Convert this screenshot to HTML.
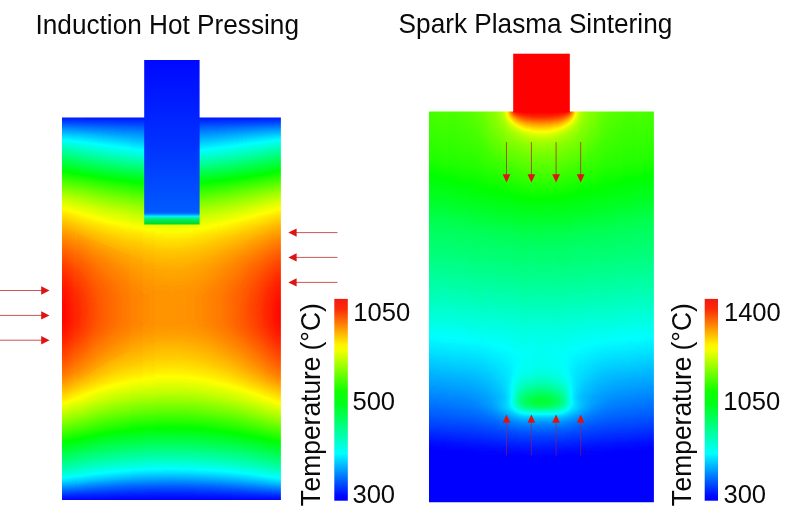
<!DOCTYPE html>
<html lang="en">
<head>
<meta charset="utf-8">
<title>Induction Hot Pressing vs Spark Plasma Sintering</title>
<style>
html,body{margin:0;padding:0;background:#fff;}
body{width:800px;height:526px;overflow:hidden;}
svg{display:block;}
text{font-family:"Liberation Sans",Arial,Helvetica,sans-serif;fill:#0a0a0a;}
.ttl{font-size:26.2px;}
.lab{font-size:25.6px;}
.rot{font-size:26.4px;}
.al{stroke:#b42420;stroke-width:.9;stroke-opacity:.85;fill:none;}
.ab{stroke:#c01838;stroke-opacity:.62;}
.ah{fill:#de1414;stroke:none;}
</style>
</head>
<body>
<svg width="800" height="526" viewBox="0 0 800 526">
<defs>
<filter id="rbl" filterUnits="userSpaceOnUse" x="40" y="95" width="265" height="430" color-interpolation-filters="sRGB">
<feGaussianBlur stdDeviation="4 2"/>
<feComponentTransfer>
<feFuncR type="table" tableValues="0 0 0 1 1"/>
<feFuncG type="table" tableValues="0 1 1 1 0"/>
<feFuncB type="table" tableValues="1 1 0 0 0"/>
<feFuncA type="linear" slope="0" intercept="1"/>
</feComponentTransfer>
</filter>
<filter id="rbr" filterUnits="userSpaceOnUse" x="405" y="90" width="275" height="436" color-interpolation-filters="sRGB">
<feGaussianBlur stdDeviation="2.2 1.2"/>
<feComponentTransfer>
<feFuncR type="table" tableValues="0 0 0 1 1"/>
<feFuncG type="table" tableValues="0 1 1 1 0"/>
<feFuncB type="table" tableValues="1 1 0 0 0"/>
<feFuncA type="linear" slope="0" intercept="1"/>
</feComponentTransfer>
</filter>
<clipPath id="cl"><rect x="62.0" y="117.4" width="218.89999999999998" height="382.6"/></clipPath>
<clipPath id="cr"><rect x="429.0" y="111.5" width="224.89999999999998" height="390.7"/></clipPath>
<linearGradient id="bar" x1="0" y1="0" x2="0" y2="1">
<stop offset="0" stop-color="#f21a12"/><stop offset="0.05" stop-color="#fb2a08"/><stop offset="0.225" stop-color="#fff200"/>
<stop offset="0.255" stop-color="#f4ff00"/><stop offset="0.455" stop-color="#10ff00"/><stop offset="0.52" stop-color="#00ff18"/>
<stop offset="0.765" stop-color="#00ffff"/><stop offset="0.975" stop-color="#0008ff"/><stop offset="1" stop-color="#0000ff"/>
</linearGradient>
<linearGradient id="plg" x1="0" y1="60" x2="0" y2="224.5" gradientUnits="userSpaceOnUse">
<stop offset="0" stop-color="#0008ff"/><stop offset="0.5" stop-color="#0030ff"/><stop offset="0.925" stop-color="#005aff"/>
<stop offset="0.935" stop-color="#0078ff"/><stop offset="0.95" stop-color="#00f0ff"/><stop offset="0.972" stop-color="#00ec50"/>
<stop offset="1" stop-color="#00d82c"/>
</linearGradient>
<linearGradient id="l0" x1="0" y1="103.4" x2="0" y2="517.4" gradientUnits="userSpaceOnUse"><stop offset="0" stop-color="#020202"/><stop offset=".029" stop-color="#020202"/><stop offset=".0435" stop-color="#0f0f0f"/><stop offset=".058" stop-color="#202020"/><stop offset=".0725" stop-color="#303030"/><stop offset=".087" stop-color="#3f3f3f"/><stop offset=".1014" stop-color="#4d4d4d"/><stop offset=".1159" stop-color="#5a5a5a"/><stop offset=".1304" stop-color="#666666"/><stop offset=".1449" stop-color="#717171"/><stop offset=".1594" stop-color="#7c7c7c"/><stop offset=".1739" stop-color="#888888"/><stop offset=".1884" stop-color="#939393"/><stop offset=".2029" stop-color="#9e9e9e"/><stop offset=".2174" stop-color="#a9a9a9"/><stop offset=".2319" stop-color="#b3b3b3"/><stop offset=".2464" stop-color="#bcbcbc"/><stop offset=".2609" stop-color="#c3c3c3"/><stop offset=".2754" stop-color="#cacaca"/><stop offset=".2899" stop-color="#d0d0d0"/><stop offset=".3043" stop-color="#d5d5d5"/><stop offset=".3188" stop-color="#dbdbdb"/><stop offset=".3333" stop-color="#e0e0e0"/><stop offset=".3478" stop-color="#e4e4e4"/><stop offset=".3623" stop-color="#e9e9e9"/><stop offset=".3768" stop-color="#ededed"/><stop offset=".3913" stop-color="#f0f0f0"/><stop offset=".4058" stop-color="#f4f4f4"/><stop offset=".4203" stop-color="#f6f6f6"/><stop offset=".4348" stop-color="#f9f9f9"/><stop offset=".4493" stop-color="#fbfbfb"/><stop offset=".4638" stop-color="#fcfcfc"/><stop offset=".4783" stop-color="#fefefe"/><stop offset=".4928" stop-color="#fefefe"/><stop offset=".5072" stop-color="#ffffff"/><stop offset=".5217" stop-color="#fefefe"/><stop offset=".5362" stop-color="#fdfdfd"/><stop offset=".5507" stop-color="#fcfcfc"/><stop offset=".5652" stop-color="#f9f9f9"/><stop offset=".5797" stop-color="#f6f6f6"/><stop offset=".5942" stop-color="#f2f2f2"/><stop offset=".6087" stop-color="#efefef"/><stop offset=".6232" stop-color="#ebebeb"/><stop offset=".6377" stop-color="#e7e7e7"/><stop offset=".6522" stop-color="#e3e3e3"/><stop offset=".6667" stop-color="#dddddd"/><stop offset=".6812" stop-color="#d6d6d6"/><stop offset=".6957" stop-color="#cfcfcf"/><stop offset=".7101" stop-color="#c8c8c8"/><stop offset=".7246" stop-color="#c0c0c0"/><stop offset=".7391" stop-color="#b7b7b7"/><stop offset=".7536" stop-color="#aeaeae"/><stop offset=".7681" stop-color="#a4a4a4"/><stop offset=".7826" stop-color="#999999"/><stop offset=".7971" stop-color="#8f8f8f"/><stop offset=".8116" stop-color="#858585"/><stop offset=".8261" stop-color="#7a7a7a"/><stop offset=".8406" stop-color="#717171"/><stop offset=".8551" stop-color="#676767"/><stop offset=".8696" stop-color="#5d5d5d"/><stop offset=".8841" stop-color="#535353"/><stop offset=".8986" stop-color="#474747"/><stop offset=".913" stop-color="#383838"/><stop offset=".9275" stop-color="#242424"/><stop offset=".942" stop-color="#111111"/><stop offset=".9565" stop-color="#000000"/><stop offset="1" stop-color="#000000"/></linearGradient>
<linearGradient id="l1" x1="0" y1="103.4" x2="0" y2="517.4" gradientUnits="userSpaceOnUse"><stop offset="0" stop-color="#020202"/><stop offset=".029" stop-color="#020202"/><stop offset=".0435" stop-color="#0f0f0f"/><stop offset=".058" stop-color="#202020"/><stop offset=".0725" stop-color="#303030"/><stop offset=".087" stop-color="#3f3f3f"/><stop offset=".1014" stop-color="#4d4d4d"/><stop offset=".1159" stop-color="#5a5a5a"/><stop offset=".1304" stop-color="#666666"/><stop offset=".1449" stop-color="#717171"/><stop offset=".1594" stop-color="#7c7c7c"/><stop offset=".1739" stop-color="#888888"/><stop offset=".1884" stop-color="#939393"/><stop offset=".2029" stop-color="#9e9e9e"/><stop offset=".2174" stop-color="#a9a9a9"/><stop offset=".2319" stop-color="#b3b3b3"/><stop offset=".2464" stop-color="#bcbcbc"/><stop offset=".2609" stop-color="#c3c3c3"/><stop offset=".2754" stop-color="#cacaca"/><stop offset=".2899" stop-color="#d0d0d0"/><stop offset=".3043" stop-color="#d5d5d5"/><stop offset=".3188" stop-color="#dbdbdb"/><stop offset=".3333" stop-color="#e0e0e0"/><stop offset=".3478" stop-color="#e4e4e4"/><stop offset=".3623" stop-color="#e9e9e9"/><stop offset=".3768" stop-color="#ededed"/><stop offset=".3913" stop-color="#f0f0f0"/><stop offset=".4058" stop-color="#f4f4f4"/><stop offset=".4203" stop-color="#f6f6f6"/><stop offset=".4348" stop-color="#f9f9f9"/><stop offset=".4493" stop-color="#fbfbfb"/><stop offset=".4638" stop-color="#fcfcfc"/><stop offset=".4783" stop-color="#fefefe"/><stop offset=".4928" stop-color="#fefefe"/><stop offset=".5072" stop-color="#ffffff"/><stop offset=".5217" stop-color="#fefefe"/><stop offset=".5362" stop-color="#fdfdfd"/><stop offset=".5507" stop-color="#fcfcfc"/><stop offset=".5652" stop-color="#f9f9f9"/><stop offset=".5797" stop-color="#f6f6f6"/><stop offset=".5942" stop-color="#f2f2f2"/><stop offset=".6087" stop-color="#efefef"/><stop offset=".6232" stop-color="#ebebeb"/><stop offset=".6377" stop-color="#e7e7e7"/><stop offset=".6522" stop-color="#e3e3e3"/><stop offset=".6667" stop-color="#dddddd"/><stop offset=".6812" stop-color="#d6d6d6"/><stop offset=".6957" stop-color="#cfcfcf"/><stop offset=".7101" stop-color="#c8c8c8"/><stop offset=".7246" stop-color="#c0c0c0"/><stop offset=".7391" stop-color="#b7b7b7"/><stop offset=".7536" stop-color="#aeaeae"/><stop offset=".7681" stop-color="#a4a4a4"/><stop offset=".7826" stop-color="#999999"/><stop offset=".7971" stop-color="#8f8f8f"/><stop offset=".8116" stop-color="#858585"/><stop offset=".8261" stop-color="#7a7a7a"/><stop offset=".8406" stop-color="#717171"/><stop offset=".8551" stop-color="#676767"/><stop offset=".8696" stop-color="#5d5d5d"/><stop offset=".8841" stop-color="#535353"/><stop offset=".8986" stop-color="#474747"/><stop offset=".913" stop-color="#383838"/><stop offset=".9275" stop-color="#242424"/><stop offset=".942" stop-color="#111111"/><stop offset=".9565" stop-color="#000000"/><stop offset="1" stop-color="#000000"/></linearGradient>
<linearGradient id="l2" x1="0" y1="103.4" x2="0" y2="517.4" gradientUnits="userSpaceOnUse"><stop offset="0" stop-color="#020202"/><stop offset=".029" stop-color="#020202"/><stop offset=".0435" stop-color="#0f0f0f"/><stop offset=".058" stop-color="#202020"/><stop offset=".0725" stop-color="#303030"/><stop offset=".087" stop-color="#3f3f3f"/><stop offset=".1014" stop-color="#4d4d4d"/><stop offset=".1159" stop-color="#5a5a5a"/><stop offset=".1304" stop-color="#666666"/><stop offset=".1449" stop-color="#717171"/><stop offset=".1594" stop-color="#7c7c7c"/><stop offset=".1739" stop-color="#888888"/><stop offset=".1884" stop-color="#939393"/><stop offset=".2029" stop-color="#9e9e9e"/><stop offset=".2174" stop-color="#a9a9a9"/><stop offset=".2319" stop-color="#b3b3b3"/><stop offset=".2464" stop-color="#bcbcbc"/><stop offset=".2609" stop-color="#c3c3c3"/><stop offset=".2754" stop-color="#cacaca"/><stop offset=".2899" stop-color="#d0d0d0"/><stop offset=".3043" stop-color="#d5d5d5"/><stop offset=".3188" stop-color="#dbdbdb"/><stop offset=".3333" stop-color="#e0e0e0"/><stop offset=".3478" stop-color="#e4e4e4"/><stop offset=".3623" stop-color="#e9e9e9"/><stop offset=".3768" stop-color="#ededed"/><stop offset=".3913" stop-color="#f0f0f0"/><stop offset=".4058" stop-color="#f4f4f4"/><stop offset=".4203" stop-color="#f6f6f6"/><stop offset=".4348" stop-color="#f9f9f9"/><stop offset=".4493" stop-color="#fbfbfb"/><stop offset=".4638" stop-color="#fcfcfc"/><stop offset=".4783" stop-color="#fefefe"/><stop offset=".4928" stop-color="#fefefe"/><stop offset=".5072" stop-color="#ffffff"/><stop offset=".5217" stop-color="#fefefe"/><stop offset=".5362" stop-color="#fdfdfd"/><stop offset=".5507" stop-color="#fcfcfc"/><stop offset=".5652" stop-color="#f9f9f9"/><stop offset=".5797" stop-color="#f6f6f6"/><stop offset=".5942" stop-color="#f2f2f2"/><stop offset=".6087" stop-color="#efefef"/><stop offset=".6232" stop-color="#ebebeb"/><stop offset=".6377" stop-color="#e7e7e7"/><stop offset=".6522" stop-color="#e3e3e3"/><stop offset=".6667" stop-color="#dddddd"/><stop offset=".6812" stop-color="#d6d6d6"/><stop offset=".6957" stop-color="#cfcfcf"/><stop offset=".7101" stop-color="#c8c8c8"/><stop offset=".7246" stop-color="#c0c0c0"/><stop offset=".7391" stop-color="#b7b7b7"/><stop offset=".7536" stop-color="#aeaeae"/><stop offset=".7681" stop-color="#a4a4a4"/><stop offset=".7826" stop-color="#999999"/><stop offset=".7971" stop-color="#8f8f8f"/><stop offset=".8116" stop-color="#858585"/><stop offset=".8261" stop-color="#7a7a7a"/><stop offset=".8406" stop-color="#717171"/><stop offset=".8551" stop-color="#676767"/><stop offset=".8696" stop-color="#5d5d5d"/><stop offset=".8841" stop-color="#535353"/><stop offset=".8986" stop-color="#474747"/><stop offset=".913" stop-color="#383838"/><stop offset=".9275" stop-color="#242424"/><stop offset=".942" stop-color="#111111"/><stop offset=".9565" stop-color="#000000"/><stop offset="1" stop-color="#000000"/></linearGradient>
<linearGradient id="l3" x1="0" y1="103.4" x2="0" y2="517.4" gradientUnits="userSpaceOnUse"><stop offset="0" stop-color="#020202"/><stop offset=".029" stop-color="#020202"/><stop offset=".0435" stop-color="#0f0f0f"/><stop offset=".058" stop-color="#202020"/><stop offset=".0725" stop-color="#303030"/><stop offset=".087" stop-color="#3f3f3f"/><stop offset=".1014" stop-color="#4d4d4d"/><stop offset=".1159" stop-color="#5a5a5a"/><stop offset=".1304" stop-color="#666666"/><stop offset=".1449" stop-color="#717171"/><stop offset=".1594" stop-color="#7c7c7c"/><stop offset=".1739" stop-color="#888888"/><stop offset=".1884" stop-color="#939393"/><stop offset=".2029" stop-color="#9e9e9e"/><stop offset=".2174" stop-color="#a9a9a9"/><stop offset=".2319" stop-color="#b3b3b3"/><stop offset=".2464" stop-color="#bcbcbc"/><stop offset=".2609" stop-color="#c3c3c3"/><stop offset=".2754" stop-color="#cacaca"/><stop offset=".2899" stop-color="#d0d0d0"/><stop offset=".3043" stop-color="#d5d5d5"/><stop offset=".3188" stop-color="#dbdbdb"/><stop offset=".3333" stop-color="#e0e0e0"/><stop offset=".3478" stop-color="#e4e4e4"/><stop offset=".3623" stop-color="#e9e9e9"/><stop offset=".3768" stop-color="#ededed"/><stop offset=".3913" stop-color="#f0f0f0"/><stop offset=".4058" stop-color="#f4f4f4"/><stop offset=".4203" stop-color="#f6f6f6"/><stop offset=".4348" stop-color="#f9f9f9"/><stop offset=".4493" stop-color="#fbfbfb"/><stop offset=".4638" stop-color="#fcfcfc"/><stop offset=".4783" stop-color="#fefefe"/><stop offset=".4928" stop-color="#fefefe"/><stop offset=".5072" stop-color="#ffffff"/><stop offset=".5217" stop-color="#fefefe"/><stop offset=".5362" stop-color="#fdfdfd"/><stop offset=".5507" stop-color="#fcfcfc"/><stop offset=".5652" stop-color="#f9f9f9"/><stop offset=".5797" stop-color="#f6f6f6"/><stop offset=".5942" stop-color="#f2f2f2"/><stop offset=".6087" stop-color="#efefef"/><stop offset=".6232" stop-color="#ebebeb"/><stop offset=".6377" stop-color="#e7e7e7"/><stop offset=".6522" stop-color="#e3e3e3"/><stop offset=".6667" stop-color="#dddddd"/><stop offset=".6812" stop-color="#d6d6d6"/><stop offset=".6957" stop-color="#cfcfcf"/><stop offset=".7101" stop-color="#c8c8c8"/><stop offset=".7246" stop-color="#c0c0c0"/><stop offset=".7391" stop-color="#b7b7b7"/><stop offset=".7536" stop-color="#aeaeae"/><stop offset=".7681" stop-color="#a4a4a4"/><stop offset=".7826" stop-color="#999999"/><stop offset=".7971" stop-color="#8f8f8f"/><stop offset=".8116" stop-color="#858585"/><stop offset=".8261" stop-color="#7a7a7a"/><stop offset=".8406" stop-color="#717171"/><stop offset=".8551" stop-color="#676767"/><stop offset=".8696" stop-color="#5d5d5d"/><stop offset=".8841" stop-color="#535353"/><stop offset=".8986" stop-color="#474747"/><stop offset=".913" stop-color="#383838"/><stop offset=".9275" stop-color="#242424"/><stop offset=".942" stop-color="#111111"/><stop offset=".9565" stop-color="#000000"/><stop offset="1" stop-color="#000000"/></linearGradient>
<linearGradient id="l4" x1="0" y1="103.4" x2="0" y2="517.4" gradientUnits="userSpaceOnUse"><stop offset="0" stop-color="#020202"/><stop offset=".029" stop-color="#020202"/><stop offset=".0435" stop-color="#0f0f0f"/><stop offset=".058" stop-color="#202020"/><stop offset=".0725" stop-color="#303030"/><stop offset=".087" stop-color="#3f3f3f"/><stop offset=".1014" stop-color="#4d4d4d"/><stop offset=".1159" stop-color="#5a5a5a"/><stop offset=".1304" stop-color="#666666"/><stop offset=".1449" stop-color="#717171"/><stop offset=".1594" stop-color="#7c7c7c"/><stop offset=".1739" stop-color="#888888"/><stop offset=".1884" stop-color="#939393"/><stop offset=".2029" stop-color="#9e9e9e"/><stop offset=".2174" stop-color="#a9a9a9"/><stop offset=".2319" stop-color="#b3b3b3"/><stop offset=".2464" stop-color="#bcbcbc"/><stop offset=".2609" stop-color="#c3c3c3"/><stop offset=".2754" stop-color="#cacaca"/><stop offset=".2899" stop-color="#d0d0d0"/><stop offset=".3043" stop-color="#d5d5d5"/><stop offset=".3188" stop-color="#dbdbdb"/><stop offset=".3333" stop-color="#e0e0e0"/><stop offset=".3478" stop-color="#e4e4e4"/><stop offset=".3623" stop-color="#e9e9e9"/><stop offset=".3768" stop-color="#ededed"/><stop offset=".3913" stop-color="#f0f0f0"/><stop offset=".4058" stop-color="#f4f4f4"/><stop offset=".4203" stop-color="#f6f6f6"/><stop offset=".4348" stop-color="#f9f9f9"/><stop offset=".4493" stop-color="#fbfbfb"/><stop offset=".4638" stop-color="#fcfcfc"/><stop offset=".4783" stop-color="#fefefe"/><stop offset=".4928" stop-color="#fefefe"/><stop offset=".5072" stop-color="#ffffff"/><stop offset=".5217" stop-color="#fefefe"/><stop offset=".5362" stop-color="#fdfdfd"/><stop offset=".5507" stop-color="#fcfcfc"/><stop offset=".5652" stop-color="#f9f9f9"/><stop offset=".5797" stop-color="#f6f6f6"/><stop offset=".5942" stop-color="#f2f2f2"/><stop offset=".6087" stop-color="#efefef"/><stop offset=".6232" stop-color="#ebebeb"/><stop offset=".6377" stop-color="#e7e7e7"/><stop offset=".6522" stop-color="#e3e3e3"/><stop offset=".6667" stop-color="#dddddd"/><stop offset=".6812" stop-color="#d6d6d6"/><stop offset=".6957" stop-color="#cfcfcf"/><stop offset=".7101" stop-color="#c8c8c8"/><stop offset=".7246" stop-color="#c0c0c0"/><stop offset=".7391" stop-color="#b7b7b7"/><stop offset=".7536" stop-color="#aeaeae"/><stop offset=".7681" stop-color="#a4a4a4"/><stop offset=".7826" stop-color="#999999"/><stop offset=".7971" stop-color="#8f8f8f"/><stop offset=".8116" stop-color="#858585"/><stop offset=".8261" stop-color="#7a7a7a"/><stop offset=".8406" stop-color="#717171"/><stop offset=".8551" stop-color="#676767"/><stop offset=".8696" stop-color="#5d5d5d"/><stop offset=".8841" stop-color="#535353"/><stop offset=".8986" stop-color="#474747"/><stop offset=".913" stop-color="#383838"/><stop offset=".9275" stop-color="#242424"/><stop offset=".942" stop-color="#111111"/><stop offset=".9565" stop-color="#000000"/><stop offset="1" stop-color="#000000"/></linearGradient>
<linearGradient id="l5" x1="0" y1="103.4" x2="0" y2="517.4" gradientUnits="userSpaceOnUse"><stop offset="0" stop-color="#020202"/><stop offset=".029" stop-color="#020202"/><stop offset=".0435" stop-color="#0e0e0e"/><stop offset=".058" stop-color="#202020"/><stop offset=".0725" stop-color="#303030"/><stop offset=".087" stop-color="#3f3f3f"/><stop offset=".1014" stop-color="#4c4c4c"/><stop offset=".1159" stop-color="#595959"/><stop offset=".1304" stop-color="#656565"/><stop offset=".1449" stop-color="#707070"/><stop offset=".1594" stop-color="#7c7c7c"/><stop offset=".1739" stop-color="#878787"/><stop offset=".1884" stop-color="#929292"/><stop offset=".2029" stop-color="#9d9d9d"/><stop offset=".2174" stop-color="#a8a8a8"/><stop offset=".2319" stop-color="#b2b2b2"/><stop offset=".2464" stop-color="#bbbbbb"/><stop offset=".2609" stop-color="#c2c2c2"/><stop offset=".2754" stop-color="#c9c9c9"/><stop offset=".2899" stop-color="#cfcfcf"/><stop offset=".3043" stop-color="#d5d5d5"/><stop offset=".3188" stop-color="#dadada"/><stop offset=".3333" stop-color="#dfdfdf"/><stop offset=".3478" stop-color="#e4e4e4"/><stop offset=".3623" stop-color="#e8e8e8"/><stop offset=".3768" stop-color="#ececec"/><stop offset=".3913" stop-color="#efefef"/><stop offset=".4058" stop-color="#f2f2f2"/><stop offset=".4203" stop-color="#f5f5f5"/><stop offset=".4348" stop-color="#f7f7f7"/><stop offset=".4493" stop-color="#fafafa"/><stop offset=".4638" stop-color="#fbfbfb"/><stop offset=".4783" stop-color="#fcfcfc"/><stop offset=".4928" stop-color="#fdfdfd"/><stop offset=".5217" stop-color="#fdfdfd"/><stop offset=".5362" stop-color="#fcfcfc"/><stop offset=".5507" stop-color="#fafafa"/><stop offset=".5652" stop-color="#f7f7f7"/><stop offset=".5797" stop-color="#f4f4f4"/><stop offset=".5942" stop-color="#f1f1f1"/><stop offset=".6087" stop-color="#eeeeee"/><stop offset=".6232" stop-color="#eaeaea"/><stop offset=".6377" stop-color="#e6e6e6"/><stop offset=".6522" stop-color="#e1e1e1"/><stop offset=".6667" stop-color="#dcdcdc"/><stop offset=".6812" stop-color="#d5d5d5"/><stop offset=".6957" stop-color="#cecece"/><stop offset=".7101" stop-color="#c7c7c7"/><stop offset=".7246" stop-color="#bfbfbf"/><stop offset=".7391" stop-color="#b6b6b6"/><stop offset=".7536" stop-color="#adadad"/><stop offset=".7681" stop-color="#a3a3a3"/><stop offset=".7826" stop-color="#999999"/><stop offset=".7971" stop-color="#8e8e8e"/><stop offset=".8116" stop-color="#848484"/><stop offset=".8261" stop-color="#7a7a7a"/><stop offset=".8406" stop-color="#707070"/><stop offset=".8551" stop-color="#676767"/><stop offset=".8696" stop-color="#5d5d5d"/><stop offset=".8841" stop-color="#525252"/><stop offset=".8986" stop-color="#464646"/><stop offset=".913" stop-color="#373737"/><stop offset=".9275" stop-color="#242424"/><stop offset=".942" stop-color="#111111"/><stop offset=".9565" stop-color="#000000"/><stop offset="1" stop-color="#000000"/></linearGradient>
<linearGradient id="l6" x1="0" y1="103.4" x2="0" y2="517.4" gradientUnits="userSpaceOnUse"><stop offset="0" stop-color="#020202"/><stop offset=".029" stop-color="#020202"/><stop offset=".0435" stop-color="#0e0e0e"/><stop offset=".058" stop-color="#202020"/><stop offset=".0725" stop-color="#2f2f2f"/><stop offset=".087" stop-color="#3e3e3e"/><stop offset=".1014" stop-color="#4b4b4b"/><stop offset=".1159" stop-color="#585858"/><stop offset=".1304" stop-color="#646464"/><stop offset=".1449" stop-color="#6f6f6f"/><stop offset=".1594" stop-color="#7b7b7b"/><stop offset=".1739" stop-color="#868686"/><stop offset=".1884" stop-color="#919191"/><stop offset=".2029" stop-color="#9c9c9c"/><stop offset=".2174" stop-color="#a7a7a7"/><stop offset=".2319" stop-color="#b1b1b1"/><stop offset=".2464" stop-color="#bababa"/><stop offset=".2609" stop-color="#c1c1c1"/><stop offset=".2754" stop-color="#c8c8c8"/><stop offset=".2899" stop-color="#cecece"/><stop offset=".3043" stop-color="#d4d4d4"/><stop offset=".3188" stop-color="#d9d9d9"/><stop offset=".3333" stop-color="#dedede"/><stop offset=".3478" stop-color="#e2e2e2"/><stop offset=".3623" stop-color="#e7e7e7"/><stop offset=".3768" stop-color="#eaeaea"/><stop offset=".3913" stop-color="#eeeeee"/><stop offset=".4058" stop-color="#f1f1f1"/><stop offset=".4203" stop-color="#f4f4f4"/><stop offset=".4348" stop-color="#f6f6f6"/><stop offset=".4493" stop-color="#f8f8f8"/><stop offset=".4638" stop-color="#f9f9f9"/><stop offset=".4783" stop-color="#fafafa"/><stop offset=".4928" stop-color="#fbfbfb"/><stop offset=".5217" stop-color="#fbfbfb"/><stop offset=".5362" stop-color="#fafafa"/><stop offset=".5507" stop-color="#f8f8f8"/><stop offset=".5652" stop-color="#f6f6f6"/><stop offset=".5797" stop-color="#f2f2f2"/><stop offset=".5942" stop-color="#efefef"/><stop offset=".6087" stop-color="#ececec"/><stop offset=".6232" stop-color="#e8e8e8"/><stop offset=".6377" stop-color="#e4e4e4"/><stop offset=".6522" stop-color="#e0e0e0"/><stop offset=".6667" stop-color="#dadada"/><stop offset=".6812" stop-color="#d3d3d3"/><stop offset=".6957" stop-color="#cccccc"/><stop offset=".7101" stop-color="#c5c5c5"/><stop offset=".7246" stop-color="#bdbdbd"/><stop offset=".7391" stop-color="#b4b4b4"/><stop offset=".7536" stop-color="#ababab"/><stop offset=".7681" stop-color="#a1a1a1"/><stop offset=".7826" stop-color="#979797"/><stop offset=".7971" stop-color="#8d8d8d"/><stop offset=".8116" stop-color="#838383"/><stop offset=".8261" stop-color="#797979"/><stop offset=".8406" stop-color="#6f6f6f"/><stop offset=".8551" stop-color="#666666"/><stop offset=".8696" stop-color="#5c5c5c"/><stop offset=".8841" stop-color="#515151"/><stop offset=".8986" stop-color="#454545"/><stop offset=".913" stop-color="#363636"/><stop offset=".9275" stop-color="#232323"/><stop offset=".942" stop-color="#101010"/><stop offset=".9565" stop-color="#000000"/><stop offset="1" stop-color="#000000"/></linearGradient>
<linearGradient id="l7" x1="0" y1="103.4" x2="0" y2="517.4" gradientUnits="userSpaceOnUse"><stop offset="0" stop-color="#020202"/><stop offset=".029" stop-color="#020202"/><stop offset=".0435" stop-color="#0e0e0e"/><stop offset=".058" stop-color="#1f1f1f"/><stop offset=".0725" stop-color="#2f2f2f"/><stop offset=".087" stop-color="#3d3d3d"/><stop offset=".1014" stop-color="#4a4a4a"/><stop offset=".1159" stop-color="#575757"/><stop offset=".1304" stop-color="#636363"/><stop offset=".1449" stop-color="#6e6e6e"/><stop offset=".1594" stop-color="#797979"/><stop offset=".1739" stop-color="#858585"/><stop offset=".1884" stop-color="#909090"/><stop offset=".2029" stop-color="#9b9b9b"/><stop offset=".2174" stop-color="#a6a6a6"/><stop offset=".2319" stop-color="#b0b0b0"/><stop offset=".2464" stop-color="#b9b9b9"/><stop offset=".2609" stop-color="#c0c0c0"/><stop offset=".2754" stop-color="#c7c7c7"/><stop offset=".2899" stop-color="#cdcdcd"/><stop offset=".3043" stop-color="#d3d3d3"/><stop offset=".3188" stop-color="#d8d8d8"/><stop offset=".3333" stop-color="#dddddd"/><stop offset=".3478" stop-color="#e1e1e1"/><stop offset=".3623" stop-color="#e5e5e5"/><stop offset=".3768" stop-color="#e9e9e9"/><stop offset=".3913" stop-color="#ececec"/><stop offset=".4058" stop-color="#efefef"/><stop offset=".4203" stop-color="#f2f2f2"/><stop offset=".4348" stop-color="#f4f4f4"/><stop offset=".4493" stop-color="#f6f6f6"/><stop offset=".4638" stop-color="#f7f7f7"/><stop offset=".4783" stop-color="#f8f8f8"/><stop offset=".4928" stop-color="#f9f9f9"/><stop offset=".5217" stop-color="#f9f9f9"/><stop offset=".5362" stop-color="#f8f8f8"/><stop offset=".5507" stop-color="#f6f6f6"/><stop offset=".5652" stop-color="#f4f4f4"/><stop offset=".5797" stop-color="#f1f1f1"/><stop offset=".5942" stop-color="#ededed"/><stop offset=".6087" stop-color="#eaeaea"/><stop offset=".6232" stop-color="#e7e7e7"/><stop offset=".6377" stop-color="#e2e2e2"/><stop offset=".6522" stop-color="#dedede"/><stop offset=".6667" stop-color="#d8d8d8"/><stop offset=".6812" stop-color="#d2d2d2"/><stop offset=".6957" stop-color="#cbcbcb"/><stop offset=".7101" stop-color="#c3c3c3"/><stop offset=".7246" stop-color="#bbbbbb"/><stop offset=".7391" stop-color="#b3b3b3"/><stop offset=".7536" stop-color="#aaaaaa"/><stop offset=".7681" stop-color="#a0a0a0"/><stop offset=".7826" stop-color="#969696"/><stop offset=".7971" stop-color="#8c8c8c"/><stop offset=".8116" stop-color="#828282"/><stop offset=".8261" stop-color="#787878"/><stop offset=".8406" stop-color="#6e6e6e"/><stop offset=".8551" stop-color="#656565"/><stop offset=".8696" stop-color="#5b5b5b"/><stop offset=".8841" stop-color="#505050"/><stop offset=".8986" stop-color="#444444"/><stop offset=".913" stop-color="#353535"/><stop offset=".9275" stop-color="#222222"/><stop offset=".942" stop-color="#101010"/><stop offset=".9565" stop-color="#000000"/><stop offset="1" stop-color="#000000"/></linearGradient>
<linearGradient id="l8" x1="0" y1="103.4" x2="0" y2="517.4" gradientUnits="userSpaceOnUse"><stop offset="0" stop-color="#020202"/><stop offset=".029" stop-color="#020202"/><stop offset=".0435" stop-color="#0e0e0e"/><stop offset=".058" stop-color="#1f1f1f"/><stop offset=".0725" stop-color="#2e2e2e"/><stop offset=".087" stop-color="#3c3c3c"/><stop offset=".1014" stop-color="#494949"/><stop offset=".1159" stop-color="#565656"/><stop offset=".1304" stop-color="#616161"/><stop offset=".1449" stop-color="#6d6d6d"/><stop offset=".1594" stop-color="#787878"/><stop offset=".1739" stop-color="#848484"/><stop offset=".1884" stop-color="#8f8f8f"/><stop offset=".2029" stop-color="#9a9a9a"/><stop offset=".2174" stop-color="#a5a5a5"/><stop offset=".2319" stop-color="#afafaf"/><stop offset=".2464" stop-color="#b7b7b7"/><stop offset=".2609" stop-color="#bfbfbf"/><stop offset=".2754" stop-color="#c6c6c6"/><stop offset=".2899" stop-color="#cccccc"/><stop offset=".3043" stop-color="#d2d2d2"/><stop offset=".3188" stop-color="#d7d7d7"/><stop offset=".3333" stop-color="#dcdcdc"/><stop offset=".3478" stop-color="#e0e0e0"/><stop offset=".3623" stop-color="#e4e4e4"/><stop offset=".3768" stop-color="#e8e8e8"/><stop offset=".3913" stop-color="#ebebeb"/><stop offset=".4058" stop-color="#eeeeee"/><stop offset=".4203" stop-color="#f0f0f0"/><stop offset=".4348" stop-color="#f2f2f2"/><stop offset=".4493" stop-color="#f4f4f4"/><stop offset=".4638" stop-color="#f6f6f6"/><stop offset=".4783" stop-color="#f6f6f6"/><stop offset=".4928" stop-color="#f7f7f7"/><stop offset=".5217" stop-color="#f7f7f7"/><stop offset=".5362" stop-color="#f6f6f6"/><stop offset=".5507" stop-color="#f4f4f4"/><stop offset=".5652" stop-color="#f2f2f2"/><stop offset=".5797" stop-color="#efefef"/><stop offset=".5942" stop-color="#ececec"/><stop offset=".6087" stop-color="#e8e8e8"/><stop offset=".6232" stop-color="#e5e5e5"/><stop offset=".6377" stop-color="#e1e1e1"/><stop offset=".6522" stop-color="#dcdcdc"/><stop offset=".6667" stop-color="#d7d7d7"/><stop offset=".6812" stop-color="#d0d0d0"/><stop offset=".6957" stop-color="#c9c9c9"/><stop offset=".7101" stop-color="#c2c2c2"/><stop offset=".7246" stop-color="#bababa"/><stop offset=".7391" stop-color="#b1b1b1"/><stop offset=".7536" stop-color="#a8a8a8"/><stop offset=".7681" stop-color="#9f9f9f"/><stop offset=".7826" stop-color="#959595"/><stop offset=".7971" stop-color="#8b8b8b"/><stop offset=".8116" stop-color="#818181"/><stop offset=".8261" stop-color="#777777"/><stop offset=".8406" stop-color="#6d6d6d"/><stop offset=".8551" stop-color="#646464"/><stop offset=".8696" stop-color="#5a5a5a"/><stop offset=".8841" stop-color="#4f4f4f"/><stop offset=".8986" stop-color="#434343"/><stop offset=".913" stop-color="#343434"/><stop offset=".9275" stop-color="#212121"/><stop offset=".942" stop-color="#0f0f0f"/><stop offset=".9565" stop-color="#000000"/><stop offset="1" stop-color="#000000"/></linearGradient>
<linearGradient id="l9" x1="0" y1="103.4" x2="0" y2="517.4" gradientUnits="userSpaceOnUse"><stop offset="0" stop-color="#010101"/><stop offset=".029" stop-color="#010101"/><stop offset=".0435" stop-color="#0e0e0e"/><stop offset=".058" stop-color="#1e1e1e"/><stop offset=".0725" stop-color="#2e2e2e"/><stop offset=".087" stop-color="#3b3b3b"/><stop offset=".1014" stop-color="#484848"/><stop offset=".1159" stop-color="#545454"/><stop offset=".1304" stop-color="#606060"/><stop offset=".1449" stop-color="#6c6c6c"/><stop offset=".1594" stop-color="#777777"/><stop offset=".1739" stop-color="#838383"/><stop offset=".1884" stop-color="#8e8e8e"/><stop offset=".2029" stop-color="#999999"/><stop offset=".2174" stop-color="#a4a4a4"/><stop offset=".2319" stop-color="#aeaeae"/><stop offset=".2464" stop-color="#b6b6b6"/><stop offset=".2609" stop-color="#bebebe"/><stop offset=".2754" stop-color="#c5c5c5"/><stop offset=".2899" stop-color="#cbcbcb"/><stop offset=".3043" stop-color="#d1d1d1"/><stop offset=".3188" stop-color="#d6d6d6"/><stop offset=".3333" stop-color="#dbdbdb"/><stop offset=".3478" stop-color="#dfdfdf"/><stop offset=".3623" stop-color="#e3e3e3"/><stop offset=".3768" stop-color="#e6e6e6"/><stop offset=".3913" stop-color="#eaeaea"/><stop offset=".4058" stop-color="#ececec"/><stop offset=".4203" stop-color="#efefef"/><stop offset=".4348" stop-color="#f1f1f1"/><stop offset=".4493" stop-color="#f3f3f3"/><stop offset=".4638" stop-color="#f4f4f4"/><stop offset=".4783" stop-color="#f5f5f5"/><stop offset=".5217" stop-color="#f5f5f5"/><stop offset=".5362" stop-color="#f4f4f4"/><stop offset=".5507" stop-color="#f3f3f3"/><stop offset=".5652" stop-color="#f0f0f0"/><stop offset=".5797" stop-color="#ededed"/><stop offset=".5942" stop-color="#eaeaea"/><stop offset=".6087" stop-color="#e7e7e7"/><stop offset=".6232" stop-color="#e3e3e3"/><stop offset=".6377" stop-color="#dfdfdf"/><stop offset=".6522" stop-color="#dbdbdb"/><stop offset=".6667" stop-color="#d5d5d5"/><stop offset=".6812" stop-color="#cfcfcf"/><stop offset=".6957" stop-color="#c8c8c8"/><stop offset=".7101" stop-color="#c0c0c0"/><stop offset=".7246" stop-color="#b9b9b9"/><stop offset=".7391" stop-color="#b0b0b0"/><stop offset=".7536" stop-color="#a7a7a7"/><stop offset=".7681" stop-color="#9d9d9d"/><stop offset=".7826" stop-color="#939393"/><stop offset=".7971" stop-color="#898989"/><stop offset=".8116" stop-color="#808080"/><stop offset=".8261" stop-color="#767676"/><stop offset=".8406" stop-color="#6c6c6c"/><stop offset=".8551" stop-color="#636363"/><stop offset=".8696" stop-color="#595959"/><stop offset=".8841" stop-color="#4e4e4e"/><stop offset=".8986" stop-color="#424242"/><stop offset=".913" stop-color="#333333"/><stop offset=".9275" stop-color="#212121"/><stop offset=".942" stop-color="#0f0f0f"/><stop offset=".9565" stop-color="#000000"/><stop offset="1" stop-color="#000000"/></linearGradient>
<linearGradient id="l10" x1="0" y1="103.4" x2="0" y2="517.4" gradientUnits="userSpaceOnUse"><stop offset="0" stop-color="#010101"/><stop offset=".029" stop-color="#010101"/><stop offset=".0435" stop-color="#0e0e0e"/><stop offset=".058" stop-color="#1e1e1e"/><stop offset=".0725" stop-color="#2d2d2d"/><stop offset=".087" stop-color="#3b3b3b"/><stop offset=".1014" stop-color="#474747"/><stop offset=".1159" stop-color="#535353"/><stop offset=".1304" stop-color="#5f5f5f"/><stop offset=".1449" stop-color="#6b6b6b"/><stop offset=".1594" stop-color="#767676"/><stop offset=".1739" stop-color="#828282"/><stop offset=".1884" stop-color="#8d8d8d"/><stop offset=".2029" stop-color="#989898"/><stop offset=".2174" stop-color="#a3a3a3"/><stop offset=".2319" stop-color="#acacac"/><stop offset=".2464" stop-color="#b5b5b5"/><stop offset=".2609" stop-color="#bdbdbd"/><stop offset=".2754" stop-color="#c4c4c4"/><stop offset=".2899" stop-color="#cacaca"/><stop offset=".3043" stop-color="#d0d0d0"/><stop offset=".3188" stop-color="#d5d5d5"/><stop offset=".3333" stop-color="#dadada"/><stop offset=".3478" stop-color="#dedede"/><stop offset=".3623" stop-color="#e2e2e2"/><stop offset=".3768" stop-color="#e5e5e5"/><stop offset=".3913" stop-color="#e8e8e8"/><stop offset=".4058" stop-color="#ebebeb"/><stop offset=".4203" stop-color="#ededed"/><stop offset=".4348" stop-color="#efefef"/><stop offset=".4493" stop-color="#f1f1f1"/><stop offset=".4638" stop-color="#f2f2f2"/><stop offset=".4783" stop-color="#f3f3f3"/><stop offset=".4928" stop-color="#f3f3f3"/><stop offset=".5072" stop-color="#f4f4f4"/><stop offset=".5217" stop-color="#f3f3f3"/><stop offset=".5362" stop-color="#f3f3f3"/><stop offset=".5507" stop-color="#f1f1f1"/><stop offset=".5652" stop-color="#eeeeee"/><stop offset=".5797" stop-color="#ebebeb"/><stop offset=".5942" stop-color="#e8e8e8"/><stop offset=".6087" stop-color="#e5e5e5"/><stop offset=".6232" stop-color="#e1e1e1"/><stop offset=".6377" stop-color="#dedede"/><stop offset=".6522" stop-color="#d9d9d9"/><stop offset=".6667" stop-color="#d4d4d4"/><stop offset=".6812" stop-color="#cdcdcd"/><stop offset=".6957" stop-color="#c6c6c6"/><stop offset=".7101" stop-color="#bfbfbf"/><stop offset=".7246" stop-color="#b7b7b7"/><stop offset=".7391" stop-color="#afafaf"/><stop offset=".7536" stop-color="#a5a5a5"/><stop offset=".7681" stop-color="#9c9c9c"/><stop offset=".7826" stop-color="#929292"/><stop offset=".7971" stop-color="#888888"/><stop offset=".8116" stop-color="#7f7f7f"/><stop offset=".8261" stop-color="#757575"/><stop offset=".8406" stop-color="#6b6b6b"/><stop offset=".8551" stop-color="#626262"/><stop offset=".8696" stop-color="#585858"/><stop offset=".8841" stop-color="#4d4d4d"/><stop offset=".8986" stop-color="#414141"/><stop offset=".913" stop-color="#323232"/><stop offset=".9275" stop-color="#202020"/><stop offset=".942" stop-color="#0f0f0f"/><stop offset=".9565" stop-color="#000000"/><stop offset="1" stop-color="#000000"/></linearGradient>
<linearGradient id="l11" x1="0" y1="103.4" x2="0" y2="517.4" gradientUnits="userSpaceOnUse"><stop offset="0" stop-color="#010101"/><stop offset=".029" stop-color="#010101"/><stop offset=".0435" stop-color="#0e0e0e"/><stop offset=".058" stop-color="#1e1e1e"/><stop offset=".0725" stop-color="#2c2c2c"/><stop offset=".087" stop-color="#3a3a3a"/><stop offset=".1014" stop-color="#464646"/><stop offset=".1159" stop-color="#525252"/><stop offset=".1304" stop-color="#5e5e5e"/><stop offset=".1449" stop-color="#6a6a6a"/><stop offset=".1594" stop-color="#757575"/><stop offset=".1739" stop-color="#818181"/><stop offset=".1884" stop-color="#8c8c8c"/><stop offset=".2029" stop-color="#979797"/><stop offset=".2174" stop-color="#a2a2a2"/><stop offset=".2319" stop-color="#ababab"/><stop offset=".2464" stop-color="#b4b4b4"/><stop offset=".2609" stop-color="#bcbcbc"/><stop offset=".2754" stop-color="#c3c3c3"/><stop offset=".2899" stop-color="#c9c9c9"/><stop offset=".3043" stop-color="#cfcfcf"/><stop offset=".3188" stop-color="#d4d4d4"/><stop offset=".3333" stop-color="#d9d9d9"/><stop offset=".3478" stop-color="#dddddd"/><stop offset=".3623" stop-color="#e1e1e1"/><stop offset=".3768" stop-color="#e4e4e4"/><stop offset=".3913" stop-color="#e7e7e7"/><stop offset=".4058" stop-color="#eaeaea"/><stop offset=".4203" stop-color="#ececec"/><stop offset=".4348" stop-color="#eeeeee"/><stop offset=".4493" stop-color="#efefef"/><stop offset=".4638" stop-color="#f1f1f1"/><stop offset=".4783" stop-color="#f1f1f1"/><stop offset=".4928" stop-color="#f2f2f2"/><stop offset=".5217" stop-color="#f2f2f2"/><stop offset=".5362" stop-color="#f1f1f1"/><stop offset=".5507" stop-color="#efefef"/><stop offset=".5652" stop-color="#ededed"/><stop offset=".5797" stop-color="#eaeaea"/><stop offset=".5942" stop-color="#e7e7e7"/><stop offset=".6087" stop-color="#e3e3e3"/><stop offset=".6232" stop-color="#e0e0e0"/><stop offset=".6377" stop-color="#dcdcdc"/><stop offset=".6522" stop-color="#d7d7d7"/><stop offset=".6667" stop-color="#d2d2d2"/><stop offset=".6812" stop-color="#cccccc"/><stop offset=".6957" stop-color="#c5c5c5"/><stop offset=".7101" stop-color="#bebebe"/><stop offset=".7246" stop-color="#b6b6b6"/><stop offset=".7391" stop-color="#adadad"/><stop offset=".7536" stop-color="#a4a4a4"/><stop offset=".7681" stop-color="#9b9b9b"/><stop offset=".7826" stop-color="#919191"/><stop offset=".7971" stop-color="#878787"/><stop offset=".8116" stop-color="#7e7e7e"/><stop offset=".8261" stop-color="#747474"/><stop offset=".8406" stop-color="#6a6a6a"/><stop offset=".8551" stop-color="#616161"/><stop offset=".8696" stop-color="#575757"/><stop offset=".8841" stop-color="#4c4c4c"/><stop offset=".8986" stop-color="#404040"/><stop offset=".913" stop-color="#313131"/><stop offset=".9275" stop-color="#1f1f1f"/><stop offset=".942" stop-color="#0e0e0e"/><stop offset=".9565" stop-color="#000000"/><stop offset="1" stop-color="#000000"/></linearGradient>
<linearGradient id="l12" x1="0" y1="103.4" x2="0" y2="517.4" gradientUnits="userSpaceOnUse"><stop offset="0" stop-color="#010101"/><stop offset=".029" stop-color="#010101"/><stop offset=".0435" stop-color="#0d0d0d"/><stop offset=".058" stop-color="#1d1d1d"/><stop offset=".0725" stop-color="#2c2c2c"/><stop offset=".087" stop-color="#393939"/><stop offset=".1014" stop-color="#454545"/><stop offset=".1159" stop-color="#515151"/><stop offset=".1304" stop-color="#5d5d5d"/><stop offset=".1449" stop-color="#696969"/><stop offset=".1594" stop-color="#747474"/><stop offset=".1739" stop-color="#808080"/><stop offset=".1884" stop-color="#8b8b8b"/><stop offset=".2029" stop-color="#969696"/><stop offset=".2174" stop-color="#a1a1a1"/><stop offset=".2319" stop-color="#aaaaaa"/><stop offset=".2464" stop-color="#b3b3b3"/><stop offset=".2609" stop-color="#bbbbbb"/><stop offset=".2754" stop-color="#c2c2c2"/><stop offset=".2899" stop-color="#c8c8c8"/><stop offset=".3043" stop-color="#cecece"/><stop offset=".3188" stop-color="#d3d3d3"/><stop offset=".3333" stop-color="#d8d8d8"/><stop offset=".3478" stop-color="#dcdcdc"/><stop offset=".3623" stop-color="#e0e0e0"/><stop offset=".3768" stop-color="#e3e3e3"/><stop offset=".3913" stop-color="#e6e6e6"/><stop offset=".4058" stop-color="#e8e8e8"/><stop offset=".4203" stop-color="#ebebeb"/><stop offset=".4348" stop-color="#ececec"/><stop offset=".4493" stop-color="#eeeeee"/><stop offset=".4638" stop-color="#efefef"/><stop offset=".4783" stop-color="#f0f0f0"/><stop offset=".5217" stop-color="#f0f0f0"/><stop offset=".5362" stop-color="#efefef"/><stop offset=".5507" stop-color="#eeeeee"/><stop offset=".5652" stop-color="#ebebeb"/><stop offset=".5797" stop-color="#e8e8e8"/><stop offset=".5942" stop-color="#e5e5e5"/><stop offset=".6087" stop-color="#e2e2e2"/><stop offset=".6232" stop-color="#dedede"/><stop offset=".6377" stop-color="#dadada"/><stop offset=".6522" stop-color="#d6d6d6"/><stop offset=".6667" stop-color="#d1d1d1"/><stop offset=".6812" stop-color="#cacaca"/><stop offset=".6957" stop-color="#c3c3c3"/><stop offset=".7101" stop-color="#bcbcbc"/><stop offset=".7246" stop-color="#b4b4b4"/><stop offset=".7391" stop-color="#acacac"/><stop offset=".7536" stop-color="#a3a3a3"/><stop offset=".7681" stop-color="#999999"/><stop offset=".7826" stop-color="#909090"/><stop offset=".7971" stop-color="#868686"/><stop offset=".8116" stop-color="#7d7d7d"/><stop offset=".8261" stop-color="#737373"/><stop offset=".8406" stop-color="#6a6a6a"/><stop offset=".8551" stop-color="#606060"/><stop offset=".8696" stop-color="#565656"/><stop offset=".8841" stop-color="#4b4b4b"/><stop offset=".8986" stop-color="#3f3f3f"/><stop offset=".913" stop-color="#303030"/><stop offset=".9275" stop-color="#1e1e1e"/><stop offset=".942" stop-color="#0e0e0e"/><stop offset=".9565" stop-color="#000000"/><stop offset="1" stop-color="#000000"/></linearGradient>
<linearGradient id="l13" x1="0" y1="103.4" x2="0" y2="517.4" gradientUnits="userSpaceOnUse"><stop offset="0" stop-color="#010101"/><stop offset=".029" stop-color="#010101"/><stop offset=".0435" stop-color="#0d0d0d"/><stop offset=".058" stop-color="#1d1d1d"/><stop offset=".0725" stop-color="#2b2b2b"/><stop offset=".087" stop-color="#383838"/><stop offset=".1014" stop-color="#454545"/><stop offset=".1159" stop-color="#505050"/><stop offset=".1304" stop-color="#5c5c5c"/><stop offset=".1449" stop-color="#686868"/><stop offset=".1594" stop-color="#737373"/><stop offset=".1739" stop-color="#7f7f7f"/><stop offset=".1884" stop-color="#8a8a8a"/><stop offset=".2029" stop-color="#959595"/><stop offset=".2174" stop-color="#a0a0a0"/><stop offset=".2319" stop-color="#a9a9a9"/><stop offset=".2464" stop-color="#b2b2b2"/><stop offset=".2609" stop-color="#bababa"/><stop offset=".2754" stop-color="#c1c1c1"/><stop offset=".2899" stop-color="#c7c7c7"/><stop offset=".3043" stop-color="#cdcdcd"/><stop offset=".3188" stop-color="#d2d2d2"/><stop offset=".3333" stop-color="#d7d7d7"/><stop offset=".3478" stop-color="#dbdbdb"/><stop offset=".3623" stop-color="#dedede"/><stop offset=".3768" stop-color="#e2e2e2"/><stop offset=".3913" stop-color="#e5e5e5"/><stop offset=".4058" stop-color="#e7e7e7"/><stop offset=".4203" stop-color="#e9e9e9"/><stop offset=".4348" stop-color="#ebebeb"/><stop offset=".4493" stop-color="#ececec"/><stop offset=".4638" stop-color="#ededed"/><stop offset=".4783" stop-color="#eeeeee"/><stop offset=".4928" stop-color="#efefef"/><stop offset=".5072" stop-color="#efefef"/><stop offset=".5217" stop-color="#eeeeee"/><stop offset=".5362" stop-color="#eeeeee"/><stop offset=".5507" stop-color="#ececec"/><stop offset=".5652" stop-color="#eaeaea"/><stop offset=".5797" stop-color="#e7e7e7"/><stop offset=".5942" stop-color="#e4e4e4"/><stop offset=".6087" stop-color="#e0e0e0"/><stop offset=".6232" stop-color="#dddddd"/><stop offset=".6377" stop-color="#d9d9d9"/><stop offset=".6522" stop-color="#d5d5d5"/><stop offset=".6667" stop-color="#cfcfcf"/><stop offset=".6812" stop-color="#c9c9c9"/><stop offset=".6957" stop-color="#c2c2c2"/><stop offset=".7101" stop-color="#bbbbbb"/><stop offset=".7246" stop-color="#b3b3b3"/><stop offset=".7391" stop-color="#ababab"/><stop offset=".7536" stop-color="#a2a2a2"/><stop offset=".7681" stop-color="#989898"/><stop offset=".7826" stop-color="#8f8f8f"/><stop offset=".7971" stop-color="#858585"/><stop offset=".8116" stop-color="#7c7c7c"/><stop offset=".8261" stop-color="#727272"/><stop offset=".8406" stop-color="#696969"/><stop offset=".8551" stop-color="#5f5f5f"/><stop offset=".8696" stop-color="#555555"/><stop offset=".8841" stop-color="#4a4a4a"/><stop offset=".8986" stop-color="#3e3e3e"/><stop offset=".913" stop-color="#2f2f2f"/><stop offset=".9275" stop-color="#1e1e1e"/><stop offset=".942" stop-color="#0e0e0e"/><stop offset=".9565" stop-color="#000000"/><stop offset="1" stop-color="#000000"/></linearGradient>
<linearGradient id="l14" x1="0" y1="103.4" x2="0" y2="517.4" gradientUnits="userSpaceOnUse"><stop offset="0" stop-color="#010101"/><stop offset=".029" stop-color="#010101"/><stop offset=".0435" stop-color="#0d0d0d"/><stop offset=".058" stop-color="#1d1d1d"/><stop offset=".0725" stop-color="#2b2b2b"/><stop offset=".087" stop-color="#383838"/><stop offset=".1014" stop-color="#444444"/><stop offset=".1159" stop-color="#4f4f4f"/><stop offset=".1304" stop-color="#5b5b5b"/><stop offset=".1449" stop-color="#676767"/><stop offset=".1594" stop-color="#737373"/><stop offset=".1739" stop-color="#7e7e7e"/><stop offset=".1884" stop-color="#898989"/><stop offset=".2029" stop-color="#949494"/><stop offset=".2174" stop-color="#9f9f9f"/><stop offset=".2319" stop-color="#a8a8a8"/><stop offset=".2464" stop-color="#b1b1b1"/><stop offset=".2609" stop-color="#b9b9b9"/><stop offset=".2754" stop-color="#c0c0c0"/><stop offset=".2899" stop-color="#c6c6c6"/><stop offset=".3043" stop-color="#cccccc"/><stop offset=".3188" stop-color="#d1d1d1"/><stop offset=".3333" stop-color="#d6d6d6"/><stop offset=".3478" stop-color="#dadada"/><stop offset=".3623" stop-color="#dddddd"/><stop offset=".3768" stop-color="#e1e1e1"/><stop offset=".3913" stop-color="#e4e4e4"/><stop offset=".4058" stop-color="#e6e6e6"/><stop offset=".4203" stop-color="#e8e8e8"/><stop offset=".4348" stop-color="#eaeaea"/><stop offset=".4493" stop-color="#ebebeb"/><stop offset=".4638" stop-color="#ececec"/><stop offset=".4783" stop-color="#ededed"/><stop offset=".5217" stop-color="#ededed"/><stop offset=".5362" stop-color="#ececec"/><stop offset=".5507" stop-color="#ebebeb"/><stop offset=".5652" stop-color="#e8e8e8"/><stop offset=".5797" stop-color="#e5e5e5"/><stop offset=".5942" stop-color="#e2e2e2"/><stop offset=".6087" stop-color="#dfdfdf"/><stop offset=".6232" stop-color="#dcdcdc"/><stop offset=".6377" stop-color="#d8d8d8"/><stop offset=".6522" stop-color="#d3d3d3"/><stop offset=".6667" stop-color="#cecece"/><stop offset=".6812" stop-color="#c8c8c8"/><stop offset=".6957" stop-color="#c1c1c1"/><stop offset=".7101" stop-color="#bababa"/><stop offset=".7246" stop-color="#b2b2b2"/><stop offset=".7391" stop-color="#a9a9a9"/><stop offset=".7536" stop-color="#a0a0a0"/><stop offset=".7681" stop-color="#979797"/><stop offset=".7826" stop-color="#8e8e8e"/><stop offset=".7971" stop-color="#848484"/><stop offset=".8116" stop-color="#7b7b7b"/><stop offset=".8261" stop-color="#717171"/><stop offset=".8406" stop-color="#686868"/><stop offset=".8551" stop-color="#5e5e5e"/><stop offset=".8696" stop-color="#545454"/><stop offset=".8841" stop-color="#4a4a4a"/><stop offset=".8986" stop-color="#3d3d3d"/><stop offset=".913" stop-color="#2e2e2e"/><stop offset=".9275" stop-color="#1d1d1d"/><stop offset=".942" stop-color="#0d0d0d"/><stop offset=".9565" stop-color="#000000"/><stop offset="1" stop-color="#000000"/></linearGradient>
<linearGradient id="l15" x1="0" y1="103.4" x2="0" y2="517.4" gradientUnits="userSpaceOnUse"><stop offset="0" stop-color="#010101"/><stop offset=".029" stop-color="#010101"/><stop offset=".0435" stop-color="#0d0d0d"/><stop offset=".058" stop-color="#1c1c1c"/><stop offset=".0725" stop-color="#2a2a2a"/><stop offset=".087" stop-color="#373737"/><stop offset=".1014" stop-color="#434343"/><stop offset=".1159" stop-color="#4e4e4e"/><stop offset=".1304" stop-color="#5a5a5a"/><stop offset=".1449" stop-color="#666666"/><stop offset=".1594" stop-color="#727272"/><stop offset=".1739" stop-color="#7d7d7d"/><stop offset=".1884" stop-color="#898989"/><stop offset=".2029" stop-color="#939393"/><stop offset=".2174" stop-color="#9e9e9e"/><stop offset=".2319" stop-color="#a7a7a7"/><stop offset=".2464" stop-color="#b0b0b0"/><stop offset=".2609" stop-color="#b8b8b8"/><stop offset=".2754" stop-color="#bfbfbf"/><stop offset=".2899" stop-color="#c6c6c6"/><stop offset=".3043" stop-color="#cbcbcb"/><stop offset=".3188" stop-color="#d0d0d0"/><stop offset=".3333" stop-color="#d5d5d5"/><stop offset=".3478" stop-color="#d9d9d9"/><stop offset=".3623" stop-color="#dcdcdc"/><stop offset=".3768" stop-color="#e0e0e0"/><stop offset=".3913" stop-color="#e2e2e2"/><stop offset=".4058" stop-color="#e5e5e5"/><stop offset=".4203" stop-color="#e7e7e7"/><stop offset=".4348" stop-color="#e8e8e8"/><stop offset=".4493" stop-color="#eaeaea"/><stop offset=".4638" stop-color="#ebebeb"/><stop offset=".4783" stop-color="#ebebeb"/><stop offset=".4928" stop-color="#ececec"/><stop offset=".5072" stop-color="#ececec"/><stop offset=".5217" stop-color="#ebebeb"/><stop offset=".5362" stop-color="#ebebeb"/><stop offset=".5507" stop-color="#e9e9e9"/><stop offset=".5652" stop-color="#e7e7e7"/><stop offset=".5797" stop-color="#e4e4e4"/><stop offset=".5942" stop-color="#e1e1e1"/><stop offset=".6087" stop-color="#dedede"/><stop offset=".6232" stop-color="#dadada"/><stop offset=".6377" stop-color="#d6d6d6"/><stop offset=".6522" stop-color="#d2d2d2"/><stop offset=".6667" stop-color="#cdcdcd"/><stop offset=".6812" stop-color="#c7c7c7"/><stop offset=".6957" stop-color="#c0c0c0"/><stop offset=".7101" stop-color="#b8b8b8"/><stop offset=".7246" stop-color="#b1b1b1"/><stop offset=".7391" stop-color="#a8a8a8"/><stop offset=".7536" stop-color="#9f9f9f"/><stop offset=".7681" stop-color="#969696"/><stop offset=".7826" stop-color="#8d8d8d"/><stop offset=".7971" stop-color="#838383"/><stop offset=".8116" stop-color="#7a7a7a"/><stop offset=".8261" stop-color="#717171"/><stop offset=".8406" stop-color="#676767"/><stop offset=".8551" stop-color="#5e5e5e"/><stop offset=".8696" stop-color="#545454"/><stop offset=".8841" stop-color="#494949"/><stop offset=".8986" stop-color="#3c3c3c"/><stop offset=".913" stop-color="#2d2d2d"/><stop offset=".9275" stop-color="#1d1d1d"/><stop offset=".942" stop-color="#0d0d0d"/><stop offset=".9565" stop-color="#000000"/><stop offset="1" stop-color="#000000"/></linearGradient>
<linearGradient id="l16" x1="0" y1="103.4" x2="0" y2="517.4" gradientUnits="userSpaceOnUse"><stop offset="0" stop-color="#010101"/><stop offset=".029" stop-color="#010101"/><stop offset=".0435" stop-color="#0d0d0d"/><stop offset=".058" stop-color="#1c1c1c"/><stop offset=".0725" stop-color="#2a2a2a"/><stop offset=".087" stop-color="#363636"/><stop offset=".1014" stop-color="#424242"/><stop offset=".1159" stop-color="#4d4d4d"/><stop offset=".1304" stop-color="#595959"/><stop offset=".1449" stop-color="#656565"/><stop offset=".1594" stop-color="#717171"/><stop offset=".1739" stop-color="#7c7c7c"/><stop offset=".1884" stop-color="#888888"/><stop offset=".2029" stop-color="#929292"/><stop offset=".2174" stop-color="#9d9d9d"/><stop offset=".2319" stop-color="#a6a6a6"/><stop offset=".2464" stop-color="#afafaf"/><stop offset=".2609" stop-color="#b7b7b7"/><stop offset=".2754" stop-color="#bebebe"/><stop offset=".2899" stop-color="#c5c5c5"/><stop offset=".3043" stop-color="#cacaca"/><stop offset=".3188" stop-color="#cfcfcf"/><stop offset=".3333" stop-color="#d4d4d4"/><stop offset=".3478" stop-color="#d8d8d8"/><stop offset=".3623" stop-color="#dbdbdb"/><stop offset=".3768" stop-color="#dfdfdf"/><stop offset=".3913" stop-color="#e1e1e1"/><stop offset=".4058" stop-color="#e4e4e4"/><stop offset=".4203" stop-color="#e5e5e5"/><stop offset=".4348" stop-color="#e7e7e7"/><stop offset=".4493" stop-color="#e8e8e8"/><stop offset=".4638" stop-color="#e9e9e9"/><stop offset=".4783" stop-color="#eaeaea"/><stop offset=".5217" stop-color="#eaeaea"/><stop offset=".5362" stop-color="#e9e9e9"/><stop offset=".5507" stop-color="#e8e8e8"/><stop offset=".5652" stop-color="#e5e5e5"/><stop offset=".5797" stop-color="#e2e2e2"/><stop offset=".5942" stop-color="#dfdfdf"/><stop offset=".6087" stop-color="#dcdcdc"/><stop offset=".6232" stop-color="#d9d9d9"/><stop offset=".6377" stop-color="#d5d5d5"/><stop offset=".6522" stop-color="#d1d1d1"/><stop offset=".6667" stop-color="#cccccc"/><stop offset=".6812" stop-color="#c5c5c5"/><stop offset=".6957" stop-color="#bebebe"/><stop offset=".7101" stop-color="#b7b7b7"/><stop offset=".7246" stop-color="#afafaf"/><stop offset=".7391" stop-color="#a7a7a7"/><stop offset=".7536" stop-color="#9e9e9e"/><stop offset=".7681" stop-color="#959595"/><stop offset=".7826" stop-color="#8c8c8c"/><stop offset=".7971" stop-color="#838383"/><stop offset=".8116" stop-color="#797979"/><stop offset=".8261" stop-color="#707070"/><stop offset=".8406" stop-color="#666666"/><stop offset=".8551" stop-color="#5d5d5d"/><stop offset=".8696" stop-color="#535353"/><stop offset=".8841" stop-color="#484848"/><stop offset=".8986" stop-color="#3b3b3b"/><stop offset=".913" stop-color="#2d2d2d"/><stop offset=".9275" stop-color="#1c1c1c"/><stop offset=".942" stop-color="#0d0d0d"/><stop offset=".9565" stop-color="#000000"/><stop offset="1" stop-color="#000000"/></linearGradient>
<linearGradient id="l17" x1="0" y1="103.4" x2="0" y2="517.4" gradientUnits="userSpaceOnUse"><stop offset="0" stop-color="#010101"/><stop offset=".029" stop-color="#010101"/><stop offset=".0435" stop-color="#0d0d0d"/><stop offset=".058" stop-color="#1c1c1c"/><stop offset=".0725" stop-color="#292929"/><stop offset=".087" stop-color="#353535"/><stop offset=".1014" stop-color="#414141"/><stop offset=".1159" stop-color="#4d4d4d"/><stop offset=".1304" stop-color="#585858"/><stop offset=".1449" stop-color="#646464"/><stop offset=".1594" stop-color="#707070"/><stop offset=".1739" stop-color="#7b7b7b"/><stop offset=".1884" stop-color="#878787"/><stop offset=".2029" stop-color="#919191"/><stop offset=".2174" stop-color="#9c9c9c"/><stop offset=".2319" stop-color="#a5a5a5"/><stop offset=".2464" stop-color="#aeaeae"/><stop offset=".2609" stop-color="#b6b6b6"/><stop offset=".2754" stop-color="#bdbdbd"/><stop offset=".2899" stop-color="#c4c4c4"/><stop offset=".3043" stop-color="#cacaca"/><stop offset=".3188" stop-color="#cfcfcf"/><stop offset=".3333" stop-color="#d3d3d3"/><stop offset=".3478" stop-color="#d7d7d7"/><stop offset=".3623" stop-color="#dbdbdb"/><stop offset=".3768" stop-color="#dedede"/><stop offset=".3913" stop-color="#e0e0e0"/><stop offset=".4058" stop-color="#e2e2e2"/><stop offset=".4203" stop-color="#e4e4e4"/><stop offset=".4348" stop-color="#e6e6e6"/><stop offset=".4493" stop-color="#e7e7e7"/><stop offset=".4638" stop-color="#e8e8e8"/><stop offset=".4783" stop-color="#e8e8e8"/><stop offset=".4928" stop-color="#e9e9e9"/><stop offset=".5217" stop-color="#e9e9e9"/><stop offset=".5362" stop-color="#e8e8e8"/><stop offset=".5507" stop-color="#e7e7e7"/><stop offset=".5652" stop-color="#e4e4e4"/><stop offset=".5797" stop-color="#e1e1e1"/><stop offset=".5942" stop-color="#dedede"/><stop offset=".6087" stop-color="#dbdbdb"/><stop offset=".6232" stop-color="#d8d8d8"/><stop offset=".6377" stop-color="#d4d4d4"/><stop offset=".6522" stop-color="#cfcfcf"/><stop offset=".6667" stop-color="#cacaca"/><stop offset=".6812" stop-color="#c4c4c4"/><stop offset=".6957" stop-color="#bdbdbd"/><stop offset=".7101" stop-color="#b6b6b6"/><stop offset=".7246" stop-color="#aeaeae"/><stop offset=".7391" stop-color="#a6a6a6"/><stop offset=".7536" stop-color="#9d9d9d"/><stop offset=".7681" stop-color="#949494"/><stop offset=".7826" stop-color="#8b8b8b"/><stop offset=".7971" stop-color="#828282"/><stop offset=".8116" stop-color="#787878"/><stop offset=".8261" stop-color="#6f6f6f"/><stop offset=".8406" stop-color="#666666"/><stop offset=".8551" stop-color="#5c5c5c"/><stop offset=".8696" stop-color="#525252"/><stop offset=".8841" stop-color="#474747"/><stop offset=".8986" stop-color="#3b3b3b"/><stop offset=".913" stop-color="#2c2c2c"/><stop offset=".9275" stop-color="#1b1b1b"/><stop offset=".942" stop-color="#0c0c0c"/><stop offset=".9565" stop-color="#000000"/><stop offset="1" stop-color="#000000"/></linearGradient>
<linearGradient id="l18" x1="0" y1="103.4" x2="0" y2="517.4" gradientUnits="userSpaceOnUse"><stop offset="0" stop-color="#010101"/><stop offset=".029" stop-color="#010101"/><stop offset=".0435" stop-color="#0d0d0d"/><stop offset=".058" stop-color="#1b1b1b"/><stop offset=".0725" stop-color="#292929"/><stop offset=".087" stop-color="#353535"/><stop offset=".1014" stop-color="#404040"/><stop offset=".1159" stop-color="#4c4c4c"/><stop offset=".1304" stop-color="#575757"/><stop offset=".1449" stop-color="#636363"/><stop offset=".1594" stop-color="#6f6f6f"/><stop offset=".1739" stop-color="#7b7b7b"/><stop offset=".1884" stop-color="#868686"/><stop offset=".2029" stop-color="#919191"/><stop offset=".2174" stop-color="#9b9b9b"/><stop offset=".2319" stop-color="#a4a4a4"/><stop offset=".2464" stop-color="#adadad"/><stop offset=".2609" stop-color="#b5b5b5"/><stop offset=".2754" stop-color="#bcbcbc"/><stop offset=".2899" stop-color="#c3c3c3"/><stop offset=".3043" stop-color="#c9c9c9"/><stop offset=".3188" stop-color="#cecece"/><stop offset=".3333" stop-color="#d2d2d2"/><stop offset=".3478" stop-color="#d6d6d6"/><stop offset=".3623" stop-color="#dadada"/><stop offset=".3768" stop-color="#dddddd"/><stop offset=".3913" stop-color="#dfdfdf"/><stop offset=".4058" stop-color="#e1e1e1"/><stop offset=".4203" stop-color="#e3e3e3"/><stop offset=".4348" stop-color="#e5e5e5"/><stop offset=".4493" stop-color="#e6e6e6"/><stop offset=".4638" stop-color="#e7e7e7"/><stop offset=".4928" stop-color="#e7e7e7"/><stop offset=".5072" stop-color="#e8e8e8"/><stop offset=".5217" stop-color="#e7e7e7"/><stop offset=".5362" stop-color="#e7e7e7"/><stop offset=".5507" stop-color="#e5e5e5"/><stop offset=".5652" stop-color="#e3e3e3"/><stop offset=".5797" stop-color="#e0e0e0"/><stop offset=".5942" stop-color="#dddddd"/><stop offset=".6087" stop-color="#dadada"/><stop offset=".6232" stop-color="#d6d6d6"/><stop offset=".6377" stop-color="#d3d3d3"/><stop offset=".6522" stop-color="#cecece"/><stop offset=".6667" stop-color="#c9c9c9"/><stop offset=".6812" stop-color="#c3c3c3"/><stop offset=".6957" stop-color="#bcbcbc"/><stop offset=".7101" stop-color="#b5b5b5"/><stop offset=".7246" stop-color="#adadad"/><stop offset=".7391" stop-color="#a5a5a5"/><stop offset=".7536" stop-color="#9c9c9c"/><stop offset=".7681" stop-color="#939393"/><stop offset=".7826" stop-color="#8a8a8a"/><stop offset=".7971" stop-color="#818181"/><stop offset=".8116" stop-color="#787878"/><stop offset=".8261" stop-color="#6e6e6e"/><stop offset=".8406" stop-color="#656565"/><stop offset=".8551" stop-color="#5c5c5c"/><stop offset=".8696" stop-color="#515151"/><stop offset=".8841" stop-color="#474747"/><stop offset=".8986" stop-color="#3a3a3a"/><stop offset=".913" stop-color="#2b2b2b"/><stop offset=".9275" stop-color="#1b1b1b"/><stop offset=".942" stop-color="#0c0c0c"/><stop offset=".9565" stop-color="#000000"/><stop offset="1" stop-color="#000000"/></linearGradient>
<linearGradient id="l19" x1="0" y1="103.4" x2="0" y2="517.4" gradientUnits="userSpaceOnUse"><stop offset="0" stop-color="#010101"/><stop offset=".029" stop-color="#010101"/><stop offset=".0435" stop-color="#0d0d0d"/><stop offset=".058" stop-color="#1b1b1b"/><stop offset=".0725" stop-color="#282828"/><stop offset=".087" stop-color="#343434"/><stop offset=".1014" stop-color="#3f3f3f"/><stop offset=".1159" stop-color="#4b4b4b"/><stop offset=".1304" stop-color="#565656"/><stop offset=".1449" stop-color="#626262"/><stop offset=".1594" stop-color="#6e6e6e"/><stop offset=".1739" stop-color="#7a7a7a"/><stop offset=".1884" stop-color="#858585"/><stop offset=".2029" stop-color="#909090"/><stop offset=".2174" stop-color="#9a9a9a"/><stop offset=".2319" stop-color="#a3a3a3"/><stop offset=".2464" stop-color="#acacac"/><stop offset=".2609" stop-color="#b4b4b4"/><stop offset=".2754" stop-color="#bcbcbc"/><stop offset=".2899" stop-color="#c2c2c2"/><stop offset=".3043" stop-color="#c8c8c8"/><stop offset=".3188" stop-color="#cdcdcd"/><stop offset=".3333" stop-color="#d1d1d1"/><stop offset=".3478" stop-color="#d5d5d5"/><stop offset=".3623" stop-color="#d9d9d9"/><stop offset=".3768" stop-color="#dcdcdc"/><stop offset=".3913" stop-color="#dedede"/><stop offset=".4058" stop-color="#e0e0e0"/><stop offset=".4203" stop-color="#e2e2e2"/><stop offset=".4348" stop-color="#e4e4e4"/><stop offset=".4493" stop-color="#e5e5e5"/><stop offset=".4638" stop-color="#e6e6e6"/><stop offset=".5362" stop-color="#e6e6e6"/><stop offset=".5507" stop-color="#e4e4e4"/><stop offset=".5652" stop-color="#e2e2e2"/><stop offset=".5797" stop-color="#dfdfdf"/><stop offset=".5942" stop-color="#dcdcdc"/><stop offset=".6087" stop-color="#d9d9d9"/><stop offset=".6232" stop-color="#d5d5d5"/><stop offset=".6377" stop-color="#d2d2d2"/><stop offset=".6522" stop-color="#cdcdcd"/><stop offset=".6667" stop-color="#c8c8c8"/><stop offset=".6812" stop-color="#c2c2c2"/><stop offset=".6957" stop-color="#bbbbbb"/><stop offset=".7101" stop-color="#b4b4b4"/><stop offset=".7246" stop-color="#acacac"/><stop offset=".7391" stop-color="#a4a4a4"/><stop offset=".7536" stop-color="#9b9b9b"/><stop offset=".7681" stop-color="#929292"/><stop offset=".7826" stop-color="#898989"/><stop offset=".7971" stop-color="#808080"/><stop offset=".8116" stop-color="#777777"/><stop offset=".8261" stop-color="#6e6e6e"/><stop offset=".8406" stop-color="#646464"/><stop offset=".8551" stop-color="#5b5b5b"/><stop offset=".8696" stop-color="#515151"/><stop offset=".8841" stop-color="#464646"/><stop offset=".8986" stop-color="#393939"/><stop offset=".913" stop-color="#2a2a2a"/><stop offset=".9275" stop-color="#1a1a1a"/><stop offset=".942" stop-color="#0c0c0c"/><stop offset=".9565" stop-color="#000000"/><stop offset="1" stop-color="#000000"/></linearGradient>
<linearGradient id="l20" x1="0" y1="103.4" x2="0" y2="517.4" gradientUnits="userSpaceOnUse"><stop offset="0" stop-color="#010101"/><stop offset=".029" stop-color="#010101"/><stop offset=".0435" stop-color="#0d0d0d"/><stop offset=".058" stop-color="#1b1b1b"/><stop offset=".0725" stop-color="#282828"/><stop offset=".087" stop-color="#333333"/><stop offset=".1014" stop-color="#3f3f3f"/><stop offset=".1159" stop-color="#4a4a4a"/><stop offset=".1304" stop-color="#555555"/><stop offset=".1449" stop-color="#616161"/><stop offset=".1594" stop-color="#6d6d6d"/><stop offset=".1739" stop-color="#797979"/><stop offset=".1884" stop-color="#848484"/><stop offset=".2029" stop-color="#8f8f8f"/><stop offset=".2174" stop-color="#999999"/><stop offset=".2319" stop-color="#a2a2a2"/><stop offset=".2464" stop-color="#ababab"/><stop offset=".2609" stop-color="#b3b3b3"/><stop offset=".2754" stop-color="#bbbbbb"/><stop offset=".2899" stop-color="#c1c1c1"/><stop offset=".3043" stop-color="#c7c7c7"/><stop offset=".3188" stop-color="#cccccc"/><stop offset=".3333" stop-color="#d1d1d1"/><stop offset=".3478" stop-color="#d5d5d5"/><stop offset=".3623" stop-color="#d8d8d8"/><stop offset=".3768" stop-color="#dbdbdb"/><stop offset=".3913" stop-color="#dddddd"/><stop offset=".4058" stop-color="#dfdfdf"/><stop offset=".4203" stop-color="#e1e1e1"/><stop offset=".4348" stop-color="#e3e3e3"/><stop offset=".4493" stop-color="#e4e4e4"/><stop offset=".4638" stop-color="#e5e5e5"/><stop offset=".5362" stop-color="#e5e5e5"/><stop offset=".5507" stop-color="#e3e3e3"/><stop offset=".5652" stop-color="#e0e0e0"/><stop offset=".5797" stop-color="#dedede"/><stop offset=".5942" stop-color="#dbdbdb"/><stop offset=".6087" stop-color="#d8d8d8"/><stop offset=".6232" stop-color="#d4d4d4"/><stop offset=".6377" stop-color="#d0d0d0"/><stop offset=".6522" stop-color="#cccccc"/><stop offset=".6667" stop-color="#c7c7c7"/><stop offset=".6812" stop-color="#c1c1c1"/><stop offset=".6957" stop-color="#bababa"/><stop offset=".7101" stop-color="#b3b3b3"/><stop offset=".7246" stop-color="#ababab"/><stop offset=".7391" stop-color="#a3a3a3"/><stop offset=".7536" stop-color="#9a9a9a"/><stop offset=".7681" stop-color="#919191"/><stop offset=".7826" stop-color="#888888"/><stop offset=".7971" stop-color="#7f7f7f"/><stop offset=".8116" stop-color="#767676"/><stop offset=".8261" stop-color="#6d6d6d"/><stop offset=".8406" stop-color="#646464"/><stop offset=".8551" stop-color="#5a5a5a"/><stop offset=".8696" stop-color="#505050"/><stop offset=".8841" stop-color="#454545"/><stop offset=".8986" stop-color="#393939"/><stop offset=".913" stop-color="#2a2a2a"/><stop offset=".9275" stop-color="#1a1a1a"/><stop offset=".942" stop-color="#0c0c0c"/><stop offset=".9565" stop-color="#000000"/><stop offset="1" stop-color="#000000"/></linearGradient>
<linearGradient id="l21" x1="0" y1="103.4" x2="0" y2="517.4" gradientUnits="userSpaceOnUse"><stop offset="0" stop-color="#010101"/><stop offset=".029" stop-color="#010101"/><stop offset=".0435" stop-color="#0c0c0c"/><stop offset=".058" stop-color="#1b1b1b"/><stop offset=".0725" stop-color="#272727"/><stop offset=".087" stop-color="#333333"/><stop offset=".1014" stop-color="#3e3e3e"/><stop offset=".1159" stop-color="#494949"/><stop offset=".1304" stop-color="#555555"/><stop offset=".1449" stop-color="#606060"/><stop offset=".1594" stop-color="#6c6c6c"/><stop offset=".1739" stop-color="#787878"/><stop offset=".1884" stop-color="#848484"/><stop offset=".2029" stop-color="#8e8e8e"/><stop offset=".2174" stop-color="#989898"/><stop offset=".2319" stop-color="#a2a2a2"/><stop offset=".2464" stop-color="#aaaaaa"/><stop offset=".2609" stop-color="#b3b3b3"/><stop offset=".2754" stop-color="#bababa"/><stop offset=".2899" stop-color="#c1c1c1"/><stop offset=".3043" stop-color="#c6c6c6"/><stop offset=".3188" stop-color="#cbcbcb"/><stop offset=".3333" stop-color="#d0d0d0"/><stop offset=".3478" stop-color="#d4d4d4"/><stop offset=".3623" stop-color="#d7d7d7"/><stop offset=".3768" stop-color="#dadada"/><stop offset=".3913" stop-color="#dcdcdc"/><stop offset=".4058" stop-color="#dedede"/><stop offset=".4203" stop-color="#e0e0e0"/><stop offset=".4348" stop-color="#e2e2e2"/><stop offset=".4493" stop-color="#e3e3e3"/><stop offset=".4638" stop-color="#e4e4e4"/><stop offset=".5217" stop-color="#e4e4e4"/><stop offset=".5362" stop-color="#e3e3e3"/><stop offset=".5507" stop-color="#e2e2e2"/><stop offset=".5652" stop-color="#dfdfdf"/><stop offset=".5797" stop-color="#dddddd"/><stop offset=".5942" stop-color="#dadada"/><stop offset=".6087" stop-color="#d7d7d7"/><stop offset=".6232" stop-color="#d3d3d3"/><stop offset=".6377" stop-color="#cfcfcf"/><stop offset=".6522" stop-color="#cbcbcb"/><stop offset=".6667" stop-color="#c6c6c6"/><stop offset=".6812" stop-color="#c0c0c0"/><stop offset=".6957" stop-color="#b9b9b9"/><stop offset=".7101" stop-color="#b2b2b2"/><stop offset=".7246" stop-color="#aaaaaa"/><stop offset=".7391" stop-color="#a2a2a2"/><stop offset=".7536" stop-color="#999999"/><stop offset=".7681" stop-color="#919191"/><stop offset=".7826" stop-color="#888888"/><stop offset=".7971" stop-color="#7f7f7f"/><stop offset=".8116" stop-color="#767676"/><stop offset=".8261" stop-color="#6d6d6d"/><stop offset=".8406" stop-color="#636363"/><stop offset=".8551" stop-color="#5a5a5a"/><stop offset=".8696" stop-color="#505050"/><stop offset=".8841" stop-color="#454545"/><stop offset=".8986" stop-color="#383838"/><stop offset=".913" stop-color="#292929"/><stop offset=".9275" stop-color="#191919"/><stop offset=".942" stop-color="#0b0b0b"/><stop offset=".9565" stop-color="#000000"/><stop offset="1" stop-color="#000000"/></linearGradient>
<linearGradient id="l22" x1="0" y1="103.4" x2="0" y2="517.4" gradientUnits="userSpaceOnUse"><stop offset="0" stop-color="#010101"/><stop offset=".029" stop-color="#010101"/><stop offset=".0435" stop-color="#0c0c0c"/><stop offset=".058" stop-color="#1a1a1a"/><stop offset=".0725" stop-color="#272727"/><stop offset=".087" stop-color="#323232"/><stop offset=".1014" stop-color="#3d3d3d"/><stop offset=".1159" stop-color="#484848"/><stop offset=".1304" stop-color="#545454"/><stop offset=".1449" stop-color="#606060"/><stop offset=".1594" stop-color="#6c6c6c"/><stop offset=".1739" stop-color="#777777"/><stop offset=".1884" stop-color="#838383"/><stop offset=".2029" stop-color="#8d8d8d"/><stop offset=".2174" stop-color="#979797"/><stop offset=".2319" stop-color="#a1a1a1"/><stop offset=".2464" stop-color="#aaaaaa"/><stop offset=".2609" stop-color="#b2b2b2"/><stop offset=".2754" stop-color="#b9b9b9"/><stop offset=".2899" stop-color="#c0c0c0"/><stop offset=".3043" stop-color="#c6c6c6"/><stop offset=".3188" stop-color="#cbcbcb"/><stop offset=".3333" stop-color="#cfcfcf"/><stop offset=".3478" stop-color="#d3d3d3"/><stop offset=".3623" stop-color="#d6d6d6"/><stop offset=".3768" stop-color="#d9d9d9"/><stop offset=".3913" stop-color="#dcdcdc"/><stop offset=".4058" stop-color="#dedede"/><stop offset=".4203" stop-color="#dfdfdf"/><stop offset=".4348" stop-color="#e1e1e1"/><stop offset=".4493" stop-color="#e2e2e2"/><stop offset=".4638" stop-color="#e3e3e3"/><stop offset=".5217" stop-color="#e3e3e3"/><stop offset=".5362" stop-color="#e2e2e2"/><stop offset=".5507" stop-color="#e1e1e1"/><stop offset=".5652" stop-color="#dedede"/><stop offset=".5797" stop-color="#dcdcdc"/><stop offset=".5942" stop-color="#d9d9d9"/><stop offset=".6087" stop-color="#d6d6d6"/><stop offset=".6232" stop-color="#d2d2d2"/><stop offset=".6377" stop-color="#cecece"/><stop offset=".6522" stop-color="#cacaca"/><stop offset=".6667" stop-color="#c5c5c5"/><stop offset=".6812" stop-color="#bfbfbf"/><stop offset=".6957" stop-color="#b8b8b8"/><stop offset=".7101" stop-color="#b1b1b1"/><stop offset=".7246" stop-color="#aaaaaa"/><stop offset=".7391" stop-color="#a1a1a1"/><stop offset=".7536" stop-color="#999999"/><stop offset=".7681" stop-color="#909090"/><stop offset=".7826" stop-color="#878787"/><stop offset=".7971" stop-color="#7e7e7e"/><stop offset=".8116" stop-color="#757575"/><stop offset=".8261" stop-color="#6c6c6c"/><stop offset=".8406" stop-color="#636363"/><stop offset=".8551" stop-color="#595959"/><stop offset=".8696" stop-color="#4f4f4f"/><stop offset=".8841" stop-color="#444444"/><stop offset=".8986" stop-color="#373737"/><stop offset=".913" stop-color="#292929"/><stop offset=".9275" stop-color="#191919"/><stop offset=".942" stop-color="#0b0b0b"/><stop offset=".9565" stop-color="#000000"/><stop offset="1" stop-color="#000000"/></linearGradient>
<linearGradient id="l23" x1="0" y1="103.4" x2="0" y2="517.4" gradientUnits="userSpaceOnUse"><stop offset="0" stop-color="#010101"/><stop offset=".029" stop-color="#010101"/><stop offset=".0435" stop-color="#0c0c0c"/><stop offset=".058" stop-color="#1a1a1a"/><stop offset=".0725" stop-color="#262626"/><stop offset=".087" stop-color="#323232"/><stop offset=".1014" stop-color="#3c3c3c"/><stop offset=".1159" stop-color="#474747"/><stop offset=".1304" stop-color="#535353"/><stop offset=".1449" stop-color="#5f5f5f"/><stop offset=".1594" stop-color="#6b6b6b"/><stop offset=".1739" stop-color="#777777"/><stop offset=".1884" stop-color="#828282"/><stop offset=".2029" stop-color="#8c8c8c"/><stop offset=".2174" stop-color="#969696"/><stop offset=".2319" stop-color="#a0a0a0"/><stop offset=".2464" stop-color="#a9a9a9"/><stop offset=".2609" stop-color="#b1b1b1"/><stop offset=".2754" stop-color="#b8b8b8"/><stop offset=".2899" stop-color="#bfbfbf"/><stop offset=".3043" stop-color="#c5c5c5"/><stop offset=".3188" stop-color="#cacaca"/><stop offset=".3333" stop-color="#cecece"/><stop offset=".3478" stop-color="#d2d2d2"/><stop offset=".3623" stop-color="#d5d5d5"/><stop offset=".3768" stop-color="#d8d8d8"/><stop offset=".3913" stop-color="#dbdbdb"/><stop offset=".4058" stop-color="#dddddd"/><stop offset=".4203" stop-color="#dedede"/><stop offset=".4348" stop-color="#e0e0e0"/><stop offset=".4493" stop-color="#e1e1e1"/><stop offset=".4638" stop-color="#e2e2e2"/><stop offset=".5217" stop-color="#e2e2e2"/><stop offset=".5362" stop-color="#e1e1e1"/><stop offset=".5507" stop-color="#e0e0e0"/><stop offset=".5652" stop-color="#dddddd"/><stop offset=".5797" stop-color="#dbdbdb"/><stop offset=".5942" stop-color="#d8d8d8"/><stop offset=".6087" stop-color="#d5d5d5"/><stop offset=".6232" stop-color="#d1d1d1"/><stop offset=".6377" stop-color="#cecece"/><stop offset=".6522" stop-color="#c9c9c9"/><stop offset=".6667" stop-color="#c4c4c4"/><stop offset=".6812" stop-color="#bebebe"/><stop offset=".6957" stop-color="#b8b8b8"/><stop offset=".7101" stop-color="#b0b0b0"/><stop offset=".7246" stop-color="#a9a9a9"/><stop offset=".7391" stop-color="#a0a0a0"/><stop offset=".7536" stop-color="#989898"/><stop offset=".7681" stop-color="#8f8f8f"/><stop offset=".7826" stop-color="#868686"/><stop offset=".7971" stop-color="#7d7d7d"/><stop offset=".8116" stop-color="#747474"/><stop offset=".8261" stop-color="#6b6b6b"/><stop offset=".8406" stop-color="#626262"/><stop offset=".8551" stop-color="#595959"/><stop offset=".8696" stop-color="#4e4e4e"/><stop offset=".8841" stop-color="#444444"/><stop offset=".8986" stop-color="#373737"/><stop offset=".913" stop-color="#282828"/><stop offset=".9275" stop-color="#191919"/><stop offset=".942" stop-color="#0b0b0b"/><stop offset=".9565" stop-color="#000000"/><stop offset="1" stop-color="#000000"/></linearGradient>
<linearGradient id="l24" x1="0" y1="103.4" x2="0" y2="517.4" gradientUnits="userSpaceOnUse"><stop offset="0" stop-color="#010101"/><stop offset=".029" stop-color="#010101"/><stop offset=".0435" stop-color="#0c0c0c"/><stop offset=".058" stop-color="#1a1a1a"/><stop offset=".0725" stop-color="#262626"/><stop offset=".087" stop-color="#313131"/><stop offset=".1014" stop-color="#3c3c3c"/><stop offset=".1159" stop-color="#474747"/><stop offset=".1304" stop-color="#525252"/><stop offset=".1449" stop-color="#5e5e5e"/><stop offset=".1594" stop-color="#6a6a6a"/><stop offset=".1739" stop-color="#767676"/><stop offset=".1884" stop-color="#818181"/><stop offset=".2029" stop-color="#8c8c8c"/><stop offset=".2174" stop-color="#969696"/><stop offset=".2319" stop-color="#9f9f9f"/><stop offset=".2464" stop-color="#a8a8a8"/><stop offset=".2609" stop-color="#b0b0b0"/><stop offset=".2754" stop-color="#b8b8b8"/><stop offset=".2899" stop-color="#bebebe"/><stop offset=".3043" stop-color="#c4c4c4"/><stop offset=".3188" stop-color="#c9c9c9"/><stop offset=".3333" stop-color="#cecece"/><stop offset=".3478" stop-color="#d1d1d1"/><stop offset=".3623" stop-color="#d5d5d5"/><stop offset=".3768" stop-color="#d7d7d7"/><stop offset=".3913" stop-color="#dadada"/><stop offset=".4058" stop-color="#dcdcdc"/><stop offset=".4203" stop-color="#dddddd"/><stop offset=".4348" stop-color="#dfdfdf"/><stop offset=".4493" stop-color="#e0e0e0"/><stop offset=".4638" stop-color="#e1e1e1"/><stop offset=".5362" stop-color="#e1e1e1"/><stop offset=".5507" stop-color="#dfdfdf"/><stop offset=".5652" stop-color="#dddddd"/><stop offset=".5797" stop-color="#dadada"/><stop offset=".5942" stop-color="#d7d7d7"/><stop offset=".6087" stop-color="#d4d4d4"/><stop offset=".6232" stop-color="#d0d0d0"/><stop offset=".6377" stop-color="#cdcdcd"/><stop offset=".6522" stop-color="#c8c8c8"/><stop offset=".6667" stop-color="#c3c3c3"/><stop offset=".6812" stop-color="#bebebe"/><stop offset=".6957" stop-color="#b7b7b7"/><stop offset=".7101" stop-color="#b0b0b0"/><stop offset=".7246" stop-color="#a8a8a8"/><stop offset=".7391" stop-color="#a0a0a0"/><stop offset=".7536" stop-color="#979797"/><stop offset=".7681" stop-color="#8e8e8e"/><stop offset=".7826" stop-color="#868686"/><stop offset=".7971" stop-color="#7d7d7d"/><stop offset=".8116" stop-color="#747474"/><stop offset=".8261" stop-color="#6b6b6b"/><stop offset=".8406" stop-color="#626262"/><stop offset=".8551" stop-color="#585858"/><stop offset=".8696" stop-color="#4e4e4e"/><stop offset=".8841" stop-color="#434343"/><stop offset=".8986" stop-color="#363636"/><stop offset=".913" stop-color="#272727"/><stop offset=".9275" stop-color="#181818"/><stop offset=".942" stop-color="#0b0b0b"/><stop offset=".9565" stop-color="#000000"/><stop offset="1" stop-color="#000000"/></linearGradient>
<linearGradient id="l25" x1="0" y1="103.4" x2="0" y2="517.4" gradientUnits="userSpaceOnUse"><stop offset="0" stop-color="#010101"/><stop offset=".029" stop-color="#010101"/><stop offset=".0435" stop-color="#0c0c0c"/><stop offset=".058" stop-color="#191919"/><stop offset=".0725" stop-color="#252525"/><stop offset=".087" stop-color="#303030"/><stop offset=".1014" stop-color="#3b3b3b"/><stop offset=".1159" stop-color="#464646"/><stop offset=".1304" stop-color="#515151"/><stop offset=".1449" stop-color="#5d5d5d"/><stop offset=".1594" stop-color="#696969"/><stop offset=".1739" stop-color="#757575"/><stop offset=".1884" stop-color="#818181"/><stop offset=".2029" stop-color="#8b8b8b"/><stop offset=".2174" stop-color="#959595"/><stop offset=".2319" stop-color="#9e9e9e"/><stop offset=".2464" stop-color="#a7a7a7"/><stop offset=".2609" stop-color="#afafaf"/><stop offset=".2754" stop-color="#b7b7b7"/><stop offset=".2899" stop-color="#bebebe"/><stop offset=".3043" stop-color="#c4c4c4"/><stop offset=".3188" stop-color="#c9c9c9"/><stop offset=".3333" stop-color="#cdcdcd"/><stop offset=".3478" stop-color="#d1d1d1"/><stop offset=".3623" stop-color="#d4d4d4"/><stop offset=".3768" stop-color="#d7d7d7"/><stop offset=".3913" stop-color="#d9d9d9"/><stop offset=".4058" stop-color="#dbdbdb"/><stop offset=".4203" stop-color="#dddddd"/><stop offset=".4348" stop-color="#dedede"/><stop offset=".4493" stop-color="#dfdfdf"/><stop offset=".4638" stop-color="#e0e0e0"/><stop offset=".5362" stop-color="#e0e0e0"/><stop offset=".5507" stop-color="#dedede"/><stop offset=".5652" stop-color="#dcdcdc"/><stop offset=".5797" stop-color="#d9d9d9"/><stop offset=".5942" stop-color="#d6d6d6"/><stop offset=".6087" stop-color="#d3d3d3"/><stop offset=".6232" stop-color="#d0d0d0"/><stop offset=".6377" stop-color="#cccccc"/><stop offset=".6522" stop-color="#c8c8c8"/><stop offset=".6667" stop-color="#c3c3c3"/><stop offset=".6812" stop-color="#bdbdbd"/><stop offset=".6957" stop-color="#b6b6b6"/><stop offset=".7101" stop-color="#afafaf"/><stop offset=".7246" stop-color="#a7a7a7"/><stop offset=".7391" stop-color="#9f9f9f"/><stop offset=".7536" stop-color="#969696"/><stop offset=".7681" stop-color="#8e8e8e"/><stop offset=".7826" stop-color="#858585"/><stop offset=".7971" stop-color="#7c7c7c"/><stop offset=".8116" stop-color="#737373"/><stop offset=".8261" stop-color="#6a6a6a"/><stop offset=".8406" stop-color="#616161"/><stop offset=".8551" stop-color="#585858"/><stop offset=".8696" stop-color="#4e4e4e"/><stop offset=".8841" stop-color="#434343"/><stop offset=".8986" stop-color="#363636"/><stop offset=".913" stop-color="#272727"/><stop offset=".9275" stop-color="#181818"/><stop offset=".942" stop-color="#0b0b0b"/><stop offset=".9565" stop-color="#000000"/><stop offset="1" stop-color="#000000"/></linearGradient>
<linearGradient id="l26" x1="0" y1="103.4" x2="0" y2="517.4" gradientUnits="userSpaceOnUse"><stop offset="0" stop-color="#010101"/><stop offset=".029" stop-color="#010101"/><stop offset=".0435" stop-color="#0c0c0c"/><stop offset=".058" stop-color="#191919"/><stop offset=".0725" stop-color="#252525"/><stop offset=".087" stop-color="#303030"/><stop offset=".1014" stop-color="#3a3a3a"/><stop offset=".1159" stop-color="#454545"/><stop offset=".1304" stop-color="#515151"/><stop offset=".1449" stop-color="#5d5d5d"/><stop offset=".1594" stop-color="#696969"/><stop offset=".1739" stop-color="#757575"/><stop offset=".1884" stop-color="#808080"/><stop offset=".2029" stop-color="#8a8a8a"/><stop offset=".2174" stop-color="#949494"/><stop offset=".2319" stop-color="#9e9e9e"/><stop offset=".2464" stop-color="#a6a6a6"/><stop offset=".2609" stop-color="#afafaf"/><stop offset=".2754" stop-color="#b6b6b6"/><stop offset=".2899" stop-color="#bdbdbd"/><stop offset=".3043" stop-color="#c3c3c3"/><stop offset=".3188" stop-color="#c8c8c8"/><stop offset=".3333" stop-color="#cccccc"/><stop offset=".3478" stop-color="#d0d0d0"/><stop offset=".3623" stop-color="#d3d3d3"/><stop offset=".3768" stop-color="#d6d6d6"/><stop offset=".3913" stop-color="#d8d8d8"/><stop offset=".4058" stop-color="#dadada"/><stop offset=".4203" stop-color="#dcdcdc"/><stop offset=".4348" stop-color="#dddddd"/><stop offset=".4493" stop-color="#dedede"/><stop offset=".4638" stop-color="#dfdfdf"/><stop offset=".5362" stop-color="#dfdfdf"/><stop offset=".5507" stop-color="#dddddd"/><stop offset=".5652" stop-color="#dbdbdb"/><stop offset=".5797" stop-color="#d8d8d8"/><stop offset=".5942" stop-color="#d5d5d5"/><stop offset=".6087" stop-color="#d2d2d2"/><stop offset=".6232" stop-color="#cfcfcf"/><stop offset=".6377" stop-color="#cbcbcb"/><stop offset=".6522" stop-color="#c7c7c7"/><stop offset=".6667" stop-color="#c2c2c2"/><stop offset=".6812" stop-color="#bcbcbc"/><stop offset=".6957" stop-color="#b5b5b5"/><stop offset=".7101" stop-color="#aeaeae"/><stop offset=".7246" stop-color="#a6a6a6"/><stop offset=".7391" stop-color="#9e9e9e"/><stop offset=".7536" stop-color="#969696"/><stop offset=".7681" stop-color="#8d8d8d"/><stop offset=".7826" stop-color="#848484"/><stop offset=".7971" stop-color="#7c7c7c"/><stop offset=".8116" stop-color="#737373"/><stop offset=".8261" stop-color="#6a6a6a"/><stop offset=".8406" stop-color="#616161"/><stop offset=".8551" stop-color="#575757"/><stop offset=".8696" stop-color="#4d4d4d"/><stop offset=".8841" stop-color="#424242"/><stop offset=".8986" stop-color="#353535"/><stop offset=".913" stop-color="#262626"/><stop offset=".9275" stop-color="#171717"/><stop offset=".942" stop-color="#0a0a0a"/><stop offset=".9565" stop-color="#000000"/><stop offset="1" stop-color="#000000"/></linearGradient>
<linearGradient id="l27" x1="0" y1="103.4" x2="0" y2="517.4" gradientUnits="userSpaceOnUse"><stop offset="0" stop-color="#010101"/><stop offset=".029" stop-color="#010101"/><stop offset=".0435" stop-color="#0c0c0c"/><stop offset=".058" stop-color="#191919"/><stop offset=".0725" stop-color="#252525"/><stop offset=".087" stop-color="#2f2f2f"/><stop offset=".1014" stop-color="#3a3a3a"/><stop offset=".1159" stop-color="#444444"/><stop offset=".1304" stop-color="#505050"/><stop offset=".1449" stop-color="#5c5c5c"/><stop offset=".1594" stop-color="#686868"/><stop offset=".1739" stop-color="#747474"/><stop offset=".1884" stop-color="#7f7f7f"/><stop offset=".2029" stop-color="#898989"/><stop offset=".2174" stop-color="#939393"/><stop offset=".2319" stop-color="#9d9d9d"/><stop offset=".2464" stop-color="#a6a6a6"/><stop offset=".2609" stop-color="#aeaeae"/><stop offset=".2754" stop-color="#b5b5b5"/><stop offset=".2899" stop-color="#bcbcbc"/><stop offset=".3043" stop-color="#c2c2c2"/><stop offset=".3188" stop-color="#c7c7c7"/><stop offset=".3333" stop-color="#cccccc"/><stop offset=".3478" stop-color="#d0d0d0"/><stop offset=".3623" stop-color="#d3d3d3"/><stop offset=".3768" stop-color="#d5d5d5"/><stop offset=".3913" stop-color="#d8d8d8"/><stop offset=".4058" stop-color="#dadada"/><stop offset=".4203" stop-color="#dbdbdb"/><stop offset=".4348" stop-color="#dddddd"/><stop offset=".4493" stop-color="#dedede"/><stop offset=".4638" stop-color="#dedede"/><stop offset=".4783" stop-color="#dfdfdf"/><stop offset=".5217" stop-color="#dfdfdf"/><stop offset=".5362" stop-color="#dedede"/><stop offset=".5507" stop-color="#dddddd"/><stop offset=".5652" stop-color="#dadada"/><stop offset=".5797" stop-color="#d7d7d7"/><stop offset=".5942" stop-color="#d4d4d4"/><stop offset=".6087" stop-color="#d1d1d1"/><stop offset=".6232" stop-color="#cecece"/><stop offset=".6377" stop-color="#cacaca"/><stop offset=".6522" stop-color="#c6c6c6"/><stop offset=".6667" stop-color="#c1c1c1"/><stop offset=".6812" stop-color="#bbbbbb"/><stop offset=".6957" stop-color="#b5b5b5"/><stop offset=".7101" stop-color="#aeaeae"/><stop offset=".7246" stop-color="#a6a6a6"/><stop offset=".7391" stop-color="#9e9e9e"/><stop offset=".7536" stop-color="#959595"/><stop offset=".7681" stop-color="#8c8c8c"/><stop offset=".7826" stop-color="#848484"/><stop offset=".7971" stop-color="#7b7b7b"/><stop offset=".8116" stop-color="#727272"/><stop offset=".8261" stop-color="#6a6a6a"/><stop offset=".8406" stop-color="#606060"/><stop offset=".8551" stop-color="#575757"/><stop offset=".8696" stop-color="#4d4d4d"/><stop offset=".8841" stop-color="#424242"/><stop offset=".8986" stop-color="#353535"/><stop offset=".913" stop-color="#262626"/><stop offset=".9275" stop-color="#171717"/><stop offset=".942" stop-color="#0a0a0a"/><stop offset=".9565" stop-color="#000000"/><stop offset="1" stop-color="#000000"/></linearGradient>
<linearGradient id="l28" x1="0" y1="103.4" x2="0" y2="517.4" gradientUnits="userSpaceOnUse"><stop offset="0" stop-color="#010101"/><stop offset=".029" stop-color="#010101"/><stop offset=".0435" stop-color="#0c0c0c"/><stop offset=".058" stop-color="#191919"/><stop offset=".0725" stop-color="#242424"/><stop offset=".087" stop-color="#2f2f2f"/><stop offset=".1014" stop-color="#393939"/><stop offset=".1159" stop-color="#444444"/><stop offset=".1304" stop-color="#4f4f4f"/><stop offset=".1449" stop-color="#5b5b5b"/><stop offset=".1594" stop-color="#676767"/><stop offset=".1739" stop-color="#737373"/><stop offset=".1884" stop-color="#7f7f7f"/><stop offset=".2029" stop-color="#898989"/><stop offset=".2174" stop-color="#939393"/><stop offset=".2319" stop-color="#9c9c9c"/><stop offset=".2464" stop-color="#a5a5a5"/><stop offset=".2609" stop-color="#adadad"/><stop offset=".2754" stop-color="#b5b5b5"/><stop offset=".2899" stop-color="#bcbcbc"/><stop offset=".3043" stop-color="#c2c2c2"/><stop offset=".3188" stop-color="#c7c7c7"/><stop offset=".3333" stop-color="#cbcbcb"/><stop offset=".3478" stop-color="#cfcfcf"/><stop offset=".3623" stop-color="#d2d2d2"/><stop offset=".3768" stop-color="#d5d5d5"/><stop offset=".3913" stop-color="#d7d7d7"/><stop offset=".4058" stop-color="#d9d9d9"/><stop offset=".4203" stop-color="#dadada"/><stop offset=".4348" stop-color="#dcdcdc"/><stop offset=".4493" stop-color="#dddddd"/><stop offset=".4638" stop-color="#dedede"/><stop offset=".5217" stop-color="#dedede"/><stop offset=".5362" stop-color="#dddddd"/><stop offset=".5507" stop-color="#dcdcdc"/><stop offset=".5652" stop-color="#d9d9d9"/><stop offset=".5797" stop-color="#d7d7d7"/><stop offset=".5942" stop-color="#d4d4d4"/><stop offset=".6087" stop-color="#d1d1d1"/><stop offset=".6232" stop-color="#cecece"/><stop offset=".6377" stop-color="#cacaca"/><stop offset=".6522" stop-color="#c5c5c5"/><stop offset=".6667" stop-color="#c1c1c1"/><stop offset=".6812" stop-color="#bbbbbb"/><stop offset=".6957" stop-color="#b4b4b4"/><stop offset=".7101" stop-color="#adadad"/><stop offset=".7246" stop-color="#a5a5a5"/><stop offset=".7391" stop-color="#9d9d9d"/><stop offset=".7536" stop-color="#959595"/><stop offset=".7681" stop-color="#8c8c8c"/><stop offset=".7826" stop-color="#838383"/><stop offset=".7971" stop-color="#7b7b7b"/><stop offset=".8116" stop-color="#727272"/><stop offset=".8261" stop-color="#696969"/><stop offset=".8406" stop-color="#606060"/><stop offset=".8551" stop-color="#565656"/><stop offset=".8696" stop-color="#4c4c4c"/><stop offset=".8841" stop-color="#414141"/><stop offset=".8986" stop-color="#343434"/><stop offset=".913" stop-color="#262626"/><stop offset=".9275" stop-color="#171717"/><stop offset=".942" stop-color="#0a0a0a"/><stop offset=".9565" stop-color="#000000"/><stop offset="1" stop-color="#000000"/></linearGradient>
<linearGradient id="l29" x1="0" y1="103.4" x2="0" y2="517.4" gradientUnits="userSpaceOnUse"><stop offset="0" stop-color="#010101"/><stop offset=".029" stop-color="#010101"/><stop offset=".0435" stop-color="#0c0c0c"/><stop offset=".058" stop-color="#191919"/><stop offset=".0725" stop-color="#242424"/><stop offset=".087" stop-color="#2e2e2e"/><stop offset=".1014" stop-color="#383838"/><stop offset=".1159" stop-color="#434343"/><stop offset=".1304" stop-color="#4e4e4e"/><stop offset=".1449" stop-color="#5b5b5b"/><stop offset=".1594" stop-color="#676767"/><stop offset=".1739" stop-color="#737373"/><stop offset=".1884" stop-color="#7e7e7e"/><stop offset=".2029" stop-color="#888888"/><stop offset=".2174" stop-color="#929292"/><stop offset=".2319" stop-color="#9b9b9b"/><stop offset=".2464" stop-color="#a4a4a4"/><stop offset=".2609" stop-color="#adadad"/><stop offset=".2754" stop-color="#b4b4b4"/><stop offset=".2899" stop-color="#bbbbbb"/><stop offset=".3043" stop-color="#c1c1c1"/><stop offset=".3188" stop-color="#c6c6c6"/><stop offset=".3333" stop-color="#cbcbcb"/><stop offset=".3478" stop-color="#cecece"/><stop offset=".3623" stop-color="#d1d1d1"/><stop offset=".3768" stop-color="#d4d4d4"/><stop offset=".3913" stop-color="#d7d7d7"/><stop offset=".4058" stop-color="#d8d8d8"/><stop offset=".4203" stop-color="#dadada"/><stop offset=".4348" stop-color="#dbdbdb"/><stop offset=".4493" stop-color="#dcdcdc"/><stop offset=".4638" stop-color="#dddddd"/><stop offset=".5362" stop-color="#dddddd"/><stop offset=".5507" stop-color="#dbdbdb"/><stop offset=".5652" stop-color="#d9d9d9"/><stop offset=".5797" stop-color="#d6d6d6"/><stop offset=".5942" stop-color="#d3d3d3"/><stop offset=".6087" stop-color="#d0d0d0"/><stop offset=".6232" stop-color="#cdcdcd"/><stop offset=".6377" stop-color="#c9c9c9"/><stop offset=".6522" stop-color="#c5c5c5"/><stop offset=".6667" stop-color="#c0c0c0"/><stop offset=".6812" stop-color="#bababa"/><stop offset=".6957" stop-color="#b4b4b4"/><stop offset=".7101" stop-color="#acacac"/><stop offset=".7246" stop-color="#a5a5a5"/><stop offset=".7391" stop-color="#9d9d9d"/><stop offset=".7536" stop-color="#949494"/><stop offset=".7681" stop-color="#8b8b8b"/><stop offset=".7826" stop-color="#838383"/><stop offset=".7971" stop-color="#7a7a7a"/><stop offset=".8116" stop-color="#727272"/><stop offset=".8261" stop-color="#696969"/><stop offset=".8406" stop-color="#606060"/><stop offset=".8551" stop-color="#565656"/><stop offset=".8696" stop-color="#4c4c4c"/><stop offset=".8841" stop-color="#414141"/><stop offset=".8986" stop-color="#343434"/><stop offset=".913" stop-color="#252525"/><stop offset=".9275" stop-color="#161616"/><stop offset=".942" stop-color="#0a0a0a"/><stop offset=".9565" stop-color="#000000"/><stop offset="1" stop-color="#000000"/></linearGradient>
<linearGradient id="l30" x1="0" y1="103.4" x2="0" y2="517.4" gradientUnits="userSpaceOnUse"><stop offset="0" stop-color="#010101"/><stop offset=".029" stop-color="#010101"/><stop offset=".0435" stop-color="#0c0c0c"/><stop offset=".058" stop-color="#181818"/><stop offset=".0725" stop-color="#242424"/><stop offset=".087" stop-color="#2e2e2e"/><stop offset=".1014" stop-color="#383838"/><stop offset=".1159" stop-color="#424242"/><stop offset=".1304" stop-color="#4e4e4e"/><stop offset=".1449" stop-color="#5a5a5a"/><stop offset=".1594" stop-color="#666666"/><stop offset=".1739" stop-color="#727272"/><stop offset=".1884" stop-color="#7d7d7d"/><stop offset=".2029" stop-color="#888888"/><stop offset=".2174" stop-color="#919191"/><stop offset=".2319" stop-color="#9b9b9b"/><stop offset=".2464" stop-color="#a4a4a4"/><stop offset=".2609" stop-color="#acacac"/><stop offset=".2754" stop-color="#b4b4b4"/><stop offset=".2899" stop-color="#bbbbbb"/><stop offset=".3043" stop-color="#c1c1c1"/><stop offset=".3188" stop-color="#c6c6c6"/><stop offset=".3333" stop-color="#cacaca"/><stop offset=".3478" stop-color="#cecece"/><stop offset=".3623" stop-color="#d1d1d1"/><stop offset=".3768" stop-color="#d4d4d4"/><stop offset=".3913" stop-color="#d6d6d6"/><stop offset=".4058" stop-color="#d8d8d8"/><stop offset=".4203" stop-color="#d9d9d9"/><stop offset=".4348" stop-color="#dbdbdb"/><stop offset=".4493" stop-color="#dcdcdc"/><stop offset=".4638" stop-color="#dddddd"/><stop offset=".5217" stop-color="#dddddd"/><stop offset=".5362" stop-color="#dcdcdc"/><stop offset=".5507" stop-color="#dbdbdb"/><stop offset=".5652" stop-color="#d8d8d8"/><stop offset=".5797" stop-color="#d5d5d5"/><stop offset=".5942" stop-color="#d3d3d3"/><stop offset=".6087" stop-color="#d0d0d0"/><stop offset=".6232" stop-color="#cccccc"/><stop offset=".6377" stop-color="#c9c9c9"/><stop offset=".6522" stop-color="#c4c4c4"/><stop offset=".6667" stop-color="#bfbfbf"/><stop offset=".6812" stop-color="#bababa"/><stop offset=".6957" stop-color="#b3b3b3"/><stop offset=".7101" stop-color="#acacac"/><stop offset=".7246" stop-color="#a4a4a4"/><stop offset=".7391" stop-color="#9c9c9c"/><stop offset=".7536" stop-color="#949494"/><stop offset=".7681" stop-color="#8b8b8b"/><stop offset=".7826" stop-color="#828282"/><stop offset=".7971" stop-color="#7a7a7a"/><stop offset=".8116" stop-color="#717171"/><stop offset=".8261" stop-color="#686868"/><stop offset=".8406" stop-color="#5f5f5f"/><stop offset=".8551" stop-color="#565656"/><stop offset=".8696" stop-color="#4c4c4c"/><stop offset=".8841" stop-color="#414141"/><stop offset=".8986" stop-color="#343434"/><stop offset=".913" stop-color="#252525"/><stop offset=".9275" stop-color="#161616"/><stop offset=".942" stop-color="#0a0a0a"/><stop offset=".9565" stop-color="#000000"/><stop offset="1" stop-color="#000000"/></linearGradient>
<linearGradient id="l31" x1="0" y1="103.4" x2="0" y2="517.4" gradientUnits="userSpaceOnUse"><stop offset="0" stop-color="#010101"/><stop offset=".029" stop-color="#010101"/><stop offset=".0435" stop-color="#0c0c0c"/><stop offset=".058" stop-color="#181818"/><stop offset=".0725" stop-color="#232323"/><stop offset=".087" stop-color="#2d2d2d"/><stop offset=".1014" stop-color="#373737"/><stop offset=".1159" stop-color="#424242"/><stop offset=".1304" stop-color="#4d4d4d"/><stop offset=".1449" stop-color="#595959"/><stop offset=".1594" stop-color="#666666"/><stop offset=".1739" stop-color="#727272"/><stop offset=".1884" stop-color="#7d7d7d"/><stop offset=".2029" stop-color="#878787"/><stop offset=".2174" stop-color="#919191"/><stop offset=".2319" stop-color="#9a9a9a"/><stop offset=".2464" stop-color="#a3a3a3"/><stop offset=".2609" stop-color="#ababab"/><stop offset=".2754" stop-color="#b3b3b3"/><stop offset=".2899" stop-color="#bababa"/><stop offset=".3043" stop-color="#c0c0c0"/><stop offset=".3188" stop-color="#c5c5c5"/><stop offset=".3333" stop-color="#cacaca"/><stop offset=".3478" stop-color="#cdcdcd"/><stop offset=".3623" stop-color="#d0d0d0"/><stop offset=".3768" stop-color="#d3d3d3"/><stop offset=".3913" stop-color="#d5d5d5"/><stop offset=".4058" stop-color="#d7d7d7"/><stop offset=".4203" stop-color="#d9d9d9"/><stop offset=".4348" stop-color="#dadada"/><stop offset=".4493" stop-color="#dbdbdb"/><stop offset=".4638" stop-color="#dcdcdc"/><stop offset=".5362" stop-color="#dcdcdc"/><stop offset=".5507" stop-color="#dadada"/><stop offset=".5652" stop-color="#d8d8d8"/><stop offset=".5797" stop-color="#d5d5d5"/><stop offset=".5942" stop-color="#d2d2d2"/><stop offset=".6087" stop-color="#cfcfcf"/><stop offset=".6232" stop-color="#cccccc"/><stop offset=".6377" stop-color="#c8c8c8"/><stop offset=".6522" stop-color="#c4c4c4"/><stop offset=".6667" stop-color="#bfbfbf"/><stop offset=".6812" stop-color="#b9b9b9"/><stop offset=".6957" stop-color="#b3b3b3"/><stop offset=".7101" stop-color="#ababab"/><stop offset=".7246" stop-color="#a4a4a4"/><stop offset=".7391" stop-color="#9c9c9c"/><stop offset=".7536" stop-color="#939393"/><stop offset=".7681" stop-color="#8b8b8b"/><stop offset=".7826" stop-color="#828282"/><stop offset=".7971" stop-color="#7a7a7a"/><stop offset=".8116" stop-color="#717171"/><stop offset=".8261" stop-color="#686868"/><stop offset=".8406" stop-color="#5f5f5f"/><stop offset=".8551" stop-color="#555555"/><stop offset=".8696" stop-color="#4b4b4b"/><stop offset=".8841" stop-color="#404040"/><stop offset=".8986" stop-color="#333333"/><stop offset=".913" stop-color="#252525"/><stop offset=".9275" stop-color="#161616"/><stop offset=".942" stop-color="#0a0a0a"/><stop offset=".9565" stop-color="#000000"/><stop offset="1" stop-color="#000000"/></linearGradient>
<linearGradient id="l32" x1="0" y1="103.4" x2="0" y2="517.4" gradientUnits="userSpaceOnUse"><stop offset="0" stop-color="#010101"/><stop offset=".029" stop-color="#010101"/><stop offset=".0435" stop-color="#0b0b0b"/><stop offset=".058" stop-color="#181818"/><stop offset=".0725" stop-color="#232323"/><stop offset=".087" stop-color="#2d2d2d"/><stop offset=".1014" stop-color="#373737"/><stop offset=".1159" stop-color="#414141"/><stop offset=".1304" stop-color="#4d4d4d"/><stop offset=".1449" stop-color="#595959"/><stop offset=".1594" stop-color="#656565"/><stop offset=".1739" stop-color="#717171"/><stop offset=".1884" stop-color="#7c7c7c"/><stop offset=".2029" stop-color="#868686"/><stop offset=".2174" stop-color="#909090"/><stop offset=".2319" stop-color="#9a9a9a"/><stop offset=".2464" stop-color="#a2a2a2"/><stop offset=".2609" stop-color="#ababab"/><stop offset=".2754" stop-color="#b2b2b2"/><stop offset=".2899" stop-color="#b9b9b9"/><stop offset=".3043" stop-color="#bfbfbf"/><stop offset=".3188" stop-color="#c5c5c5"/><stop offset=".3333" stop-color="#c9c9c9"/><stop offset=".3478" stop-color="#cdcdcd"/><stop offset=".3623" stop-color="#d0d0d0"/><stop offset=".3768" stop-color="#d3d3d3"/><stop offset=".3913" stop-color="#d5d5d5"/><stop offset=".4058" stop-color="#d7d7d7"/><stop offset=".4203" stop-color="#d8d8d8"/><stop offset=".4348" stop-color="#dadada"/><stop offset=".4493" stop-color="#dbdbdb"/><stop offset=".4638" stop-color="#dcdcdc"/><stop offset=".5217" stop-color="#dcdcdc"/><stop offset=".5362" stop-color="#dbdbdb"/><stop offset=".5507" stop-color="#dadada"/><stop offset=".5652" stop-color="#d7d7d7"/><stop offset=".5797" stop-color="#d4d4d4"/><stop offset=".5942" stop-color="#d2d2d2"/><stop offset=".6087" stop-color="#cfcfcf"/><stop offset=".6232" stop-color="#cbcbcb"/><stop offset=".6377" stop-color="#c8c8c8"/><stop offset=".6522" stop-color="#c3c3c3"/><stop offset=".6667" stop-color="#bfbfbf"/><stop offset=".6812" stop-color="#b9b9b9"/><stop offset=".6957" stop-color="#b2b2b2"/><stop offset=".7101" stop-color="#ababab"/><stop offset=".7246" stop-color="#a3a3a3"/><stop offset=".7391" stop-color="#9b9b9b"/><stop offset=".7536" stop-color="#939393"/><stop offset=".7681" stop-color="#8a8a8a"/><stop offset=".7826" stop-color="#828282"/><stop offset=".7971" stop-color="#797979"/><stop offset=".8116" stop-color="#717171"/><stop offset=".8261" stop-color="#686868"/><stop offset=".8406" stop-color="#5f5f5f"/><stop offset=".8551" stop-color="#555555"/><stop offset=".8696" stop-color="#4b4b4b"/><stop offset=".8841" stop-color="#404040"/><stop offset=".8986" stop-color="#333333"/><stop offset=".913" stop-color="#242424"/><stop offset=".9275" stop-color="#161616"/><stop offset=".942" stop-color="#0a0a0a"/><stop offset=".9565" stop-color="#000000"/><stop offset="1" stop-color="#000000"/></linearGradient>
<linearGradient id="l33" x1="0" y1="103.4" x2="0" y2="517.4" gradientUnits="userSpaceOnUse"><stop offset="0" stop-color="#010101"/><stop offset=".029" stop-color="#010101"/><stop offset=".0435" stop-color="#0b0b0b"/><stop offset=".058" stop-color="#181818"/><stop offset=".0725" stop-color="#232323"/><stop offset=".087" stop-color="#2d2d2d"/><stop offset=".1014" stop-color="#363636"/><stop offset=".1159" stop-color="#414141"/><stop offset=".1304" stop-color="#4c4c4c"/><stop offset=".1449" stop-color="#585858"/><stop offset=".1594" stop-color="#646464"/><stop offset=".1739" stop-color="#717171"/><stop offset=".1884" stop-color="#7c7c7c"/><stop offset=".2029" stop-color="#868686"/><stop offset=".2174" stop-color="#909090"/><stop offset=".2319" stop-color="#999999"/><stop offset=".2464" stop-color="#a2a2a2"/><stop offset=".2609" stop-color="#aaaaaa"/><stop offset=".2754" stop-color="#b2b2b2"/><stop offset=".2899" stop-color="#b9b9b9"/><stop offset=".3043" stop-color="#bfbfbf"/><stop offset=".3188" stop-color="#c4c4c4"/><stop offset=".3333" stop-color="#c9c9c9"/><stop offset=".3478" stop-color="#cccccc"/><stop offset=".3623" stop-color="#d0d0d0"/><stop offset=".3768" stop-color="#d2d2d2"/><stop offset=".3913" stop-color="#d5d5d5"/><stop offset=".4058" stop-color="#d6d6d6"/><stop offset=".4203" stop-color="#d8d8d8"/><stop offset=".4348" stop-color="#d9d9d9"/><stop offset=".4493" stop-color="#dadada"/><stop offset=".4638" stop-color="#dbdbdb"/><stop offset=".5362" stop-color="#dbdbdb"/><stop offset=".5507" stop-color="#d9d9d9"/><stop offset=".5652" stop-color="#d7d7d7"/><stop offset=".5797" stop-color="#d4d4d4"/><stop offset=".5942" stop-color="#d1d1d1"/><stop offset=".6087" stop-color="#cecece"/><stop offset=".6232" stop-color="#cbcbcb"/><stop offset=".6377" stop-color="#c7c7c7"/><stop offset=".6522" stop-color="#c3c3c3"/><stop offset=".6667" stop-color="#bebebe"/><stop offset=".6812" stop-color="#b8b8b8"/><stop offset=".6957" stop-color="#b2b2b2"/><stop offset=".7101" stop-color="#ababab"/><stop offset=".7246" stop-color="#a3a3a3"/><stop offset=".7391" stop-color="#9b9b9b"/><stop offset=".7536" stop-color="#929292"/><stop offset=".7681" stop-color="#8a8a8a"/><stop offset=".7826" stop-color="#818181"/><stop offset=".7971" stop-color="#797979"/><stop offset=".8116" stop-color="#707070"/><stop offset=".8261" stop-color="#686868"/><stop offset=".8406" stop-color="#5f5f5f"/><stop offset=".8551" stop-color="#555555"/><stop offset=".8696" stop-color="#4b4b4b"/><stop offset=".8841" stop-color="#404040"/><stop offset=".8986" stop-color="#333333"/><stop offset=".913" stop-color="#242424"/><stop offset=".9275" stop-color="#161616"/><stop offset=".942" stop-color="#090909"/><stop offset=".9565" stop-color="#000000"/><stop offset="1" stop-color="#000000"/></linearGradient>
<linearGradient id="l34" x1="0" y1="103.4" x2="0" y2="517.4" gradientUnits="userSpaceOnUse"><stop offset="0" stop-color="#010101"/><stop offset=".029" stop-color="#010101"/><stop offset=".0435" stop-color="#0b0b0b"/><stop offset=".058" stop-color="#181818"/><stop offset=".0725" stop-color="#222222"/><stop offset=".087" stop-color="#2c2c2c"/><stop offset=".1014" stop-color="#363636"/><stop offset=".1159" stop-color="#404040"/><stop offset=".1304" stop-color="#4c4c4c"/><stop offset=".1449" stop-color="#585858"/><stop offset=".1594" stop-color="#646464"/><stop offset=".1739" stop-color="#707070"/><stop offset=".1884" stop-color="#7b7b7b"/><stop offset=".2029" stop-color="#858585"/><stop offset=".2174" stop-color="#8f8f8f"/><stop offset=".2319" stop-color="#989898"/><stop offset=".2464" stop-color="#a1a1a1"/><stop offset=".2609" stop-color="#aaaaaa"/><stop offset=".2754" stop-color="#b2b2b2"/><stop offset=".2899" stop-color="#b9b9b9"/><stop offset=".3043" stop-color="#bfbfbf"/><stop offset=".3188" stop-color="#c4c4c4"/><stop offset=".3333" stop-color="#c8c8c8"/><stop offset=".3478" stop-color="#cccccc"/><stop offset=".3623" stop-color="#cfcfcf"/><stop offset=".3768" stop-color="#d2d2d2"/><stop offset=".3913" stop-color="#d4d4d4"/><stop offset=".4058" stop-color="#d6d6d6"/><stop offset=".4203" stop-color="#d8d8d8"/><stop offset=".4348" stop-color="#d9d9d9"/><stop offset=".4493" stop-color="#dadada"/><stop offset=".4638" stop-color="#dbdbdb"/><stop offset=".5362" stop-color="#dbdbdb"/><stop offset=".5507" stop-color="#d9d9d9"/><stop offset=".5652" stop-color="#d7d7d7"/><stop offset=".5797" stop-color="#d4d4d4"/><stop offset=".5942" stop-color="#d1d1d1"/><stop offset=".6087" stop-color="#cecece"/><stop offset=".6232" stop-color="#cbcbcb"/><stop offset=".6377" stop-color="#c7c7c7"/><stop offset=".6522" stop-color="#c3c3c3"/><stop offset=".6667" stop-color="#bebebe"/><stop offset=".6812" stop-color="#b8b8b8"/><stop offset=".6957" stop-color="#b2b2b2"/><stop offset=".7101" stop-color="#aaaaaa"/><stop offset=".7246" stop-color="#a3a3a3"/><stop offset=".7391" stop-color="#9a9a9a"/><stop offset=".7536" stop-color="#929292"/><stop offset=".7681" stop-color="#8a8a8a"/><stop offset=".7826" stop-color="#818181"/><stop offset=".7971" stop-color="#797979"/><stop offset=".8116" stop-color="#707070"/><stop offset=".8261" stop-color="#676767"/><stop offset=".8406" stop-color="#5e5e5e"/><stop offset=".8551" stop-color="#555555"/><stop offset=".8696" stop-color="#4b4b4b"/><stop offset=".8841" stop-color="#404040"/><stop offset=".8986" stop-color="#333333"/><stop offset=".913" stop-color="#242424"/><stop offset=".9275" stop-color="#151515"/><stop offset=".942" stop-color="#090909"/><stop offset=".9565" stop-color="#000000"/><stop offset="1" stop-color="#000000"/></linearGradient>
<linearGradient id="l35" x1="0" y1="103.4" x2="0" y2="517.4" gradientUnits="userSpaceOnUse"><stop offset="0" stop-color="#010101"/><stop offset=".029" stop-color="#010101"/><stop offset=".0435" stop-color="#0b0b0b"/><stop offset=".058" stop-color="#171717"/><stop offset=".0725" stop-color="#222222"/><stop offset=".087" stop-color="#2c2c2c"/><stop offset=".1014" stop-color="#353535"/><stop offset=".1159" stop-color="#404040"/><stop offset=".1304" stop-color="#4b4b4b"/><stop offset=".1449" stop-color="#575757"/><stop offset=".1594" stop-color="#646464"/><stop offset=".1739" stop-color="#707070"/><stop offset=".1884" stop-color="#7b7b7b"/><stop offset=".2029" stop-color="#858585"/><stop offset=".2174" stop-color="#8f8f8f"/><stop offset=".2319" stop-color="#989898"/><stop offset=".2464" stop-color="#a1a1a1"/><stop offset=".2609" stop-color="#a9a9a9"/><stop offset=".2754" stop-color="#b1b1b1"/><stop offset=".2899" stop-color="#b8b8b8"/><stop offset=".3043" stop-color="#bebebe"/><stop offset=".3188" stop-color="#c3c3c3"/><stop offset=".3333" stop-color="#c8c8c8"/><stop offset=".3478" stop-color="#cccccc"/><stop offset=".3623" stop-color="#cfcfcf"/><stop offset=".3768" stop-color="#d2d2d2"/><stop offset=".3913" stop-color="#d4d4d4"/><stop offset=".4058" stop-color="#d6d6d6"/><stop offset=".4203" stop-color="#d7d7d7"/><stop offset=".4348" stop-color="#d9d9d9"/><stop offset=".4493" stop-color="#dadada"/><stop offset=".4638" stop-color="#dbdbdb"/><stop offset=".5217" stop-color="#dbdbdb"/><stop offset=".5362" stop-color="#dadada"/><stop offset=".5507" stop-color="#d9d9d9"/><stop offset=".5652" stop-color="#d6d6d6"/><stop offset=".5797" stop-color="#d3d3d3"/><stop offset=".5942" stop-color="#d1d1d1"/><stop offset=".6087" stop-color="#cecece"/><stop offset=".6232" stop-color="#cacaca"/><stop offset=".6377" stop-color="#c7c7c7"/><stop offset=".6522" stop-color="#c2c2c2"/><stop offset=".6667" stop-color="#bebebe"/><stop offset=".6812" stop-color="#b8b8b8"/><stop offset=".6957" stop-color="#b1b1b1"/><stop offset=".7101" stop-color="#aaaaaa"/><stop offset=".7246" stop-color="#a2a2a2"/><stop offset=".7391" stop-color="#9a9a9a"/><stop offset=".7536" stop-color="#929292"/><stop offset=".7681" stop-color="#898989"/><stop offset=".7826" stop-color="#818181"/><stop offset=".7971" stop-color="#797979"/><stop offset=".8116" stop-color="#707070"/><stop offset=".8261" stop-color="#676767"/><stop offset=".8406" stop-color="#5e5e5e"/><stop offset=".8551" stop-color="#555555"/><stop offset=".8696" stop-color="#4a4a4a"/><stop offset=".8841" stop-color="#3f3f3f"/><stop offset=".8986" stop-color="#323232"/><stop offset=".913" stop-color="#242424"/><stop offset=".9275" stop-color="#151515"/><stop offset=".942" stop-color="#090909"/><stop offset=".9565" stop-color="#000000"/><stop offset="1" stop-color="#000000"/></linearGradient>
<linearGradient id="l36" x1="0" y1="103.4" x2="0" y2="517.4" gradientUnits="userSpaceOnUse"><stop offset="0" stop-color="#010101"/><stop offset=".029" stop-color="#010101"/><stop offset=".0435" stop-color="#0b0b0b"/><stop offset=".058" stop-color="#171717"/><stop offset=".0725" stop-color="#222222"/><stop offset=".087" stop-color="#2b2b2b"/><stop offset=".1014" stop-color="#353535"/><stop offset=".1159" stop-color="#3f3f3f"/><stop offset=".1304" stop-color="#4b4b4b"/><stop offset=".1449" stop-color="#575757"/><stop offset=".1594" stop-color="#636363"/><stop offset=".1739" stop-color="#6f6f6f"/><stop offset=".1884" stop-color="#7b7b7b"/><stop offset=".2029" stop-color="#858585"/><stop offset=".2174" stop-color="#8e8e8e"/><stop offset=".2319" stop-color="#989898"/><stop offset=".2464" stop-color="#a0a0a0"/><stop offset=".2609" stop-color="#a9a9a9"/><stop offset=".2754" stop-color="#b1b1b1"/><stop offset=".2899" stop-color="#b8b8b8"/><stop offset=".3043" stop-color="#bebebe"/><stop offset=".3188" stop-color="#c3c3c3"/><stop offset=".3333" stop-color="#c8c8c8"/><stop offset=".3478" stop-color="#cbcbcb"/><stop offset=".3623" stop-color="#cecece"/><stop offset=".3768" stop-color="#d1d1d1"/><stop offset=".3913" stop-color="#d4d4d4"/><stop offset=".4058" stop-color="#d5d5d5"/><stop offset=".4203" stop-color="#d7d7d7"/><stop offset=".4348" stop-color="#d8d8d8"/><stop offset=".4493" stop-color="#dadada"/><stop offset=".5362" stop-color="#dadada"/><stop offset=".5507" stop-color="#d8d8d8"/><stop offset=".5652" stop-color="#d6d6d6"/><stop offset=".5797" stop-color="#d3d3d3"/><stop offset=".5942" stop-color="#d0d0d0"/><stop offset=".6087" stop-color="#cdcdcd"/><stop offset=".6232" stop-color="#cacaca"/><stop offset=".6377" stop-color="#c6c6c6"/><stop offset=".6522" stop-color="#c2c2c2"/><stop offset=".6667" stop-color="#bdbdbd"/><stop offset=".6812" stop-color="#b8b8b8"/><stop offset=".6957" stop-color="#b1b1b1"/><stop offset=".7101" stop-color="#aaaaaa"/><stop offset=".7246" stop-color="#a2a2a2"/><stop offset=".7391" stop-color="#9a9a9a"/><stop offset=".7536" stop-color="#929292"/><stop offset=".7681" stop-color="#898989"/><stop offset=".7826" stop-color="#818181"/><stop offset=".7971" stop-color="#787878"/><stop offset=".8116" stop-color="#707070"/><stop offset=".8261" stop-color="#676767"/><stop offset=".8406" stop-color="#5e5e5e"/><stop offset=".8551" stop-color="#545454"/><stop offset=".8696" stop-color="#4a4a4a"/><stop offset=".8841" stop-color="#3f3f3f"/><stop offset=".8986" stop-color="#323232"/><stop offset=".913" stop-color="#232323"/><stop offset=".9275" stop-color="#151515"/><stop offset=".942" stop-color="#090909"/><stop offset=".9565" stop-color="#000000"/><stop offset="1" stop-color="#000000"/></linearGradient>
<linearGradient id="l37" x1="0" y1="103.4" x2="0" y2="517.4" gradientUnits="userSpaceOnUse"><stop offset="0" stop-color="#010101"/><stop offset=".029" stop-color="#010101"/><stop offset=".0435" stop-color="#0b0b0b"/><stop offset=".058" stop-color="#171717"/><stop offset=".0725" stop-color="#222222"/><stop offset=".087" stop-color="#2b2b2b"/><stop offset=".1014" stop-color="#353535"/><stop offset=".1159" stop-color="#3f3f3f"/><stop offset=".1304" stop-color="#4a4a4a"/><stop offset=".1449" stop-color="#565656"/><stop offset=".1594" stop-color="#636363"/><stop offset=".1739" stop-color="#6f6f6f"/><stop offset=".1884" stop-color="#7a7a7a"/><stop offset=".2029" stop-color="#848484"/><stop offset=".2174" stop-color="#8e8e8e"/><stop offset=".2319" stop-color="#979797"/><stop offset=".2464" stop-color="#a0a0a0"/><stop offset=".2609" stop-color="#a8a8a8"/><stop offset=".2754" stop-color="#b0b0b0"/><stop offset=".2899" stop-color="#b7b7b7"/><stop offset=".3043" stop-color="#bebebe"/><stop offset=".3188" stop-color="#c3c3c3"/><stop offset=".3333" stop-color="#c7c7c7"/><stop offset=".3478" stop-color="#cbcbcb"/><stop offset=".3623" stop-color="#cecece"/><stop offset=".3768" stop-color="#d1d1d1"/><stop offset=".3913" stop-color="#d3d3d3"/><stop offset=".4058" stop-color="#d5d5d5"/><stop offset=".4203" stop-color="#d7d7d7"/><stop offset=".4348" stop-color="#d8d8d8"/><stop offset=".4493" stop-color="#d9d9d9"/><stop offset=".4638" stop-color="#dadada"/><stop offset=".5362" stop-color="#dadada"/><stop offset=".5507" stop-color="#d8d8d8"/><stop offset=".5652" stop-color="#d6d6d6"/><stop offset=".5797" stop-color="#d3d3d3"/><stop offset=".5942" stop-color="#d0d0d0"/><stop offset=".6087" stop-color="#cdcdcd"/><stop offset=".6232" stop-color="#cacaca"/><stop offset=".6377" stop-color="#c6c6c6"/><stop offset=".6522" stop-color="#c2c2c2"/><stop offset=".6667" stop-color="#bdbdbd"/><stop offset=".6812" stop-color="#b7b7b7"/><stop offset=".6957" stop-color="#b1b1b1"/><stop offset=".7101" stop-color="#aaaaaa"/><stop offset=".7246" stop-color="#a2a2a2"/><stop offset=".7391" stop-color="#9a9a9a"/><stop offset=".7536" stop-color="#919191"/><stop offset=".7681" stop-color="#898989"/><stop offset=".7826" stop-color="#818181"/><stop offset=".7971" stop-color="#787878"/><stop offset=".8116" stop-color="#707070"/><stop offset=".8261" stop-color="#676767"/><stop offset=".8406" stop-color="#5e5e5e"/><stop offset=".8551" stop-color="#545454"/><stop offset=".8696" stop-color="#4a4a4a"/><stop offset=".8841" stop-color="#3f3f3f"/><stop offset=".8986" stop-color="#323232"/><stop offset=".913" stop-color="#232323"/><stop offset=".9275" stop-color="#151515"/><stop offset=".942" stop-color="#090909"/><stop offset=".9565" stop-color="#000000"/><stop offset="1" stop-color="#000000"/></linearGradient>
<linearGradient id="l38" x1="0" y1="103.4" x2="0" y2="517.4" gradientUnits="userSpaceOnUse"><stop offset="0" stop-color="#010101"/><stop offset=".029" stop-color="#010101"/><stop offset=".0435" stop-color="#0b0b0b"/><stop offset=".058" stop-color="#171717"/><stop offset=".0725" stop-color="#212121"/><stop offset=".087" stop-color="#2b2b2b"/><stop offset=".1014" stop-color="#343434"/><stop offset=".1159" stop-color="#3f3f3f"/><stop offset=".1304" stop-color="#4a4a4a"/><stop offset=".1449" stop-color="#565656"/><stop offset=".1594" stop-color="#626262"/><stop offset=".1739" stop-color="#6f6f6f"/><stop offset=".1884" stop-color="#7a7a7a"/><stop offset=".2029" stop-color="#848484"/><stop offset=".2174" stop-color="#8d8d8d"/><stop offset=".2319" stop-color="#979797"/><stop offset=".2464" stop-color="#a0a0a0"/><stop offset=".2609" stop-color="#a8a8a8"/><stop offset=".2754" stop-color="#b0b0b0"/><stop offset=".2899" stop-color="#b7b7b7"/><stop offset=".3043" stop-color="#bdbdbd"/><stop offset=".3188" stop-color="#c3c3c3"/><stop offset=".3333" stop-color="#c7c7c7"/><stop offset=".3478" stop-color="#cbcbcb"/><stop offset=".3623" stop-color="#cecece"/><stop offset=".3768" stop-color="#d1d1d1"/><stop offset=".3913" stop-color="#d3d3d3"/><stop offset=".4058" stop-color="#d5d5d5"/><stop offset=".4203" stop-color="#d7d7d7"/><stop offset=".4348" stop-color="#d8d8d8"/><stop offset=".4493" stop-color="#d9d9d9"/><stop offset=".4638" stop-color="#dadada"/><stop offset=".5362" stop-color="#dadada"/><stop offset=".5507" stop-color="#d8d8d8"/><stop offset=".5652" stop-color="#d6d6d6"/><stop offset=".5797" stop-color="#d3d3d3"/><stop offset=".5942" stop-color="#d0d0d0"/><stop offset=".6087" stop-color="#cdcdcd"/><stop offset=".6232" stop-color="#cacaca"/><stop offset=".6377" stop-color="#c6c6c6"/><stop offset=".6522" stop-color="#c2c2c2"/><stop offset=".6667" stop-color="#bdbdbd"/><stop offset=".6812" stop-color="#b7b7b7"/><stop offset=".6957" stop-color="#b1b1b1"/><stop offset=".7101" stop-color="#a9a9a9"/><stop offset=".7246" stop-color="#a2a2a2"/><stop offset=".7391" stop-color="#9a9a9a"/><stop offset=".7536" stop-color="#919191"/><stop offset=".7681" stop-color="#898989"/><stop offset=".7826" stop-color="#808080"/><stop offset=".7971" stop-color="#787878"/><stop offset=".8116" stop-color="#707070"/><stop offset=".8261" stop-color="#676767"/><stop offset=".8406" stop-color="#5e5e5e"/><stop offset=".8551" stop-color="#545454"/><stop offset=".8696" stop-color="#4a4a4a"/><stop offset=".8841" stop-color="#3f3f3f"/><stop offset=".8986" stop-color="#323232"/><stop offset=".913" stop-color="#232323"/><stop offset=".9275" stop-color="#151515"/><stop offset=".942" stop-color="#090909"/><stop offset=".9565" stop-color="#000000"/><stop offset="1" stop-color="#000000"/></linearGradient>
<linearGradient id="l39" x1="0" y1="103.4" x2="0" y2="517.4" gradientUnits="userSpaceOnUse"><stop offset="0" stop-color="#010101"/><stop offset=".029" stop-color="#010101"/><stop offset=".0435" stop-color="#0b0b0b"/><stop offset=".058" stop-color="#171717"/><stop offset=".0725" stop-color="#212121"/><stop offset=".087" stop-color="#2b2b2b"/><stop offset=".1014" stop-color="#343434"/><stop offset=".1159" stop-color="#3e3e3e"/><stop offset=".1304" stop-color="#4a4a4a"/><stop offset=".1449" stop-color="#565656"/><stop offset=".1594" stop-color="#626262"/><stop offset=".1739" stop-color="#6e6e6e"/><stop offset=".1884" stop-color="#7a7a7a"/><stop offset=".2029" stop-color="#848484"/><stop offset=".2174" stop-color="#8d8d8d"/><stop offset=".2319" stop-color="#979797"/><stop offset=".2464" stop-color="#9f9f9f"/><stop offset=".2609" stop-color="#a8a8a8"/><stop offset=".2754" stop-color="#b0b0b0"/><stop offset=".2899" stop-color="#b7b7b7"/><stop offset=".3043" stop-color="#bdbdbd"/><stop offset=".3188" stop-color="#c2c2c2"/><stop offset=".3333" stop-color="#c7c7c7"/><stop offset=".3478" stop-color="#cbcbcb"/><stop offset=".3623" stop-color="#cecece"/><stop offset=".3768" stop-color="#d1d1d1"/><stop offset=".3913" stop-color="#d3d3d3"/><stop offset=".4058" stop-color="#d5d5d5"/><stop offset=".4203" stop-color="#d6d6d6"/><stop offset=".4348" stop-color="#d8d8d8"/><stop offset=".4493" stop-color="#d9d9d9"/><stop offset=".4638" stop-color="#dadada"/><stop offset=".5362" stop-color="#dadada"/><stop offset=".5507" stop-color="#d8d8d8"/><stop offset=".5652" stop-color="#d6d6d6"/><stop offset=".5797" stop-color="#d3d3d3"/><stop offset=".5942" stop-color="#d0d0d0"/><stop offset=".6087" stop-color="#cdcdcd"/><stop offset=".6232" stop-color="#cacaca"/><stop offset=".6377" stop-color="#c6c6c6"/><stop offset=".6522" stop-color="#c2c2c2"/><stop offset=".6667" stop-color="#bdbdbd"/><stop offset=".6812" stop-color="#b7b7b7"/><stop offset=".6957" stop-color="#b1b1b1"/><stop offset=".7101" stop-color="#a9a9a9"/><stop offset=".7246" stop-color="#a2a2a2"/><stop offset=".7391" stop-color="#9a9a9a"/><stop offset=".7536" stop-color="#919191"/><stop offset=".7681" stop-color="#898989"/><stop offset=".7826" stop-color="#808080"/><stop offset=".7971" stop-color="#787878"/><stop offset=".8116" stop-color="#707070"/><stop offset=".8261" stop-color="#676767"/><stop offset=".8406" stop-color="#5e5e5e"/><stop offset=".8551" stop-color="#545454"/><stop offset=".8696" stop-color="#4a4a4a"/><stop offset=".8841" stop-color="#3f3f3f"/><stop offset=".8986" stop-color="#323232"/><stop offset=".913" stop-color="#232323"/><stop offset=".9275" stop-color="#151515"/><stop offset=".942" stop-color="#090909"/><stop offset=".9565" stop-color="#000000"/><stop offset="1" stop-color="#000000"/></linearGradient>
<linearGradient id="l40" x1="0" y1="103.4" x2="0" y2="517.4" gradientUnits="userSpaceOnUse"><stop offset="0" stop-color="#010101"/><stop offset=".029" stop-color="#010101"/><stop offset=".0435" stop-color="#0b0b0b"/><stop offset=".058" stop-color="#171717"/><stop offset=".0725" stop-color="#212121"/><stop offset=".087" stop-color="#2b2b2b"/><stop offset=".1014" stop-color="#343434"/><stop offset=".1159" stop-color="#3e3e3e"/><stop offset=".1304" stop-color="#494949"/><stop offset=".1449" stop-color="#565656"/><stop offset=".1594" stop-color="#626262"/><stop offset=".1739" stop-color="#6e6e6e"/><stop offset=".1884" stop-color="#797979"/><stop offset=".2029" stop-color="#838383"/><stop offset=".2174" stop-color="#8d8d8d"/><stop offset=".2319" stop-color="#969696"/><stop offset=".2464" stop-color="#9f9f9f"/><stop offset=".2609" stop-color="#a8a8a8"/><stop offset=".2754" stop-color="#b0b0b0"/><stop offset=".2899" stop-color="#b7b7b7"/><stop offset=".3043" stop-color="#bdbdbd"/><stop offset=".3188" stop-color="#c2c2c2"/><stop offset=".3333" stop-color="#c7c7c7"/><stop offset=".3478" stop-color="#cbcbcb"/><stop offset=".3623" stop-color="#cecece"/><stop offset=".3768" stop-color="#d1d1d1"/><stop offset=".3913" stop-color="#d3d3d3"/><stop offset=".4058" stop-color="#d5d5d5"/><stop offset=".4203" stop-color="#d6d6d6"/><stop offset=".4348" stop-color="#d8d8d8"/><stop offset=".4493" stop-color="#d9d9d9"/><stop offset=".4638" stop-color="#dadada"/><stop offset=".5362" stop-color="#dadada"/><stop offset=".5507" stop-color="#d8d8d8"/><stop offset=".5652" stop-color="#d6d6d6"/><stop offset=".5797" stop-color="#d3d3d3"/><stop offset=".5942" stop-color="#d0d0d0"/><stop offset=".6087" stop-color="#cdcdcd"/><stop offset=".6232" stop-color="#cacaca"/><stop offset=".6377" stop-color="#c6c6c6"/><stop offset=".6522" stop-color="#c2c2c2"/><stop offset=".6667" stop-color="#bdbdbd"/><stop offset=".6812" stop-color="#b7b7b7"/><stop offset=".6957" stop-color="#b1b1b1"/><stop offset=".7101" stop-color="#a9a9a9"/><stop offset=".7246" stop-color="#a2a2a2"/><stop offset=".7391" stop-color="#9a9a9a"/><stop offset=".7536" stop-color="#919191"/><stop offset=".7681" stop-color="#898989"/><stop offset=".7826" stop-color="#808080"/><stop offset=".7971" stop-color="#787878"/><stop offset=".8116" stop-color="#707070"/><stop offset=".8261" stop-color="#676767"/><stop offset=".8406" stop-color="#5e5e5e"/><stop offset=".8551" stop-color="#545454"/><stop offset=".8696" stop-color="#4a4a4a"/><stop offset=".8841" stop-color="#3f3f3f"/><stop offset=".8986" stop-color="#323232"/><stop offset=".913" stop-color="#232323"/><stop offset=".9275" stop-color="#151515"/><stop offset=".942" stop-color="#090909"/><stop offset=".9565" stop-color="#000000"/><stop offset="1" stop-color="#000000"/></linearGradient>
<linearGradient id="r0" x1="0" y1="97.5" x2="0" y2="517.5" gradientUnits="userSpaceOnUse"><stop offset="0" stop-color="#919191"/><stop offset=".0357" stop-color="#919191"/><stop offset=".0476" stop-color="#909090"/><stop offset=".0595" stop-color="#8f8f8f"/><stop offset=".0714" stop-color="#8e8e8e"/><stop offset=".0833" stop-color="#8d8d8d"/><stop offset=".0952" stop-color="#8c8c8c"/><stop offset=".1071" stop-color="#8b8b8b"/><stop offset=".119" stop-color="#8a8a8a"/><stop offset=".131" stop-color="#898989"/><stop offset=".1429" stop-color="#888888"/><stop offset=".1548" stop-color="#868686"/><stop offset=".1667" stop-color="#838383"/><stop offset=".1786" stop-color="#818181"/><stop offset=".1905" stop-color="#7e7e7e"/><stop offset=".2024" stop-color="#7c7c7c"/><stop offset=".2143" stop-color="#7a7a7a"/><stop offset=".2262" stop-color="#787878"/><stop offset=".2381" stop-color="#767676"/><stop offset=".25" stop-color="#747474"/><stop offset=".2619" stop-color="#727272"/><stop offset=".2738" stop-color="#6f6f6f"/><stop offset=".2857" stop-color="#6d6d6d"/><stop offset=".2976" stop-color="#6a6a6a"/><stop offset=".3095" stop-color="#696969"/><stop offset=".3214" stop-color="#676767"/><stop offset=".3333" stop-color="#666666"/><stop offset=".3452" stop-color="#646464"/><stop offset=".3571" stop-color="#636363"/><stop offset=".369" stop-color="#616161"/><stop offset=".381" stop-color="#606060"/><stop offset=".3929" stop-color="#5e5e5e"/><stop offset=".4048" stop-color="#5c5c5c"/><stop offset=".4167" stop-color="#5a5a5a"/><stop offset=".4286" stop-color="#585858"/><stop offset=".4405" stop-color="#575757"/><stop offset=".4524" stop-color="#555555"/><stop offset=".4643" stop-color="#535353"/><stop offset=".4762" stop-color="#515151"/><stop offset=".4881" stop-color="#4e4e4e"/><stop offset=".5" stop-color="#4c4c4c"/><stop offset=".5119" stop-color="#4a4a4a"/><stop offset=".5238" stop-color="#484848"/><stop offset=".5357" stop-color="#464646"/><stop offset=".5476" stop-color="#444444"/><stop offset=".5595" stop-color="#424242"/><stop offset=".5714" stop-color="#3f3f3f"/><stop offset=".5833" stop-color="#3d3d3d"/><stop offset=".5952" stop-color="#3b3b3b"/><stop offset=".6071" stop-color="#383838"/><stop offset=".619" stop-color="#363636"/><stop offset=".631" stop-color="#333333"/><stop offset=".6429" stop-color="#313131"/><stop offset=".6548" stop-color="#2e2e2e"/><stop offset=".6667" stop-color="#2b2b2b"/><stop offset=".6786" stop-color="#292929"/><stop offset=".6905" stop-color="#262626"/><stop offset=".7024" stop-color="#232323"/><stop offset=".7143" stop-color="#212121"/><stop offset=".7262" stop-color="#1e1e1e"/><stop offset=".7381" stop-color="#1b1b1b"/><stop offset=".75" stop-color="#181818"/><stop offset=".7619" stop-color="#151515"/><stop offset=".7738" stop-color="#121212"/><stop offset=".7857" stop-color="#0e0e0e"/><stop offset=".7976" stop-color="#0b0b0b"/><stop offset=".8095" stop-color="#070707"/><stop offset=".8214" stop-color="#030303"/><stop offset=".8333" stop-color="#010101"/><stop offset=".8452" stop-color="#000000"/><stop offset="1" stop-color="#000000"/></linearGradient>
<linearGradient id="r1" x1="0" y1="97.5" x2="0" y2="517.5" gradientUnits="userSpaceOnUse"><stop offset="0" stop-color="#919191"/><stop offset=".0357" stop-color="#919191"/><stop offset=".0476" stop-color="#909090"/><stop offset=".0595" stop-color="#8f8f8f"/><stop offset=".0714" stop-color="#8e8e8e"/><stop offset=".0833" stop-color="#8d8d8d"/><stop offset=".0952" stop-color="#8c8c8c"/><stop offset=".1071" stop-color="#8b8b8b"/><stop offset=".119" stop-color="#8a8a8a"/><stop offset=".131" stop-color="#898989"/><stop offset=".1429" stop-color="#888888"/><stop offset=".1548" stop-color="#868686"/><stop offset=".1667" stop-color="#838383"/><stop offset=".1786" stop-color="#818181"/><stop offset=".1905" stop-color="#7e7e7e"/><stop offset=".2024" stop-color="#7c7c7c"/><stop offset=".2143" stop-color="#7a7a7a"/><stop offset=".2262" stop-color="#787878"/><stop offset=".2381" stop-color="#767676"/><stop offset=".25" stop-color="#747474"/><stop offset=".2619" stop-color="#727272"/><stop offset=".2738" stop-color="#6f6f6f"/><stop offset=".2857" stop-color="#6d6d6d"/><stop offset=".2976" stop-color="#6a6a6a"/><stop offset=".3095" stop-color="#696969"/><stop offset=".3214" stop-color="#676767"/><stop offset=".3333" stop-color="#666666"/><stop offset=".3452" stop-color="#646464"/><stop offset=".3571" stop-color="#636363"/><stop offset=".369" stop-color="#616161"/><stop offset=".381" stop-color="#606060"/><stop offset=".3929" stop-color="#5e5e5e"/><stop offset=".4048" stop-color="#5c5c5c"/><stop offset=".4167" stop-color="#5a5a5a"/><stop offset=".4286" stop-color="#585858"/><stop offset=".4405" stop-color="#575757"/><stop offset=".4524" stop-color="#555555"/><stop offset=".4643" stop-color="#535353"/><stop offset=".4762" stop-color="#515151"/><stop offset=".4881" stop-color="#4e4e4e"/><stop offset=".5" stop-color="#4c4c4c"/><stop offset=".5119" stop-color="#4a4a4a"/><stop offset=".5238" stop-color="#484848"/><stop offset=".5357" stop-color="#464646"/><stop offset=".5476" stop-color="#444444"/><stop offset=".5595" stop-color="#424242"/><stop offset=".5714" stop-color="#3f3f3f"/><stop offset=".5833" stop-color="#3d3d3d"/><stop offset=".5952" stop-color="#3b3b3b"/><stop offset=".6071" stop-color="#383838"/><stop offset=".619" stop-color="#363636"/><stop offset=".631" stop-color="#333333"/><stop offset=".6429" stop-color="#313131"/><stop offset=".6548" stop-color="#2e2e2e"/><stop offset=".6667" stop-color="#2b2b2b"/><stop offset=".6786" stop-color="#292929"/><stop offset=".6905" stop-color="#262626"/><stop offset=".7024" stop-color="#232323"/><stop offset=".7143" stop-color="#212121"/><stop offset=".7262" stop-color="#1e1e1e"/><stop offset=".7381" stop-color="#1b1b1b"/><stop offset=".75" stop-color="#181818"/><stop offset=".7619" stop-color="#151515"/><stop offset=".7738" stop-color="#121212"/><stop offset=".7857" stop-color="#0e0e0e"/><stop offset=".7976" stop-color="#0b0b0b"/><stop offset=".8095" stop-color="#070707"/><stop offset=".8214" stop-color="#030303"/><stop offset=".8333" stop-color="#010101"/><stop offset=".8452" stop-color="#000000"/><stop offset="1" stop-color="#000000"/></linearGradient>
<linearGradient id="r2" x1="0" y1="97.5" x2="0" y2="517.5" gradientUnits="userSpaceOnUse"><stop offset="0" stop-color="#919191"/><stop offset=".0357" stop-color="#919191"/><stop offset=".0476" stop-color="#909090"/><stop offset=".0595" stop-color="#8f8f8f"/><stop offset=".0714" stop-color="#8e8e8e"/><stop offset=".0833" stop-color="#8d8d8d"/><stop offset=".0952" stop-color="#8c8c8c"/><stop offset=".1071" stop-color="#8b8b8b"/><stop offset=".119" stop-color="#8a8a8a"/><stop offset=".131" stop-color="#898989"/><stop offset=".1429" stop-color="#888888"/><stop offset=".1548" stop-color="#868686"/><stop offset=".1667" stop-color="#838383"/><stop offset=".1786" stop-color="#818181"/><stop offset=".1905" stop-color="#7e7e7e"/><stop offset=".2024" stop-color="#7c7c7c"/><stop offset=".2143" stop-color="#7a7a7a"/><stop offset=".2262" stop-color="#787878"/><stop offset=".2381" stop-color="#767676"/><stop offset=".25" stop-color="#747474"/><stop offset=".2619" stop-color="#727272"/><stop offset=".2738" stop-color="#6f6f6f"/><stop offset=".2857" stop-color="#6d6d6d"/><stop offset=".2976" stop-color="#6a6a6a"/><stop offset=".3095" stop-color="#696969"/><stop offset=".3214" stop-color="#676767"/><stop offset=".3333" stop-color="#666666"/><stop offset=".3452" stop-color="#646464"/><stop offset=".3571" stop-color="#636363"/><stop offset=".369" stop-color="#616161"/><stop offset=".381" stop-color="#606060"/><stop offset=".3929" stop-color="#5e5e5e"/><stop offset=".4048" stop-color="#5c5c5c"/><stop offset=".4167" stop-color="#5a5a5a"/><stop offset=".4286" stop-color="#585858"/><stop offset=".4405" stop-color="#575757"/><stop offset=".4524" stop-color="#555555"/><stop offset=".4643" stop-color="#535353"/><stop offset=".4762" stop-color="#515151"/><stop offset=".4881" stop-color="#4e4e4e"/><stop offset=".5" stop-color="#4c4c4c"/><stop offset=".5119" stop-color="#4a4a4a"/><stop offset=".5238" stop-color="#484848"/><stop offset=".5357" stop-color="#464646"/><stop offset=".5476" stop-color="#444444"/><stop offset=".5595" stop-color="#424242"/><stop offset=".5714" stop-color="#3f3f3f"/><stop offset=".5833" stop-color="#3d3d3d"/><stop offset=".5952" stop-color="#3b3b3b"/><stop offset=".6071" stop-color="#383838"/><stop offset=".619" stop-color="#363636"/><stop offset=".631" stop-color="#333333"/><stop offset=".6429" stop-color="#313131"/><stop offset=".6548" stop-color="#2e2e2e"/><stop offset=".6667" stop-color="#2b2b2b"/><stop offset=".6786" stop-color="#292929"/><stop offset=".6905" stop-color="#262626"/><stop offset=".7024" stop-color="#232323"/><stop offset=".7143" stop-color="#212121"/><stop offset=".7262" stop-color="#1e1e1e"/><stop offset=".7381" stop-color="#1b1b1b"/><stop offset=".75" stop-color="#181818"/><stop offset=".7619" stop-color="#151515"/><stop offset=".7738" stop-color="#121212"/><stop offset=".7857" stop-color="#0e0e0e"/><stop offset=".7976" stop-color="#0b0b0b"/><stop offset=".8095" stop-color="#070707"/><stop offset=".8214" stop-color="#030303"/><stop offset=".8333" stop-color="#010101"/><stop offset=".8452" stop-color="#000000"/><stop offset="1" stop-color="#000000"/></linearGradient>
<linearGradient id="r3" x1="0" y1="97.5" x2="0" y2="517.5" gradientUnits="userSpaceOnUse"><stop offset="0" stop-color="#919191"/><stop offset=".0357" stop-color="#919191"/><stop offset=".0476" stop-color="#909090"/><stop offset=".0595" stop-color="#8f8f8f"/><stop offset=".0714" stop-color="#8e8e8e"/><stop offset=".0833" stop-color="#8d8d8d"/><stop offset=".0952" stop-color="#8c8c8c"/><stop offset=".1071" stop-color="#8b8b8b"/><stop offset=".119" stop-color="#8a8a8a"/><stop offset=".131" stop-color="#898989"/><stop offset=".1429" stop-color="#888888"/><stop offset=".1548" stop-color="#868686"/><stop offset=".1667" stop-color="#838383"/><stop offset=".1786" stop-color="#818181"/><stop offset=".1905" stop-color="#7e7e7e"/><stop offset=".2024" stop-color="#7c7c7c"/><stop offset=".2143" stop-color="#7a7a7a"/><stop offset=".2262" stop-color="#787878"/><stop offset=".2381" stop-color="#767676"/><stop offset=".25" stop-color="#747474"/><stop offset=".2619" stop-color="#727272"/><stop offset=".2738" stop-color="#6f6f6f"/><stop offset=".2857" stop-color="#6d6d6d"/><stop offset=".2976" stop-color="#6a6a6a"/><stop offset=".3095" stop-color="#696969"/><stop offset=".3214" stop-color="#676767"/><stop offset=".3333" stop-color="#666666"/><stop offset=".3452" stop-color="#646464"/><stop offset=".3571" stop-color="#636363"/><stop offset=".369" stop-color="#616161"/><stop offset=".381" stop-color="#606060"/><stop offset=".3929" stop-color="#5e5e5e"/><stop offset=".4048" stop-color="#5c5c5c"/><stop offset=".4167" stop-color="#5a5a5a"/><stop offset=".4286" stop-color="#585858"/><stop offset=".4405" stop-color="#575757"/><stop offset=".4524" stop-color="#555555"/><stop offset=".4643" stop-color="#535353"/><stop offset=".4762" stop-color="#515151"/><stop offset=".4881" stop-color="#4e4e4e"/><stop offset=".5" stop-color="#4c4c4c"/><stop offset=".5119" stop-color="#4a4a4a"/><stop offset=".5238" stop-color="#484848"/><stop offset=".5357" stop-color="#464646"/><stop offset=".5476" stop-color="#444444"/><stop offset=".5595" stop-color="#424242"/><stop offset=".5714" stop-color="#3f3f3f"/><stop offset=".5833" stop-color="#3d3d3d"/><stop offset=".5952" stop-color="#3b3b3b"/><stop offset=".6071" stop-color="#383838"/><stop offset=".619" stop-color="#363636"/><stop offset=".631" stop-color="#333333"/><stop offset=".6429" stop-color="#313131"/><stop offset=".6548" stop-color="#2e2e2e"/><stop offset=".6667" stop-color="#2b2b2b"/><stop offset=".6786" stop-color="#292929"/><stop offset=".6905" stop-color="#262626"/><stop offset=".7024" stop-color="#232323"/><stop offset=".7143" stop-color="#212121"/><stop offset=".7262" stop-color="#1e1e1e"/><stop offset=".7381" stop-color="#1b1b1b"/><stop offset=".75" stop-color="#181818"/><stop offset=".7619" stop-color="#151515"/><stop offset=".7738" stop-color="#121212"/><stop offset=".7857" stop-color="#0e0e0e"/><stop offset=".7976" stop-color="#0b0b0b"/><stop offset=".8095" stop-color="#070707"/><stop offset=".8214" stop-color="#030303"/><stop offset=".8333" stop-color="#010101"/><stop offset=".8452" stop-color="#000000"/><stop offset="1" stop-color="#000000"/></linearGradient>
<linearGradient id="r4" x1="0" y1="97.5" x2="0" y2="517.5" gradientUnits="userSpaceOnUse"><stop offset="0" stop-color="#919191"/><stop offset=".0357" stop-color="#919191"/><stop offset=".0476" stop-color="#909090"/><stop offset=".0595" stop-color="#8f8f8f"/><stop offset=".0714" stop-color="#8e8e8e"/><stop offset=".0833" stop-color="#8d8d8d"/><stop offset=".0952" stop-color="#8c8c8c"/><stop offset=".1071" stop-color="#8b8b8b"/><stop offset=".119" stop-color="#8a8a8a"/><stop offset=".131" stop-color="#898989"/><stop offset=".1429" stop-color="#888888"/><stop offset=".1548" stop-color="#868686"/><stop offset=".1667" stop-color="#838383"/><stop offset=".1786" stop-color="#818181"/><stop offset=".1905" stop-color="#7e7e7e"/><stop offset=".2024" stop-color="#7c7c7c"/><stop offset=".2143" stop-color="#7a7a7a"/><stop offset=".2262" stop-color="#787878"/><stop offset=".2381" stop-color="#767676"/><stop offset=".25" stop-color="#747474"/><stop offset=".2619" stop-color="#727272"/><stop offset=".2738" stop-color="#6f6f6f"/><stop offset=".2857" stop-color="#6d6d6d"/><stop offset=".2976" stop-color="#6a6a6a"/><stop offset=".3095" stop-color="#696969"/><stop offset=".3214" stop-color="#676767"/><stop offset=".3333" stop-color="#666666"/><stop offset=".3452" stop-color="#646464"/><stop offset=".3571" stop-color="#636363"/><stop offset=".369" stop-color="#616161"/><stop offset=".381" stop-color="#606060"/><stop offset=".3929" stop-color="#5e5e5e"/><stop offset=".4048" stop-color="#5c5c5c"/><stop offset=".4167" stop-color="#5a5a5a"/><stop offset=".4286" stop-color="#585858"/><stop offset=".4405" stop-color="#575757"/><stop offset=".4524" stop-color="#555555"/><stop offset=".4643" stop-color="#535353"/><stop offset=".4762" stop-color="#515151"/><stop offset=".4881" stop-color="#4e4e4e"/><stop offset=".5" stop-color="#4c4c4c"/><stop offset=".5119" stop-color="#4a4a4a"/><stop offset=".5238" stop-color="#484848"/><stop offset=".5357" stop-color="#464646"/><stop offset=".5476" stop-color="#444444"/><stop offset=".5595" stop-color="#424242"/><stop offset=".5714" stop-color="#3f3f3f"/><stop offset=".5833" stop-color="#3d3d3d"/><stop offset=".5952" stop-color="#3b3b3b"/><stop offset=".6071" stop-color="#383838"/><stop offset=".619" stop-color="#363636"/><stop offset=".631" stop-color="#333333"/><stop offset=".6429" stop-color="#313131"/><stop offset=".6548" stop-color="#2e2e2e"/><stop offset=".6667" stop-color="#2b2b2b"/><stop offset=".6786" stop-color="#292929"/><stop offset=".6905" stop-color="#262626"/><stop offset=".7024" stop-color="#232323"/><stop offset=".7143" stop-color="#212121"/><stop offset=".7262" stop-color="#1e1e1e"/><stop offset=".7381" stop-color="#1b1b1b"/><stop offset=".75" stop-color="#181818"/><stop offset=".7619" stop-color="#151515"/><stop offset=".7738" stop-color="#121212"/><stop offset=".7857" stop-color="#0e0e0e"/><stop offset=".7976" stop-color="#0b0b0b"/><stop offset=".8095" stop-color="#070707"/><stop offset=".8214" stop-color="#030303"/><stop offset=".8333" stop-color="#010101"/><stop offset=".8452" stop-color="#000000"/><stop offset="1" stop-color="#000000"/></linearGradient>
<linearGradient id="r5" x1="0" y1="97.5" x2="0" y2="517.5" gradientUnits="userSpaceOnUse"><stop offset="0" stop-color="#919191"/><stop offset=".0357" stop-color="#919191"/><stop offset=".0476" stop-color="#909090"/><stop offset=".0595" stop-color="#8f8f8f"/><stop offset=".0714" stop-color="#8e8e8e"/><stop offset=".0833" stop-color="#8d8d8d"/><stop offset=".0952" stop-color="#8c8c8c"/><stop offset=".1071" stop-color="#8b8b8b"/><stop offset=".119" stop-color="#8a8a8a"/><stop offset=".131" stop-color="#898989"/><stop offset=".1429" stop-color="#888888"/><stop offset=".1548" stop-color="#868686"/><stop offset=".1667" stop-color="#838383"/><stop offset=".1786" stop-color="#818181"/><stop offset=".1905" stop-color="#7e7e7e"/><stop offset=".2024" stop-color="#7c7c7c"/><stop offset=".2143" stop-color="#7a7a7a"/><stop offset=".2262" stop-color="#787878"/><stop offset=".2381" stop-color="#767676"/><stop offset=".25" stop-color="#747474"/><stop offset=".2619" stop-color="#727272"/><stop offset=".2738" stop-color="#6f6f6f"/><stop offset=".2857" stop-color="#6d6d6d"/><stop offset=".2976" stop-color="#6a6a6a"/><stop offset=".3095" stop-color="#696969"/><stop offset=".3214" stop-color="#676767"/><stop offset=".3333" stop-color="#666666"/><stop offset=".3452" stop-color="#646464"/><stop offset=".3571" stop-color="#636363"/><stop offset=".369" stop-color="#616161"/><stop offset=".381" stop-color="#606060"/><stop offset=".3929" stop-color="#5e5e5e"/><stop offset=".4048" stop-color="#5c5c5c"/><stop offset=".4167" stop-color="#5a5a5a"/><stop offset=".4286" stop-color="#585858"/><stop offset=".4405" stop-color="#575757"/><stop offset=".4524" stop-color="#555555"/><stop offset=".4643" stop-color="#535353"/><stop offset=".4762" stop-color="#515151"/><stop offset=".4881" stop-color="#4e4e4e"/><stop offset=".5" stop-color="#4c4c4c"/><stop offset=".5119" stop-color="#4a4a4a"/><stop offset=".5238" stop-color="#484848"/><stop offset=".5357" stop-color="#464646"/><stop offset=".5476" stop-color="#444444"/><stop offset=".5595" stop-color="#424242"/><stop offset=".5714" stop-color="#3f3f3f"/><stop offset=".5833" stop-color="#3d3d3d"/><stop offset=".5952" stop-color="#3b3b3b"/><stop offset=".6071" stop-color="#383838"/><stop offset=".619" stop-color="#363636"/><stop offset=".631" stop-color="#333333"/><stop offset=".6429" stop-color="#313131"/><stop offset=".6548" stop-color="#2e2e2e"/><stop offset=".6667" stop-color="#2b2b2b"/><stop offset=".6786" stop-color="#292929"/><stop offset=".6905" stop-color="#262626"/><stop offset=".7024" stop-color="#232323"/><stop offset=".7143" stop-color="#212121"/><stop offset=".7262" stop-color="#1e1e1e"/><stop offset=".7381" stop-color="#1b1b1b"/><stop offset=".75" stop-color="#181818"/><stop offset=".7619" stop-color="#151515"/><stop offset=".7738" stop-color="#121212"/><stop offset=".7857" stop-color="#0e0e0e"/><stop offset=".7976" stop-color="#0b0b0b"/><stop offset=".8095" stop-color="#070707"/><stop offset=".8214" stop-color="#030303"/><stop offset=".8333" stop-color="#010101"/><stop offset=".8452" stop-color="#000000"/><stop offset="1" stop-color="#000000"/></linearGradient>
<linearGradient id="r6" x1="0" y1="97.5" x2="0" y2="517.5" gradientUnits="userSpaceOnUse"><stop offset="0" stop-color="#919191"/><stop offset=".0357" stop-color="#919191"/><stop offset=".0476" stop-color="#909090"/><stop offset=".0595" stop-color="#8f8f8f"/><stop offset=".0714" stop-color="#8e8e8e"/><stop offset=".0833" stop-color="#8d8d8d"/><stop offset=".0952" stop-color="#8c8c8c"/><stop offset=".1071" stop-color="#8b8b8b"/><stop offset=".119" stop-color="#8a8a8a"/><stop offset=".131" stop-color="#898989"/><stop offset=".1429" stop-color="#888888"/><stop offset=".1548" stop-color="#868686"/><stop offset=".1667" stop-color="#838383"/><stop offset=".1786" stop-color="#818181"/><stop offset=".1905" stop-color="#7f7f7f"/><stop offset=".2024" stop-color="#7c7c7c"/><stop offset=".2143" stop-color="#7b7b7b"/><stop offset=".2262" stop-color="#797979"/><stop offset=".2381" stop-color="#777777"/><stop offset=".25" stop-color="#747474"/><stop offset=".2619" stop-color="#727272"/><stop offset=".2738" stop-color="#6f6f6f"/><stop offset=".2857" stop-color="#6d6d6d"/><stop offset=".2976" stop-color="#6b6b6b"/><stop offset=".3095" stop-color="#696969"/><stop offset=".3214" stop-color="#676767"/><stop offset=".3333" stop-color="#666666"/><stop offset=".3452" stop-color="#646464"/><stop offset=".3571" stop-color="#636363"/><stop offset=".369" stop-color="#616161"/><stop offset=".381" stop-color="#606060"/><stop offset=".3929" stop-color="#5e5e5e"/><stop offset=".4048" stop-color="#5c5c5c"/><stop offset=".4167" stop-color="#5a5a5a"/><stop offset=".4286" stop-color="#585858"/><stop offset=".4405" stop-color="#575757"/><stop offset=".4524" stop-color="#555555"/><stop offset=".4643" stop-color="#535353"/><stop offset=".4762" stop-color="#515151"/><stop offset=".4881" stop-color="#4f4f4f"/><stop offset=".5" stop-color="#4c4c4c"/><stop offset=".5119" stop-color="#4a4a4a"/><stop offset=".5238" stop-color="#484848"/><stop offset=".5357" stop-color="#464646"/><stop offset=".5476" stop-color="#444444"/><stop offset=".5595" stop-color="#424242"/><stop offset=".5714" stop-color="#404040"/><stop offset=".5833" stop-color="#3d3d3d"/><stop offset=".5952" stop-color="#3b3b3b"/><stop offset=".6071" stop-color="#383838"/><stop offset=".619" stop-color="#363636"/><stop offset=".631" stop-color="#333333"/><stop offset=".6429" stop-color="#313131"/><stop offset=".6548" stop-color="#2e2e2e"/><stop offset=".6667" stop-color="#2c2c2c"/><stop offset=".6786" stop-color="#292929"/><stop offset=".6905" stop-color="#262626"/><stop offset=".7024" stop-color="#242424"/><stop offset=".7143" stop-color="#212121"/><stop offset=".7262" stop-color="#1e1e1e"/><stop offset=".7381" stop-color="#1b1b1b"/><stop offset=".75" stop-color="#191919"/><stop offset=".7619" stop-color="#151515"/><stop offset=".7738" stop-color="#121212"/><stop offset=".7857" stop-color="#0f0f0f"/><stop offset=".7976" stop-color="#0b0b0b"/><stop offset=".8095" stop-color="#070707"/><stop offset=".8214" stop-color="#030303"/><stop offset=".8333" stop-color="#010101"/><stop offset=".8452" stop-color="#000000"/><stop offset="1" stop-color="#000000"/></linearGradient>
<linearGradient id="r7" x1="0" y1="97.5" x2="0" y2="517.5" gradientUnits="userSpaceOnUse"><stop offset="0" stop-color="#919191"/><stop offset=".0357" stop-color="#919191"/><stop offset=".0476" stop-color="#909090"/><stop offset=".0595" stop-color="#8f8f8f"/><stop offset=".0714" stop-color="#8f8f8f"/><stop offset=".0833" stop-color="#8e8e8e"/><stop offset=".0952" stop-color="#8d8d8d"/><stop offset=".1071" stop-color="#8c8c8c"/><stop offset=".119" stop-color="#8b8b8b"/><stop offset=".131" stop-color="#898989"/><stop offset=".1429" stop-color="#888888"/><stop offset=".1548" stop-color="#868686"/><stop offset=".1667" stop-color="#848484"/><stop offset=".1786" stop-color="#818181"/><stop offset=".1905" stop-color="#7f7f7f"/><stop offset=".2024" stop-color="#7d7d7d"/><stop offset=".2143" stop-color="#7b7b7b"/><stop offset=".2262" stop-color="#797979"/><stop offset=".2381" stop-color="#777777"/><stop offset=".25" stop-color="#757575"/><stop offset=".2619" stop-color="#727272"/><stop offset=".2738" stop-color="#707070"/><stop offset=".2857" stop-color="#6d6d6d"/><stop offset=".2976" stop-color="#6b6b6b"/><stop offset=".3095" stop-color="#696969"/><stop offset=".3214" stop-color="#676767"/><stop offset=".3333" stop-color="#666666"/><stop offset=".3452" stop-color="#656565"/><stop offset=".3571" stop-color="#636363"/><stop offset=".369" stop-color="#626262"/><stop offset=".381" stop-color="#606060"/><stop offset=".3929" stop-color="#5e5e5e"/><stop offset=".4048" stop-color="#5c5c5c"/><stop offset=".4167" stop-color="#5a5a5a"/><stop offset=".4286" stop-color="#595959"/><stop offset=".4405" stop-color="#575757"/><stop offset=".4524" stop-color="#555555"/><stop offset=".4643" stop-color="#535353"/><stop offset=".4762" stop-color="#515151"/><stop offset=".4881" stop-color="#4f4f4f"/><stop offset=".5" stop-color="#4d4d4d"/><stop offset=".5119" stop-color="#4a4a4a"/><stop offset=".5238" stop-color="#484848"/><stop offset=".5357" stop-color="#464646"/><stop offset=".5476" stop-color="#444444"/><stop offset=".5595" stop-color="#424242"/><stop offset=".5714" stop-color="#404040"/><stop offset=".5833" stop-color="#3d3d3d"/><stop offset=".5952" stop-color="#3b3b3b"/><stop offset=".6071" stop-color="#393939"/><stop offset=".619" stop-color="#363636"/><stop offset=".631" stop-color="#333333"/><stop offset=".6429" stop-color="#313131"/><stop offset=".6548" stop-color="#2e2e2e"/><stop offset=".6667" stop-color="#2c2c2c"/><stop offset=".6786" stop-color="#292929"/><stop offset=".6905" stop-color="#262626"/><stop offset=".7024" stop-color="#242424"/><stop offset=".7143" stop-color="#212121"/><stop offset=".7262" stop-color="#1e1e1e"/><stop offset=".7381" stop-color="#1b1b1b"/><stop offset=".75" stop-color="#191919"/><stop offset=".7619" stop-color="#161616"/><stop offset=".7738" stop-color="#121212"/><stop offset=".7857" stop-color="#0f0f0f"/><stop offset=".7976" stop-color="#0b0b0b"/><stop offset=".8095" stop-color="#070707"/><stop offset=".8214" stop-color="#040404"/><stop offset=".8333" stop-color="#010101"/><stop offset=".8452" stop-color="#000000"/><stop offset="1" stop-color="#000000"/></linearGradient>
<linearGradient id="r8" x1="0" y1="97.5" x2="0" y2="517.5" gradientUnits="userSpaceOnUse"><stop offset="0" stop-color="#919191"/><stop offset=".0476" stop-color="#919191"/><stop offset=".0595" stop-color="#909090"/><stop offset=".0714" stop-color="#8f8f8f"/><stop offset=".0833" stop-color="#8e8e8e"/><stop offset=".0952" stop-color="#8d8d8d"/><stop offset=".1071" stop-color="#8c8c8c"/><stop offset=".119" stop-color="#8b8b8b"/><stop offset=".131" stop-color="#8a8a8a"/><stop offset=".1429" stop-color="#888888"/><stop offset=".1548" stop-color="#868686"/><stop offset=".1667" stop-color="#848484"/><stop offset=".1786" stop-color="#828282"/><stop offset=".1905" stop-color="#7f7f7f"/><stop offset=".2024" stop-color="#7d7d7d"/><stop offset=".2143" stop-color="#7b7b7b"/><stop offset=".2262" stop-color="#797979"/><stop offset=".2381" stop-color="#777777"/><stop offset=".25" stop-color="#757575"/><stop offset=".2619" stop-color="#727272"/><stop offset=".2738" stop-color="#707070"/><stop offset=".2857" stop-color="#6d6d6d"/><stop offset=".2976" stop-color="#6b6b6b"/><stop offset=".3095" stop-color="#696969"/><stop offset=".3214" stop-color="#676767"/><stop offset=".3333" stop-color="#666666"/><stop offset=".3452" stop-color="#656565"/><stop offset=".3571" stop-color="#636363"/><stop offset=".369" stop-color="#626262"/><stop offset=".381" stop-color="#606060"/><stop offset=".3929" stop-color="#5e5e5e"/><stop offset=".4048" stop-color="#5c5c5c"/><stop offset=".4167" stop-color="#5b5b5b"/><stop offset=".4286" stop-color="#595959"/><stop offset=".4405" stop-color="#575757"/><stop offset=".4524" stop-color="#555555"/><stop offset=".4643" stop-color="#535353"/><stop offset=".4762" stop-color="#515151"/><stop offset=".4881" stop-color="#4f4f4f"/><stop offset=".5" stop-color="#4d4d4d"/><stop offset=".5119" stop-color="#4b4b4b"/><stop offset=".5238" stop-color="#484848"/><stop offset=".5357" stop-color="#464646"/><stop offset=".5476" stop-color="#444444"/><stop offset=".5595" stop-color="#424242"/><stop offset=".5714" stop-color="#404040"/><stop offset=".5833" stop-color="#3d3d3d"/><stop offset=".5952" stop-color="#3b3b3b"/><stop offset=".6071" stop-color="#393939"/><stop offset=".619" stop-color="#363636"/><stop offset=".631" stop-color="#343434"/><stop offset=".6429" stop-color="#313131"/><stop offset=".6548" stop-color="#2e2e2e"/><stop offset=".6667" stop-color="#2c2c2c"/><stop offset=".6786" stop-color="#292929"/><stop offset=".6905" stop-color="#262626"/><stop offset=".7024" stop-color="#242424"/><stop offset=".7143" stop-color="#212121"/><stop offset=".7262" stop-color="#1e1e1e"/><stop offset=".7381" stop-color="#1c1c1c"/><stop offset=".75" stop-color="#191919"/><stop offset=".7619" stop-color="#161616"/><stop offset=".7738" stop-color="#121212"/><stop offset=".7857" stop-color="#0f0f0f"/><stop offset=".7976" stop-color="#0b0b0b"/><stop offset=".8095" stop-color="#080808"/><stop offset=".8214" stop-color="#040404"/><stop offset=".8333" stop-color="#010101"/><stop offset=".8452" stop-color="#000000"/><stop offset="1" stop-color="#000000"/></linearGradient>
<linearGradient id="r9" x1="0" y1="97.5" x2="0" y2="517.5" gradientUnits="userSpaceOnUse"><stop offset="0" stop-color="#929292"/><stop offset=".0357" stop-color="#929292"/><stop offset=".0476" stop-color="#919191"/><stop offset=".0595" stop-color="#909090"/><stop offset=".0714" stop-color="#8f8f8f"/><stop offset=".0833" stop-color="#8e8e8e"/><stop offset=".0952" stop-color="#8d8d8d"/><stop offset=".1071" stop-color="#8c8c8c"/><stop offset=".119" stop-color="#8b8b8b"/><stop offset=".131" stop-color="#8a8a8a"/><stop offset=".1429" stop-color="#888888"/><stop offset=".1548" stop-color="#868686"/><stop offset=".1667" stop-color="#848484"/><stop offset=".1786" stop-color="#828282"/><stop offset=".1905" stop-color="#7f7f7f"/><stop offset=".2024" stop-color="#7d7d7d"/><stop offset=".2143" stop-color="#7b7b7b"/><stop offset=".2262" stop-color="#797979"/><stop offset=".2381" stop-color="#777777"/><stop offset=".25" stop-color="#757575"/><stop offset=".2619" stop-color="#737373"/><stop offset=".2738" stop-color="#707070"/><stop offset=".2857" stop-color="#6d6d6d"/><stop offset=".2976" stop-color="#6b6b6b"/><stop offset=".3095" stop-color="#696969"/><stop offset=".3214" stop-color="#686868"/><stop offset=".3333" stop-color="#666666"/><stop offset=".3452" stop-color="#656565"/><stop offset=".3571" stop-color="#636363"/><stop offset=".369" stop-color="#626262"/><stop offset=".381" stop-color="#606060"/><stop offset=".3929" stop-color="#5e5e5e"/><stop offset=".4048" stop-color="#5d5d5d"/><stop offset=".4167" stop-color="#5b5b5b"/><stop offset=".4286" stop-color="#595959"/><stop offset=".4405" stop-color="#575757"/><stop offset=".4524" stop-color="#555555"/><stop offset=".4643" stop-color="#535353"/><stop offset=".4762" stop-color="#515151"/><stop offset=".4881" stop-color="#4f4f4f"/><stop offset=".5" stop-color="#4d4d4d"/><stop offset=".5119" stop-color="#4b4b4b"/><stop offset=".5238" stop-color="#494949"/><stop offset=".5357" stop-color="#464646"/><stop offset=".5476" stop-color="#444444"/><stop offset=".5595" stop-color="#424242"/><stop offset=".5714" stop-color="#404040"/><stop offset=".5833" stop-color="#3e3e3e"/><stop offset=".5952" stop-color="#3b3b3b"/><stop offset=".6071" stop-color="#393939"/><stop offset=".619" stop-color="#363636"/><stop offset=".631" stop-color="#343434"/><stop offset=".6429" stop-color="#313131"/><stop offset=".6548" stop-color="#2f2f2f"/><stop offset=".6667" stop-color="#2c2c2c"/><stop offset=".6786" stop-color="#292929"/><stop offset=".6905" stop-color="#272727"/><stop offset=".7024" stop-color="#242424"/><stop offset=".7143" stop-color="#212121"/><stop offset=".7262" stop-color="#1f1f1f"/><stop offset=".7381" stop-color="#1c1c1c"/><stop offset=".75" stop-color="#191919"/><stop offset=".7619" stop-color="#161616"/><stop offset=".7738" stop-color="#131313"/><stop offset=".7857" stop-color="#0f0f0f"/><stop offset=".7976" stop-color="#0b0b0b"/><stop offset=".8095" stop-color="#080808"/><stop offset=".8214" stop-color="#040404"/><stop offset=".8333" stop-color="#010101"/><stop offset=".8452" stop-color="#000000"/><stop offset="1" stop-color="#000000"/></linearGradient>
<linearGradient id="r10" x1="0" y1="97.5" x2="0" y2="517.5" gradientUnits="userSpaceOnUse"><stop offset="0" stop-color="#929292"/><stop offset=".0357" stop-color="#929292"/><stop offset=".0476" stop-color="#919191"/><stop offset=".0595" stop-color="#909090"/><stop offset=".0714" stop-color="#8f8f8f"/><stop offset=".0833" stop-color="#8e8e8e"/><stop offset=".0952" stop-color="#8d8d8d"/><stop offset=".1071" stop-color="#8c8c8c"/><stop offset=".119" stop-color="#8b8b8b"/><stop offset=".131" stop-color="#8a8a8a"/><stop offset=".1429" stop-color="#888888"/><stop offset=".1548" stop-color="#878787"/><stop offset=".1667" stop-color="#858585"/><stop offset=".1786" stop-color="#828282"/><stop offset=".1905" stop-color="#808080"/><stop offset=".2024" stop-color="#7e7e7e"/><stop offset=".2143" stop-color="#7c7c7c"/><stop offset=".2262" stop-color="#7a7a7a"/><stop offset=".2381" stop-color="#787878"/><stop offset=".25" stop-color="#757575"/><stop offset=".2619" stop-color="#737373"/><stop offset=".2738" stop-color="#707070"/><stop offset=".2857" stop-color="#6e6e6e"/><stop offset=".2976" stop-color="#6b6b6b"/><stop offset=".3095" stop-color="#696969"/><stop offset=".3214" stop-color="#686868"/><stop offset=".3333" stop-color="#666666"/><stop offset=".3452" stop-color="#656565"/><stop offset=".3571" stop-color="#636363"/><stop offset=".369" stop-color="#626262"/><stop offset=".381" stop-color="#606060"/><stop offset=".3929" stop-color="#5e5e5e"/><stop offset=".4048" stop-color="#5d5d5d"/><stop offset=".4167" stop-color="#5b5b5b"/><stop offset=".4286" stop-color="#595959"/><stop offset=".4405" stop-color="#575757"/><stop offset=".4524" stop-color="#555555"/><stop offset=".4643" stop-color="#535353"/><stop offset=".4762" stop-color="#515151"/><stop offset=".4881" stop-color="#4f4f4f"/><stop offset=".5" stop-color="#4d4d4d"/><stop offset=".5119" stop-color="#4b4b4b"/><stop offset=".5238" stop-color="#494949"/><stop offset=".5357" stop-color="#474747"/><stop offset=".5476" stop-color="#444444"/><stop offset=".5595" stop-color="#424242"/><stop offset=".5714" stop-color="#404040"/><stop offset=".5833" stop-color="#3e3e3e"/><stop offset=".5952" stop-color="#3b3b3b"/><stop offset=".6071" stop-color="#393939"/><stop offset=".619" stop-color="#363636"/><stop offset=".631" stop-color="#343434"/><stop offset=".6429" stop-color="#313131"/><stop offset=".6548" stop-color="#2f2f2f"/><stop offset=".6667" stop-color="#2c2c2c"/><stop offset=".6786" stop-color="#292929"/><stop offset=".6905" stop-color="#272727"/><stop offset=".7024" stop-color="#242424"/><stop offset=".7143" stop-color="#212121"/><stop offset=".7262" stop-color="#1f1f1f"/><stop offset=".7381" stop-color="#1c1c1c"/><stop offset=".75" stop-color="#191919"/><stop offset=".7619" stop-color="#161616"/><stop offset=".7738" stop-color="#131313"/><stop offset=".7857" stop-color="#0f0f0f"/><stop offset=".7976" stop-color="#0b0b0b"/><stop offset=".8095" stop-color="#080808"/><stop offset=".8214" stop-color="#040404"/><stop offset=".8333" stop-color="#010101"/><stop offset=".8452" stop-color="#000000"/><stop offset="1" stop-color="#000000"/></linearGradient>
<linearGradient id="r11" x1="0" y1="97.5" x2="0" y2="517.5" gradientUnits="userSpaceOnUse"><stop offset="0" stop-color="#929292"/><stop offset=".0357" stop-color="#929292"/><stop offset=".0476" stop-color="#919191"/><stop offset=".0595" stop-color="#909090"/><stop offset=".0714" stop-color="#8f8f8f"/><stop offset=".0833" stop-color="#8e8e8e"/><stop offset=".0952" stop-color="#8d8d8d"/><stop offset=".1071" stop-color="#8c8c8c"/><stop offset=".119" stop-color="#8b8b8b"/><stop offset=".131" stop-color="#8a8a8a"/><stop offset=".1429" stop-color="#898989"/><stop offset=".1548" stop-color="#878787"/><stop offset=".1667" stop-color="#858585"/><stop offset=".1786" stop-color="#828282"/><stop offset=".1905" stop-color="#808080"/><stop offset=".2024" stop-color="#7e7e7e"/><stop offset=".2143" stop-color="#7c7c7c"/><stop offset=".2262" stop-color="#7a7a7a"/><stop offset=".2381" stop-color="#787878"/><stop offset=".25" stop-color="#767676"/><stop offset=".2619" stop-color="#737373"/><stop offset=".2738" stop-color="#717171"/><stop offset=".2857" stop-color="#6e6e6e"/><stop offset=".2976" stop-color="#6c6c6c"/><stop offset=".3095" stop-color="#6a6a6a"/><stop offset=".3214" stop-color="#686868"/><stop offset=".3333" stop-color="#666666"/><stop offset=".3452" stop-color="#656565"/><stop offset=".3571" stop-color="#646464"/><stop offset=".369" stop-color="#626262"/><stop offset=".381" stop-color="#606060"/><stop offset=".3929" stop-color="#5f5f5f"/><stop offset=".4048" stop-color="#5d5d5d"/><stop offset=".4167" stop-color="#5b5b5b"/><stop offset=".4286" stop-color="#595959"/><stop offset=".4405" stop-color="#575757"/><stop offset=".4524" stop-color="#555555"/><stop offset=".4643" stop-color="#535353"/><stop offset=".4762" stop-color="#515151"/><stop offset=".4881" stop-color="#4f4f4f"/><stop offset=".5" stop-color="#4d4d4d"/><stop offset=".5119" stop-color="#4b4b4b"/><stop offset=".5238" stop-color="#494949"/><stop offset=".5357" stop-color="#474747"/><stop offset=".5476" stop-color="#444444"/><stop offset=".5595" stop-color="#424242"/><stop offset=".5714" stop-color="#404040"/><stop offset=".5833" stop-color="#3e3e3e"/><stop offset=".5952" stop-color="#3b3b3b"/><stop offset=".6071" stop-color="#393939"/><stop offset=".619" stop-color="#363636"/><stop offset=".631" stop-color="#343434"/><stop offset=".6429" stop-color="#313131"/><stop offset=".6548" stop-color="#2f2f2f"/><stop offset=".6667" stop-color="#2c2c2c"/><stop offset=".6786" stop-color="#2a2a2a"/><stop offset=".6905" stop-color="#272727"/><stop offset=".7024" stop-color="#242424"/><stop offset=".7143" stop-color="#222222"/><stop offset=".7262" stop-color="#1f1f1f"/><stop offset=".7381" stop-color="#1c1c1c"/><stop offset=".75" stop-color="#191919"/><stop offset=".7619" stop-color="#161616"/><stop offset=".7738" stop-color="#131313"/><stop offset=".7857" stop-color="#0f0f0f"/><stop offset=".7976" stop-color="#0c0c0c"/><stop offset=".8095" stop-color="#080808"/><stop offset=".8214" stop-color="#040404"/><stop offset=".8333" stop-color="#010101"/><stop offset=".8452" stop-color="#000000"/><stop offset="1" stop-color="#000000"/></linearGradient>
<linearGradient id="r12" x1="0" y1="97.5" x2="0" y2="517.5" gradientUnits="userSpaceOnUse"><stop offset="0" stop-color="#929292"/><stop offset=".0357" stop-color="#929292"/><stop offset=".0476" stop-color="#919191"/><stop offset=".0595" stop-color="#909090"/><stop offset=".0714" stop-color="#8f8f8f"/><stop offset=".0833" stop-color="#8e8e8e"/><stop offset=".0952" stop-color="#8d8d8d"/><stop offset=".1071" stop-color="#8c8c8c"/><stop offset=".119" stop-color="#8b8b8b"/><stop offset=".131" stop-color="#8a8a8a"/><stop offset=".1429" stop-color="#898989"/><stop offset=".1548" stop-color="#878787"/><stop offset=".1667" stop-color="#858585"/><stop offset=".1786" stop-color="#838383"/><stop offset=".1905" stop-color="#808080"/><stop offset=".2024" stop-color="#7e7e7e"/><stop offset=".2143" stop-color="#7c7c7c"/><stop offset=".2262" stop-color="#7a7a7a"/><stop offset=".2381" stop-color="#787878"/><stop offset=".25" stop-color="#767676"/><stop offset=".2619" stop-color="#737373"/><stop offset=".2738" stop-color="#717171"/><stop offset=".2857" stop-color="#6e6e6e"/><stop offset=".2976" stop-color="#6c6c6c"/><stop offset=".3095" stop-color="#6a6a6a"/><stop offset=".3214" stop-color="#686868"/><stop offset=".3333" stop-color="#666666"/><stop offset=".3452" stop-color="#656565"/><stop offset=".3571" stop-color="#646464"/><stop offset=".369" stop-color="#626262"/><stop offset=".381" stop-color="#606060"/><stop offset=".3929" stop-color="#5f5f5f"/><stop offset=".4048" stop-color="#5d5d5d"/><stop offset=".4167" stop-color="#5b5b5b"/><stop offset=".4286" stop-color="#595959"/><stop offset=".4405" stop-color="#575757"/><stop offset=".4524" stop-color="#555555"/><stop offset=".4643" stop-color="#535353"/><stop offset=".4762" stop-color="#515151"/><stop offset=".4881" stop-color="#4f4f4f"/><stop offset=".5" stop-color="#4d4d4d"/><stop offset=".5119" stop-color="#4b4b4b"/><stop offset=".5238" stop-color="#494949"/><stop offset=".5357" stop-color="#474747"/><stop offset=".5476" stop-color="#454545"/><stop offset=".5595" stop-color="#424242"/><stop offset=".5714" stop-color="#404040"/><stop offset=".5833" stop-color="#3e3e3e"/><stop offset=".5952" stop-color="#3b3b3b"/><stop offset=".6071" stop-color="#393939"/><stop offset=".619" stop-color="#373737"/><stop offset=".631" stop-color="#343434"/><stop offset=".6429" stop-color="#323232"/><stop offset=".6548" stop-color="#2f2f2f"/><stop offset=".6667" stop-color="#2c2c2c"/><stop offset=".6786" stop-color="#2a2a2a"/><stop offset=".6905" stop-color="#272727"/><stop offset=".7024" stop-color="#242424"/><stop offset=".7143" stop-color="#222222"/><stop offset=".7262" stop-color="#1f1f1f"/><stop offset=".7381" stop-color="#1c1c1c"/><stop offset=".75" stop-color="#191919"/><stop offset=".7619" stop-color="#161616"/><stop offset=".7738" stop-color="#131313"/><stop offset=".7857" stop-color="#101010"/><stop offset=".7976" stop-color="#0c0c0c"/><stop offset=".8095" stop-color="#080808"/><stop offset=".8214" stop-color="#040404"/><stop offset=".8333" stop-color="#020202"/><stop offset=".8452" stop-color="#000000"/><stop offset="1" stop-color="#000000"/></linearGradient>
<linearGradient id="r13" x1="0" y1="97.5" x2="0" y2="517.5" gradientUnits="userSpaceOnUse"><stop offset="0" stop-color="#929292"/><stop offset=".0357" stop-color="#929292"/><stop offset=".0476" stop-color="#919191"/><stop offset=".0595" stop-color="#909090"/><stop offset=".0714" stop-color="#8f8f8f"/><stop offset=".0833" stop-color="#8e8e8e"/><stop offset=".0952" stop-color="#8d8d8d"/><stop offset=".1071" stop-color="#8c8c8c"/><stop offset=".119" stop-color="#8b8b8b"/><stop offset=".131" stop-color="#8a8a8a"/><stop offset=".1429" stop-color="#898989"/><stop offset=".1548" stop-color="#878787"/><stop offset=".1667" stop-color="#858585"/><stop offset=".1786" stop-color="#838383"/><stop offset=".1905" stop-color="#818181"/><stop offset=".2024" stop-color="#7e7e7e"/><stop offset=".2143" stop-color="#7c7c7c"/><stop offset=".2262" stop-color="#7a7a7a"/><stop offset=".2381" stop-color="#787878"/><stop offset=".25" stop-color="#767676"/><stop offset=".2619" stop-color="#747474"/><stop offset=".2738" stop-color="#717171"/><stop offset=".2857" stop-color="#6e6e6e"/><stop offset=".2976" stop-color="#6c6c6c"/><stop offset=".3095" stop-color="#6a6a6a"/><stop offset=".3214" stop-color="#686868"/><stop offset=".3333" stop-color="#676767"/><stop offset=".3452" stop-color="#656565"/><stop offset=".3571" stop-color="#646464"/><stop offset=".369" stop-color="#626262"/><stop offset=".381" stop-color="#616161"/><stop offset=".3929" stop-color="#5f5f5f"/><stop offset=".4048" stop-color="#5d5d5d"/><stop offset=".4167" stop-color="#5b5b5b"/><stop offset=".4286" stop-color="#595959"/><stop offset=".4405" stop-color="#575757"/><stop offset=".4524" stop-color="#555555"/><stop offset=".4643" stop-color="#535353"/><stop offset=".4762" stop-color="#515151"/><stop offset=".4881" stop-color="#4f4f4f"/><stop offset=".5" stop-color="#4d4d4d"/><stop offset=".5119" stop-color="#4b4b4b"/><stop offset=".5238" stop-color="#494949"/><stop offset=".5357" stop-color="#474747"/><stop offset=".5476" stop-color="#454545"/><stop offset=".5595" stop-color="#424242"/><stop offset=".5714" stop-color="#404040"/><stop offset=".5833" stop-color="#3e3e3e"/><stop offset=".5952" stop-color="#3c3c3c"/><stop offset=".6071" stop-color="#393939"/><stop offset=".619" stop-color="#373737"/><stop offset=".631" stop-color="#343434"/><stop offset=".6429" stop-color="#323232"/><stop offset=".6548" stop-color="#2f2f2f"/><stop offset=".6667" stop-color="#2c2c2c"/><stop offset=".6786" stop-color="#2a2a2a"/><stop offset=".6905" stop-color="#272727"/><stop offset=".7024" stop-color="#252525"/><stop offset=".7143" stop-color="#222222"/><stop offset=".7262" stop-color="#1f1f1f"/><stop offset=".7381" stop-color="#1c1c1c"/><stop offset=".75" stop-color="#1a1a1a"/><stop offset=".7619" stop-color="#161616"/><stop offset=".7738" stop-color="#131313"/><stop offset=".7857" stop-color="#101010"/><stop offset=".7976" stop-color="#0c0c0c"/><stop offset=".8095" stop-color="#080808"/><stop offset=".8214" stop-color="#040404"/><stop offset=".8333" stop-color="#020202"/><stop offset=".8452" stop-color="#000000"/><stop offset="1" stop-color="#000000"/></linearGradient>
<linearGradient id="r14" x1="0" y1="97.5" x2="0" y2="517.5" gradientUnits="userSpaceOnUse"><stop offset="0" stop-color="#929292"/><stop offset=".0357" stop-color="#929292"/><stop offset=".0476" stop-color="#919191"/><stop offset=".0595" stop-color="#909090"/><stop offset=".0714" stop-color="#8f8f8f"/><stop offset=".0833" stop-color="#8e8e8e"/><stop offset=".0952" stop-color="#8d8d8d"/><stop offset=".1071" stop-color="#8c8c8c"/><stop offset=".119" stop-color="#8b8b8b"/><stop offset=".131" stop-color="#8a8a8a"/><stop offset=".1429" stop-color="#898989"/><stop offset=".1548" stop-color="#888888"/><stop offset=".1667" stop-color="#868686"/><stop offset=".1786" stop-color="#838383"/><stop offset=".1905" stop-color="#818181"/><stop offset=".2024" stop-color="#7f7f7f"/><stop offset=".2143" stop-color="#7d7d7d"/><stop offset=".2262" stop-color="#7b7b7b"/><stop offset=".2381" stop-color="#797979"/><stop offset=".25" stop-color="#767676"/><stop offset=".2619" stop-color="#747474"/><stop offset=".2738" stop-color="#717171"/><stop offset=".2857" stop-color="#6f6f6f"/><stop offset=".2976" stop-color="#6c6c6c"/><stop offset=".3095" stop-color="#6a6a6a"/><stop offset=".3214" stop-color="#686868"/><stop offset=".3333" stop-color="#676767"/><stop offset=".3452" stop-color="#656565"/><stop offset=".3571" stop-color="#646464"/><stop offset=".369" stop-color="#626262"/><stop offset=".381" stop-color="#616161"/><stop offset=".3929" stop-color="#5f5f5f"/><stop offset=".4048" stop-color="#5d5d5d"/><stop offset=".4167" stop-color="#5b5b5b"/><stop offset=".4286" stop-color="#595959"/><stop offset=".4405" stop-color="#585858"/><stop offset=".4524" stop-color="#565656"/><stop offset=".4643" stop-color="#545454"/><stop offset=".4762" stop-color="#525252"/><stop offset=".4881" stop-color="#4f4f4f"/><stop offset=".5" stop-color="#4d4d4d"/><stop offset=".5119" stop-color="#4b4b4b"/><stop offset=".5238" stop-color="#494949"/><stop offset=".5357" stop-color="#474747"/><stop offset=".5476" stop-color="#454545"/><stop offset=".5595" stop-color="#434343"/><stop offset=".5714" stop-color="#404040"/><stop offset=".5833" stop-color="#3e3e3e"/><stop offset=".5952" stop-color="#3c3c3c"/><stop offset=".6071" stop-color="#393939"/><stop offset=".619" stop-color="#373737"/><stop offset=".631" stop-color="#343434"/><stop offset=".6429" stop-color="#323232"/><stop offset=".6548" stop-color="#2f2f2f"/><stop offset=".6667" stop-color="#2d2d2d"/><stop offset=".6786" stop-color="#2a2a2a"/><stop offset=".6905" stop-color="#272727"/><stop offset=".7024" stop-color="#252525"/><stop offset=".7143" stop-color="#222222"/><stop offset=".7262" stop-color="#1f1f1f"/><stop offset=".7381" stop-color="#1d1d1d"/><stop offset=".75" stop-color="#1a1a1a"/><stop offset=".7619" stop-color="#171717"/><stop offset=".7738" stop-color="#131313"/><stop offset=".7857" stop-color="#101010"/><stop offset=".7976" stop-color="#0c0c0c"/><stop offset=".8095" stop-color="#080808"/><stop offset=".8214" stop-color="#050505"/><stop offset=".8333" stop-color="#020202"/><stop offset=".8452" stop-color="#000000"/><stop offset="1" stop-color="#000000"/></linearGradient>
<linearGradient id="r15" x1="0" y1="97.5" x2="0" y2="517.5" gradientUnits="userSpaceOnUse"><stop offset="0" stop-color="#929292"/><stop offset=".0357" stop-color="#929292"/><stop offset=".0476" stop-color="#919191"/><stop offset=".0595" stop-color="#909090"/><stop offset=".0714" stop-color="#8f8f8f"/><stop offset=".0833" stop-color="#8e8e8e"/><stop offset=".0952" stop-color="#8e8e8e"/><stop offset=".1071" stop-color="#8d8d8d"/><stop offset=".119" stop-color="#8c8c8c"/><stop offset=".131" stop-color="#8a8a8a"/><stop offset=".1429" stop-color="#898989"/><stop offset=".1548" stop-color="#888888"/><stop offset=".1667" stop-color="#868686"/><stop offset=".1786" stop-color="#848484"/><stop offset=".1905" stop-color="#818181"/><stop offset=".2024" stop-color="#7f7f7f"/><stop offset=".2143" stop-color="#7d7d7d"/><stop offset=".2262" stop-color="#7b7b7b"/><stop offset=".2381" stop-color="#797979"/><stop offset=".25" stop-color="#777777"/><stop offset=".2619" stop-color="#747474"/><stop offset=".2738" stop-color="#727272"/><stop offset=".2857" stop-color="#6f6f6f"/><stop offset=".2976" stop-color="#6c6c6c"/><stop offset=".3095" stop-color="#6a6a6a"/><stop offset=".3214" stop-color="#686868"/><stop offset=".3333" stop-color="#676767"/><stop offset=".3452" stop-color="#656565"/><stop offset=".3571" stop-color="#646464"/><stop offset=".369" stop-color="#636363"/><stop offset=".381" stop-color="#616161"/><stop offset=".3929" stop-color="#5f5f5f"/><stop offset=".4048" stop-color="#5d5d5d"/><stop offset=".4167" stop-color="#5b5b5b"/><stop offset=".4286" stop-color="#5a5a5a"/><stop offset=".4405" stop-color="#585858"/><stop offset=".4524" stop-color="#565656"/><stop offset=".4643" stop-color="#545454"/><stop offset=".4762" stop-color="#525252"/><stop offset=".4881" stop-color="#505050"/><stop offset=".5" stop-color="#4d4d4d"/><stop offset=".5119" stop-color="#4b4b4b"/><stop offset=".5238" stop-color="#494949"/><stop offset=".5357" stop-color="#474747"/><stop offset=".5476" stop-color="#454545"/><stop offset=".5595" stop-color="#434343"/><stop offset=".5714" stop-color="#404040"/><stop offset=".5833" stop-color="#3e3e3e"/><stop offset=".5952" stop-color="#3c3c3c"/><stop offset=".6071" stop-color="#393939"/><stop offset=".619" stop-color="#373737"/><stop offset=".631" stop-color="#353535"/><stop offset=".6429" stop-color="#323232"/><stop offset=".6548" stop-color="#2f2f2f"/><stop offset=".6667" stop-color="#2d2d2d"/><stop offset=".6786" stop-color="#2a2a2a"/><stop offset=".6905" stop-color="#282828"/><stop offset=".7024" stop-color="#252525"/><stop offset=".7143" stop-color="#222222"/><stop offset=".7262" stop-color="#202020"/><stop offset=".7381" stop-color="#1d1d1d"/><stop offset=".75" stop-color="#1a1a1a"/><stop offset=".7619" stop-color="#171717"/><stop offset=".7738" stop-color="#141414"/><stop offset=".7857" stop-color="#101010"/><stop offset=".7976" stop-color="#0c0c0c"/><stop offset=".8095" stop-color="#090909"/><stop offset=".8214" stop-color="#050505"/><stop offset=".8333" stop-color="#020202"/><stop offset=".8452" stop-color="#000000"/><stop offset="1" stop-color="#000000"/></linearGradient>
<linearGradient id="r16" x1="0" y1="97.5" x2="0" y2="517.5" gradientUnits="userSpaceOnUse"><stop offset="0" stop-color="#929292"/><stop offset=".0357" stop-color="#929292"/><stop offset=".0476" stop-color="#919191"/><stop offset=".0595" stop-color="#909090"/><stop offset=".0714" stop-color="#909090"/><stop offset=".0833" stop-color="#8f8f8f"/><stop offset=".0952" stop-color="#8e8e8e"/><stop offset=".1071" stop-color="#8d8d8d"/><stop offset=".119" stop-color="#8c8c8c"/><stop offset=".131" stop-color="#8b8b8b"/><stop offset=".1429" stop-color="#898989"/><stop offset=".1548" stop-color="#888888"/><stop offset=".1667" stop-color="#868686"/><stop offset=".1786" stop-color="#848484"/><stop offset=".1905" stop-color="#818181"/><stop offset=".2024" stop-color="#7f7f7f"/><stop offset=".2143" stop-color="#7d7d7d"/><stop offset=".2262" stop-color="#7b7b7b"/><stop offset=".2381" stop-color="#797979"/><stop offset=".25" stop-color="#777777"/><stop offset=".2619" stop-color="#757575"/><stop offset=".2738" stop-color="#727272"/><stop offset=".2857" stop-color="#6f6f6f"/><stop offset=".2976" stop-color="#6d6d6d"/><stop offset=".3095" stop-color="#6a6a6a"/><stop offset=".3214" stop-color="#696969"/><stop offset=".3333" stop-color="#676767"/><stop offset=".3452" stop-color="#666666"/><stop offset=".3571" stop-color="#646464"/><stop offset=".369" stop-color="#636363"/><stop offset=".381" stop-color="#616161"/><stop offset=".3929" stop-color="#5f5f5f"/><stop offset=".4048" stop-color="#5d5d5d"/><stop offset=".4167" stop-color="#5c5c5c"/><stop offset=".4286" stop-color="#5a5a5a"/><stop offset=".4405" stop-color="#585858"/><stop offset=".4524" stop-color="#565656"/><stop offset=".4643" stop-color="#545454"/><stop offset=".4762" stop-color="#525252"/><stop offset=".4881" stop-color="#505050"/><stop offset=".5" stop-color="#4e4e4e"/><stop offset=".5119" stop-color="#4b4b4b"/><stop offset=".5238" stop-color="#494949"/><stop offset=".5357" stop-color="#474747"/><stop offset=".5476" stop-color="#454545"/><stop offset=".5595" stop-color="#434343"/><stop offset=".5714" stop-color="#414141"/><stop offset=".5833" stop-color="#3e3e3e"/><stop offset=".5952" stop-color="#3c3c3c"/><stop offset=".6071" stop-color="#3a3a3a"/><stop offset=".619" stop-color="#373737"/><stop offset=".631" stop-color="#353535"/><stop offset=".6429" stop-color="#323232"/><stop offset=".6548" stop-color="#303030"/><stop offset=".6667" stop-color="#2d2d2d"/><stop offset=".6786" stop-color="#2a2a2a"/><stop offset=".6905" stop-color="#282828"/><stop offset=".7024" stop-color="#252525"/><stop offset=".7143" stop-color="#232323"/><stop offset=".7262" stop-color="#202020"/><stop offset=".7381" stop-color="#1d1d1d"/><stop offset=".75" stop-color="#1a1a1a"/><stop offset=".7619" stop-color="#171717"/><stop offset=".7738" stop-color="#141414"/><stop offset=".7857" stop-color="#101010"/><stop offset=".7976" stop-color="#0c0c0c"/><stop offset=".8095" stop-color="#090909"/><stop offset=".8214" stop-color="#050505"/><stop offset=".8333" stop-color="#020202"/><stop offset=".8452" stop-color="#000000"/><stop offset="1" stop-color="#000000"/></linearGradient>
<linearGradient id="r17" x1="0" y1="97.5" x2="0" y2="517.5" gradientUnits="userSpaceOnUse"><stop offset="0" stop-color="#939393"/><stop offset=".0238" stop-color="#939393"/><stop offset=".0357" stop-color="#929292"/><stop offset=".0476" stop-color="#929292"/><stop offset=".0595" stop-color="#919191"/><stop offset=".0714" stop-color="#909090"/><stop offset=".0833" stop-color="#8f8f8f"/><stop offset=".0952" stop-color="#8e8e8e"/><stop offset=".1071" stop-color="#8d8d8d"/><stop offset=".119" stop-color="#8c8c8c"/><stop offset=".131" stop-color="#8b8b8b"/><stop offset=".1429" stop-color="#8a8a8a"/><stop offset=".1548" stop-color="#888888"/><stop offset=".1667" stop-color="#868686"/><stop offset=".1786" stop-color="#848484"/><stop offset=".1905" stop-color="#828282"/><stop offset=".2024" stop-color="#7f7f7f"/><stop offset=".2143" stop-color="#7d7d7d"/><stop offset=".2262" stop-color="#7b7b7b"/><stop offset=".2381" stop-color="#797979"/><stop offset=".25" stop-color="#777777"/><stop offset=".2619" stop-color="#757575"/><stop offset=".2738" stop-color="#727272"/><stop offset=".2857" stop-color="#6f6f6f"/><stop offset=".2976" stop-color="#6d6d6d"/><stop offset=".3095" stop-color="#6b6b6b"/><stop offset=".3214" stop-color="#696969"/><stop offset=".3333" stop-color="#676767"/><stop offset=".3452" stop-color="#666666"/><stop offset=".3571" stop-color="#646464"/><stop offset=".369" stop-color="#636363"/><stop offset=".381" stop-color="#616161"/><stop offset=".3929" stop-color="#5f5f5f"/><stop offset=".4048" stop-color="#5d5d5d"/><stop offset=".4167" stop-color="#5c5c5c"/><stop offset=".4286" stop-color="#5a5a5a"/><stop offset=".4405" stop-color="#585858"/><stop offset=".4524" stop-color="#565656"/><stop offset=".4643" stop-color="#545454"/><stop offset=".4762" stop-color="#525252"/><stop offset=".4881" stop-color="#505050"/><stop offset=".5" stop-color="#4e4e4e"/><stop offset=".5119" stop-color="#4c4c4c"/><stop offset=".5238" stop-color="#494949"/><stop offset=".5357" stop-color="#474747"/><stop offset=".5476" stop-color="#454545"/><stop offset=".5595" stop-color="#434343"/><stop offset=".5714" stop-color="#414141"/><stop offset=".5833" stop-color="#3e3e3e"/><stop offset=".5952" stop-color="#3c3c3c"/><stop offset=".6071" stop-color="#3a3a3a"/><stop offset=".619" stop-color="#373737"/><stop offset=".631" stop-color="#353535"/><stop offset=".6429" stop-color="#323232"/><stop offset=".6548" stop-color="#303030"/><stop offset=".6667" stop-color="#2d2d2d"/><stop offset=".6786" stop-color="#2b2b2b"/><stop offset=".6905" stop-color="#282828"/><stop offset=".7024" stop-color="#252525"/><stop offset=".7143" stop-color="#232323"/><stop offset=".7262" stop-color="#202020"/><stop offset=".7381" stop-color="#1d1d1d"/><stop offset=".75" stop-color="#1a1a1a"/><stop offset=".7619" stop-color="#171717"/><stop offset=".7738" stop-color="#141414"/><stop offset=".7857" stop-color="#101010"/><stop offset=".7976" stop-color="#0d0d0d"/><stop offset=".8095" stop-color="#090909"/><stop offset=".8214" stop-color="#050505"/><stop offset=".8333" stop-color="#020202"/><stop offset=".8452" stop-color="#000000"/><stop offset="1" stop-color="#000000"/></linearGradient>
<linearGradient id="r18" x1="0" y1="97.5" x2="0" y2="517.5" gradientUnits="userSpaceOnUse"><stop offset="0" stop-color="#939393"/><stop offset=".0357" stop-color="#939393"/><stop offset=".0476" stop-color="#929292"/><stop offset=".0595" stop-color="#919191"/><stop offset=".0714" stop-color="#909090"/><stop offset=".0833" stop-color="#8f8f8f"/><stop offset=".0952" stop-color="#8e8e8e"/><stop offset=".1071" stop-color="#8d8d8d"/><stop offset=".119" stop-color="#8c8c8c"/><stop offset=".131" stop-color="#8b8b8b"/><stop offset=".1429" stop-color="#8a8a8a"/><stop offset=".1548" stop-color="#888888"/><stop offset=".1667" stop-color="#878787"/><stop offset=".1786" stop-color="#848484"/><stop offset=".1905" stop-color="#828282"/><stop offset=".2024" stop-color="#808080"/><stop offset=".2143" stop-color="#7e7e7e"/><stop offset=".2262" stop-color="#7c7c7c"/><stop offset=".2381" stop-color="#7a7a7a"/><stop offset=".25" stop-color="#777777"/><stop offset=".2619" stop-color="#757575"/><stop offset=".2738" stop-color="#727272"/><stop offset=".2857" stop-color="#707070"/><stop offset=".2976" stop-color="#6d6d6d"/><stop offset=".3095" stop-color="#6b6b6b"/><stop offset=".3214" stop-color="#696969"/><stop offset=".3333" stop-color="#676767"/><stop offset=".3452" stop-color="#666666"/><stop offset=".3571" stop-color="#646464"/><stop offset=".369" stop-color="#636363"/><stop offset=".381" stop-color="#616161"/><stop offset=".3929" stop-color="#5f5f5f"/><stop offset=".4048" stop-color="#5e5e5e"/><stop offset=".4167" stop-color="#5c5c5c"/><stop offset=".4286" stop-color="#5a5a5a"/><stop offset=".4405" stop-color="#585858"/><stop offset=".4524" stop-color="#565656"/><stop offset=".4643" stop-color="#545454"/><stop offset=".4762" stop-color="#525252"/><stop offset=".4881" stop-color="#505050"/><stop offset=".5" stop-color="#4e4e4e"/><stop offset=".5119" stop-color="#4c4c4c"/><stop offset=".5238" stop-color="#4a4a4a"/><stop offset=".5357" stop-color="#474747"/><stop offset=".5476" stop-color="#454545"/><stop offset=".5595" stop-color="#434343"/><stop offset=".5714" stop-color="#414141"/><stop offset=".5833" stop-color="#3f3f3f"/><stop offset=".5952" stop-color="#3c3c3c"/><stop offset=".6071" stop-color="#3a3a3a"/><stop offset=".619" stop-color="#373737"/><stop offset=".631" stop-color="#353535"/><stop offset=".6429" stop-color="#333333"/><stop offset=".6548" stop-color="#303030"/><stop offset=".6667" stop-color="#2d2d2d"/><stop offset=".6786" stop-color="#2b2b2b"/><stop offset=".6905" stop-color="#282828"/><stop offset=".7024" stop-color="#262626"/><stop offset=".7143" stop-color="#232323"/><stop offset=".7262" stop-color="#202020"/><stop offset=".7381" stop-color="#1e1e1e"/><stop offset=".75" stop-color="#1b1b1b"/><stop offset=".7619" stop-color="#171717"/><stop offset=".7738" stop-color="#141414"/><stop offset=".7857" stop-color="#101010"/><stop offset=".7976" stop-color="#0d0d0d"/><stop offset=".8095" stop-color="#090909"/><stop offset=".8214" stop-color="#050505"/><stop offset=".8333" stop-color="#020202"/><stop offset=".8452" stop-color="#000000"/><stop offset="1" stop-color="#000000"/></linearGradient>
<linearGradient id="r19" x1="0" y1="97.5" x2="0" y2="517.5" gradientUnits="userSpaceOnUse"><stop offset="0" stop-color="#939393"/><stop offset=".0357" stop-color="#939393"/><stop offset=".0476" stop-color="#929292"/><stop offset=".0595" stop-color="#919191"/><stop offset=".0714" stop-color="#909090"/><stop offset=".0833" stop-color="#8f8f8f"/><stop offset=".0952" stop-color="#8e8e8e"/><stop offset=".1071" stop-color="#8d8d8d"/><stop offset=".119" stop-color="#8c8c8c"/><stop offset=".131" stop-color="#8b8b8b"/><stop offset=".1429" stop-color="#8a8a8a"/><stop offset=".1548" stop-color="#898989"/><stop offset=".1667" stop-color="#878787"/><stop offset=".1786" stop-color="#858585"/><stop offset=".1905" stop-color="#828282"/><stop offset=".2024" stop-color="#808080"/><stop offset=".2143" stop-color="#7e7e7e"/><stop offset=".2262" stop-color="#7c7c7c"/><stop offset=".2381" stop-color="#7a7a7a"/><stop offset=".25" stop-color="#787878"/><stop offset=".2619" stop-color="#757575"/><stop offset=".2738" stop-color="#737373"/><stop offset=".2857" stop-color="#707070"/><stop offset=".2976" stop-color="#6d6d6d"/><stop offset=".3095" stop-color="#6b6b6b"/><stop offset=".3214" stop-color="#696969"/><stop offset=".3333" stop-color="#676767"/><stop offset=".3452" stop-color="#666666"/><stop offset=".3571" stop-color="#646464"/><stop offset=".369" stop-color="#636363"/><stop offset=".381" stop-color="#616161"/><stop offset=".3929" stop-color="#606060"/><stop offset=".4048" stop-color="#5e5e5e"/><stop offset=".4167" stop-color="#5c5c5c"/><stop offset=".4286" stop-color="#5a5a5a"/><stop offset=".4405" stop-color="#585858"/><stop offset=".4524" stop-color="#565656"/><stop offset=".4643" stop-color="#545454"/><stop offset=".4762" stop-color="#525252"/><stop offset=".4881" stop-color="#505050"/><stop offset=".5" stop-color="#4e4e4e"/><stop offset=".5119" stop-color="#4c4c4c"/><stop offset=".5238" stop-color="#4a4a4a"/><stop offset=".5357" stop-color="#484848"/><stop offset=".5476" stop-color="#454545"/><stop offset=".5595" stop-color="#434343"/><stop offset=".5714" stop-color="#414141"/><stop offset=".5833" stop-color="#3f3f3f"/><stop offset=".5952" stop-color="#3c3c3c"/><stop offset=".6071" stop-color="#3a3a3a"/><stop offset=".619" stop-color="#383838"/><stop offset=".631" stop-color="#353535"/><stop offset=".6429" stop-color="#333333"/><stop offset=".6548" stop-color="#303030"/><stop offset=".6667" stop-color="#2e2e2e"/><stop offset=".6786" stop-color="#2b2b2b"/><stop offset=".6905" stop-color="#292929"/><stop offset=".7024" stop-color="#262626"/><stop offset=".7143" stop-color="#232323"/><stop offset=".7262" stop-color="#212121"/><stop offset=".7381" stop-color="#1e1e1e"/><stop offset=".75" stop-color="#1b1b1b"/><stop offset=".7619" stop-color="#181818"/><stop offset=".7738" stop-color="#141414"/><stop offset=".7857" stop-color="#111111"/><stop offset=".7976" stop-color="#0d0d0d"/><stop offset=".8095" stop-color="#090909"/><stop offset=".8214" stop-color="#050505"/><stop offset=".8333" stop-color="#020202"/><stop offset=".8452" stop-color="#000000"/><stop offset="1" stop-color="#000000"/></linearGradient>
<linearGradient id="r20" x1="0" y1="97.5" x2="0" y2="517.5" gradientUnits="userSpaceOnUse"><stop offset="0" stop-color="#949494"/><stop offset=".0357" stop-color="#949494"/><stop offset=".0476" stop-color="#939393"/><stop offset=".0595" stop-color="#929292"/><stop offset=".0714" stop-color="#919191"/><stop offset=".0833" stop-color="#909090"/><stop offset=".0952" stop-color="#8f8f8f"/><stop offset=".1071" stop-color="#8e8e8e"/><stop offset=".119" stop-color="#8c8c8c"/><stop offset=".131" stop-color="#8b8b8b"/><stop offset=".1429" stop-color="#8a8a8a"/><stop offset=".1548" stop-color="#898989"/><stop offset=".1667" stop-color="#878787"/><stop offset=".1786" stop-color="#858585"/><stop offset=".1905" stop-color="#838383"/><stop offset=".2024" stop-color="#808080"/><stop offset=".2143" stop-color="#7e7e7e"/><stop offset=".2262" stop-color="#7c7c7c"/><stop offset=".2381" stop-color="#7a7a7a"/><stop offset=".25" stop-color="#787878"/><stop offset=".2619" stop-color="#757575"/><stop offset=".2738" stop-color="#737373"/><stop offset=".2857" stop-color="#707070"/><stop offset=".2976" stop-color="#6e6e6e"/><stop offset=".3095" stop-color="#6b6b6b"/><stop offset=".3214" stop-color="#696969"/><stop offset=".3333" stop-color="#676767"/><stop offset=".3452" stop-color="#666666"/><stop offset=".3571" stop-color="#656565"/><stop offset=".369" stop-color="#636363"/><stop offset=".381" stop-color="#616161"/><stop offset=".3929" stop-color="#606060"/><stop offset=".4048" stop-color="#5e5e5e"/><stop offset=".4167" stop-color="#5c5c5c"/><stop offset=".4286" stop-color="#5a5a5a"/><stop offset=".4405" stop-color="#585858"/><stop offset=".4524" stop-color="#565656"/><stop offset=".4643" stop-color="#545454"/><stop offset=".4762" stop-color="#525252"/><stop offset=".4881" stop-color="#505050"/><stop offset=".5" stop-color="#4e4e4e"/><stop offset=".5119" stop-color="#4c4c4c"/><stop offset=".5238" stop-color="#4a4a4a"/><stop offset=".5357" stop-color="#484848"/><stop offset=".5476" stop-color="#454545"/><stop offset=".5595" stop-color="#434343"/><stop offset=".5714" stop-color="#414141"/><stop offset=".5833" stop-color="#3f3f3f"/><stop offset=".5952" stop-color="#3d3d3d"/><stop offset=".6071" stop-color="#3a3a3a"/><stop offset=".619" stop-color="#383838"/><stop offset=".631" stop-color="#353535"/><stop offset=".6429" stop-color="#333333"/><stop offset=".6548" stop-color="#303030"/><stop offset=".6667" stop-color="#2e2e2e"/><stop offset=".6786" stop-color="#2b2b2b"/><stop offset=".6905" stop-color="#292929"/><stop offset=".7024" stop-color="#262626"/><stop offset=".7143" stop-color="#242424"/><stop offset=".7262" stop-color="#212121"/><stop offset=".7381" stop-color="#1e1e1e"/><stop offset=".75" stop-color="#1b1b1b"/><stop offset=".7619" stop-color="#181818"/><stop offset=".7738" stop-color="#141414"/><stop offset=".7857" stop-color="#111111"/><stop offset=".7976" stop-color="#0d0d0d"/><stop offset=".8095" stop-color="#090909"/><stop offset=".8214" stop-color="#060606"/><stop offset=".8333" stop-color="#020202"/><stop offset=".8452" stop-color="#000000"/><stop offset="1" stop-color="#000000"/></linearGradient>
<linearGradient id="r21" x1="0" y1="97.5" x2="0" y2="517.5" gradientUnits="userSpaceOnUse"><stop offset="0" stop-color="#959595"/><stop offset=".0238" stop-color="#959595"/><stop offset=".0357" stop-color="#949494"/><stop offset=".0476" stop-color="#949494"/><stop offset=".0595" stop-color="#939393"/><stop offset=".0714" stop-color="#929292"/><stop offset=".0833" stop-color="#909090"/><stop offset=".0952" stop-color="#8f8f8f"/><stop offset=".1071" stop-color="#8e8e8e"/><stop offset=".119" stop-color="#8d8d8d"/><stop offset=".131" stop-color="#8b8b8b"/><stop offset=".1429" stop-color="#8a8a8a"/><stop offset=".1548" stop-color="#898989"/><stop offset=".1667" stop-color="#878787"/><stop offset=".1786" stop-color="#858585"/><stop offset=".1905" stop-color="#838383"/><stop offset=".2024" stop-color="#818181"/><stop offset=".2143" stop-color="#7e7e7e"/><stop offset=".2262" stop-color="#7c7c7c"/><stop offset=".2381" stop-color="#7a7a7a"/><stop offset=".25" stop-color="#787878"/><stop offset=".2619" stop-color="#767676"/><stop offset=".2738" stop-color="#737373"/><stop offset=".2857" stop-color="#707070"/><stop offset=".2976" stop-color="#6e6e6e"/><stop offset=".3095" stop-color="#6b6b6b"/><stop offset=".3214" stop-color="#696969"/><stop offset=".3333" stop-color="#686868"/><stop offset=".3452" stop-color="#666666"/><stop offset=".3571" stop-color="#656565"/><stop offset=".369" stop-color="#636363"/><stop offset=".381" stop-color="#616161"/><stop offset=".3929" stop-color="#606060"/><stop offset=".4048" stop-color="#5e5e5e"/><stop offset=".4167" stop-color="#5c5c5c"/><stop offset=".4286" stop-color="#5a5a5a"/><stop offset=".4405" stop-color="#585858"/><stop offset=".4524" stop-color="#565656"/><stop offset=".4643" stop-color="#545454"/><stop offset=".4762" stop-color="#525252"/><stop offset=".4881" stop-color="#505050"/><stop offset=".5" stop-color="#4e4e4e"/><stop offset=".5119" stop-color="#4c4c4c"/><stop offset=".5238" stop-color="#4a4a4a"/><stop offset=".5357" stop-color="#484848"/><stop offset=".5476" stop-color="#464646"/><stop offset=".5595" stop-color="#434343"/><stop offset=".5714" stop-color="#414141"/><stop offset=".5833" stop-color="#3f3f3f"/><stop offset=".5952" stop-color="#3d3d3d"/><stop offset=".6071" stop-color="#3a3a3a"/><stop offset=".619" stop-color="#383838"/><stop offset=".631" stop-color="#363636"/><stop offset=".6429" stop-color="#333333"/><stop offset=".6548" stop-color="#313131"/><stop offset=".6667" stop-color="#2e2e2e"/><stop offset=".6786" stop-color="#2c2c2c"/><stop offset=".6905" stop-color="#292929"/><stop offset=".7024" stop-color="#272727"/><stop offset=".7143" stop-color="#242424"/><stop offset=".7262" stop-color="#212121"/><stop offset=".7381" stop-color="#1f1f1f"/><stop offset=".75" stop-color="#1b1b1b"/><stop offset=".7619" stop-color="#181818"/><stop offset=".7738" stop-color="#151515"/><stop offset=".7857" stop-color="#111111"/><stop offset=".7976" stop-color="#0d0d0d"/><stop offset=".8095" stop-color="#0a0a0a"/><stop offset=".8214" stop-color="#060606"/><stop offset=".8333" stop-color="#020202"/><stop offset=".8452" stop-color="#000000"/><stop offset="1" stop-color="#000000"/></linearGradient>
<linearGradient id="r22" x1="0" y1="97.5" x2="0" y2="517.5" gradientUnits="userSpaceOnUse"><stop offset="0" stop-color="#959595"/><stop offset=".0357" stop-color="#959595"/><stop offset=".0476" stop-color="#949494"/><stop offset=".0595" stop-color="#939393"/><stop offset=".0714" stop-color="#929292"/><stop offset=".0833" stop-color="#919191"/><stop offset=".0952" stop-color="#909090"/><stop offset=".1071" stop-color="#8f8f8f"/><stop offset=".119" stop-color="#8d8d8d"/><stop offset=".131" stop-color="#8c8c8c"/><stop offset=".1429" stop-color="#8b8b8b"/><stop offset=".1548" stop-color="#898989"/><stop offset=".1667" stop-color="#878787"/><stop offset=".1786" stop-color="#858585"/><stop offset=".1905" stop-color="#838383"/><stop offset=".2024" stop-color="#818181"/><stop offset=".2143" stop-color="#7f7f7f"/><stop offset=".2262" stop-color="#7d7d7d"/><stop offset=".2381" stop-color="#7b7b7b"/><stop offset=".25" stop-color="#787878"/><stop offset=".2619" stop-color="#767676"/><stop offset=".2738" stop-color="#737373"/><stop offset=".2857" stop-color="#717171"/><stop offset=".2976" stop-color="#6e6e6e"/><stop offset=".3095" stop-color="#6c6c6c"/><stop offset=".3214" stop-color="#696969"/><stop offset=".3333" stop-color="#686868"/><stop offset=".3452" stop-color="#666666"/><stop offset=".3571" stop-color="#656565"/><stop offset=".369" stop-color="#636363"/><stop offset=".381" stop-color="#626262"/><stop offset=".3929" stop-color="#606060"/><stop offset=".4048" stop-color="#5e5e5e"/><stop offset=".4167" stop-color="#5c5c5c"/><stop offset=".4286" stop-color="#5a5a5a"/><stop offset=".4405" stop-color="#585858"/><stop offset=".4524" stop-color="#565656"/><stop offset=".4643" stop-color="#545454"/><stop offset=".4762" stop-color="#525252"/><stop offset=".4881" stop-color="#505050"/><stop offset=".5" stop-color="#4e4e4e"/><stop offset=".5119" stop-color="#4c4c4c"/><stop offset=".5238" stop-color="#4a4a4a"/><stop offset=".5357" stop-color="#484848"/><stop offset=".5476" stop-color="#464646"/><stop offset=".5595" stop-color="#444444"/><stop offset=".5714" stop-color="#414141"/><stop offset=".5833" stop-color="#3f3f3f"/><stop offset=".5952" stop-color="#3d3d3d"/><stop offset=".6071" stop-color="#3b3b3b"/><stop offset=".619" stop-color="#383838"/><stop offset=".631" stop-color="#363636"/><stop offset=".6429" stop-color="#343434"/><stop offset=".6548" stop-color="#313131"/><stop offset=".6667" stop-color="#2f2f2f"/><stop offset=".6786" stop-color="#2c2c2c"/><stop offset=".6905" stop-color="#2a2a2a"/><stop offset=".7024" stop-color="#272727"/><stop offset=".7143" stop-color="#252525"/><stop offset=".7262" stop-color="#222222"/><stop offset=".7381" stop-color="#1f1f1f"/><stop offset=".75" stop-color="#1c1c1c"/><stop offset=".7619" stop-color="#181818"/><stop offset=".7738" stop-color="#151515"/><stop offset=".7857" stop-color="#111111"/><stop offset=".7976" stop-color="#0d0d0d"/><stop offset=".8095" stop-color="#0a0a0a"/><stop offset=".8214" stop-color="#060606"/><stop offset=".8333" stop-color="#030303"/><stop offset=".8452" stop-color="#000000"/><stop offset="1" stop-color="#000000"/></linearGradient>
<linearGradient id="r23" x1="0" y1="97.5" x2="0" y2="517.5" gradientUnits="userSpaceOnUse"><stop offset="0" stop-color="#969696"/><stop offset=".0357" stop-color="#969696"/><stop offset=".0476" stop-color="#959595"/><stop offset=".0595" stop-color="#949494"/><stop offset=".0714" stop-color="#939393"/><stop offset=".0833" stop-color="#929292"/><stop offset=".0952" stop-color="#909090"/><stop offset=".1071" stop-color="#8f8f8f"/><stop offset=".119" stop-color="#8e8e8e"/><stop offset=".131" stop-color="#8c8c8c"/><stop offset=".1429" stop-color="#8b8b8b"/><stop offset=".1548" stop-color="#898989"/><stop offset=".1667" stop-color="#888888"/><stop offset=".1786" stop-color="#868686"/><stop offset=".1905" stop-color="#838383"/><stop offset=".2024" stop-color="#818181"/><stop offset=".2143" stop-color="#7f7f7f"/><stop offset=".2262" stop-color="#7d7d7d"/><stop offset=".2381" stop-color="#7b7b7b"/><stop offset=".25" stop-color="#797979"/><stop offset=".2619" stop-color="#767676"/><stop offset=".2738" stop-color="#747474"/><stop offset=".2857" stop-color="#717171"/><stop offset=".2976" stop-color="#6e6e6e"/><stop offset=".3095" stop-color="#6c6c6c"/><stop offset=".3214" stop-color="#6a6a6a"/><stop offset=".3333" stop-color="#686868"/><stop offset=".3452" stop-color="#666666"/><stop offset=".3571" stop-color="#656565"/><stop offset=".369" stop-color="#636363"/><stop offset=".381" stop-color="#626262"/><stop offset=".3929" stop-color="#606060"/><stop offset=".4048" stop-color="#5e5e5e"/><stop offset=".4167" stop-color="#5c5c5c"/><stop offset=".4286" stop-color="#5a5a5a"/><stop offset=".4405" stop-color="#595959"/><stop offset=".4524" stop-color="#575757"/><stop offset=".4643" stop-color="#555555"/><stop offset=".4762" stop-color="#535353"/><stop offset=".4881" stop-color="#505050"/><stop offset=".5" stop-color="#4e4e4e"/><stop offset=".5119" stop-color="#4c4c4c"/><stop offset=".5238" stop-color="#4a4a4a"/><stop offset=".5357" stop-color="#484848"/><stop offset=".5476" stop-color="#464646"/><stop offset=".5595" stop-color="#444444"/><stop offset=".5714" stop-color="#414141"/><stop offset=".5833" stop-color="#3f3f3f"/><stop offset=".5952" stop-color="#3d3d3d"/><stop offset=".6071" stop-color="#3b3b3b"/><stop offset=".619" stop-color="#383838"/><stop offset=".631" stop-color="#363636"/><stop offset=".6429" stop-color="#343434"/><stop offset=".6548" stop-color="#313131"/><stop offset=".6667" stop-color="#2f2f2f"/><stop offset=".6786" stop-color="#2d2d2d"/><stop offset=".6905" stop-color="#2a2a2a"/><stop offset=".7024" stop-color="#282828"/><stop offset=".7143" stop-color="#252525"/><stop offset=".7262" stop-color="#222222"/><stop offset=".7381" stop-color="#202020"/><stop offset=".75" stop-color="#1c1c1c"/><stop offset=".7619" stop-color="#191919"/><stop offset=".7738" stop-color="#151515"/><stop offset=".7857" stop-color="#111111"/><stop offset=".7976" stop-color="#0e0e0e"/><stop offset=".8095" stop-color="#0a0a0a"/><stop offset=".8214" stop-color="#060606"/><stop offset=".8333" stop-color="#030303"/><stop offset=".8452" stop-color="#000000"/><stop offset="1" stop-color="#000000"/></linearGradient>
<linearGradient id="r24" x1="0" y1="97.5" x2="0" y2="517.5" gradientUnits="userSpaceOnUse"><stop offset="0" stop-color="#979797"/><stop offset=".0357" stop-color="#979797"/><stop offset=".0476" stop-color="#969696"/><stop offset=".0595" stop-color="#959595"/><stop offset=".0714" stop-color="#949494"/><stop offset=".0833" stop-color="#929292"/><stop offset=".0952" stop-color="#919191"/><stop offset=".1071" stop-color="#909090"/><stop offset=".119" stop-color="#8e8e8e"/><stop offset=".131" stop-color="#8d8d8d"/><stop offset=".1429" stop-color="#8b8b8b"/><stop offset=".1548" stop-color="#8a8a8a"/><stop offset=".1667" stop-color="#888888"/><stop offset=".1786" stop-color="#868686"/><stop offset=".1905" stop-color="#848484"/><stop offset=".2024" stop-color="#818181"/><stop offset=".2143" stop-color="#7f7f7f"/><stop offset=".2262" stop-color="#7d7d7d"/><stop offset=".2381" stop-color="#7b7b7b"/><stop offset=".25" stop-color="#797979"/><stop offset=".2619" stop-color="#767676"/><stop offset=".2738" stop-color="#747474"/><stop offset=".2857" stop-color="#717171"/><stop offset=".2976" stop-color="#6e6e6e"/><stop offset=".3095" stop-color="#6c6c6c"/><stop offset=".3214" stop-color="#6a6a6a"/><stop offset=".3333" stop-color="#686868"/><stop offset=".3452" stop-color="#666666"/><stop offset=".3571" stop-color="#656565"/><stop offset=".369" stop-color="#636363"/><stop offset=".381" stop-color="#626262"/><stop offset=".3929" stop-color="#606060"/><stop offset=".4048" stop-color="#5e5e5e"/><stop offset=".4167" stop-color="#5c5c5c"/><stop offset=".4286" stop-color="#5b5b5b"/><stop offset=".4405" stop-color="#595959"/><stop offset=".4524" stop-color="#575757"/><stop offset=".4643" stop-color="#555555"/><stop offset=".4762" stop-color="#535353"/><stop offset=".4881" stop-color="#515151"/><stop offset=".5" stop-color="#4e4e4e"/><stop offset=".5119" stop-color="#4c4c4c"/><stop offset=".5238" stop-color="#4a4a4a"/><stop offset=".5357" stop-color="#484848"/><stop offset=".5476" stop-color="#464646"/><stop offset=".5595" stop-color="#444444"/><stop offset=".5714" stop-color="#424242"/><stop offset=".5833" stop-color="#3f3f3f"/><stop offset=".5952" stop-color="#3d3d3d"/><stop offset=".6071" stop-color="#3b3b3b"/><stop offset=".619" stop-color="#393939"/><stop offset=".631" stop-color="#363636"/><stop offset=".6429" stop-color="#343434"/><stop offset=".6548" stop-color="#323232"/><stop offset=".6667" stop-color="#2f2f2f"/><stop offset=".6786" stop-color="#2d2d2d"/><stop offset=".6905" stop-color="#2b2b2b"/><stop offset=".7024" stop-color="#282828"/><stop offset=".7143" stop-color="#262626"/><stop offset=".7262" stop-color="#232323"/><stop offset=".7381" stop-color="#202020"/><stop offset=".75" stop-color="#1d1d1d"/><stop offset=".7619" stop-color="#191919"/><stop offset=".7738" stop-color="#151515"/><stop offset=".7857" stop-color="#121212"/><stop offset=".7976" stop-color="#0e0e0e"/><stop offset=".8095" stop-color="#0a0a0a"/><stop offset=".8214" stop-color="#060606"/><stop offset=".8333" stop-color="#030303"/><stop offset=".8452" stop-color="#000000"/><stop offset="1" stop-color="#000000"/></linearGradient>
<linearGradient id="r25" x1="0" y1="97.5" x2="0" y2="517.5" gradientUnits="userSpaceOnUse"><stop offset="0" stop-color="#989898"/><stop offset=".0357" stop-color="#989898"/><stop offset=".0476" stop-color="#979797"/><stop offset=".0595" stop-color="#969696"/><stop offset=".0714" stop-color="#959595"/><stop offset=".0833" stop-color="#939393"/><stop offset=".0952" stop-color="#929292"/><stop offset=".1071" stop-color="#909090"/><stop offset=".119" stop-color="#8f8f8f"/><stop offset=".131" stop-color="#8d8d8d"/><stop offset=".1429" stop-color="#8c8c8c"/><stop offset=".1548" stop-color="#8a8a8a"/><stop offset=".1667" stop-color="#898989"/><stop offset=".1786" stop-color="#868686"/><stop offset=".1905" stop-color="#848484"/><stop offset=".2024" stop-color="#828282"/><stop offset=".2143" stop-color="#7f7f7f"/><stop offset=".2262" stop-color="#7d7d7d"/><stop offset=".2381" stop-color="#7b7b7b"/><stop offset=".25" stop-color="#797979"/><stop offset=".2619" stop-color="#777777"/><stop offset=".2738" stop-color="#747474"/><stop offset=".2857" stop-color="#727272"/><stop offset=".2976" stop-color="#6f6f6f"/><stop offset=".3095" stop-color="#6c6c6c"/><stop offset=".3214" stop-color="#6a6a6a"/><stop offset=".3333" stop-color="#686868"/><stop offset=".3452" stop-color="#676767"/><stop offset=".3571" stop-color="#656565"/><stop offset=".369" stop-color="#646464"/><stop offset=".381" stop-color="#626262"/><stop offset=".3929" stop-color="#606060"/><stop offset=".4048" stop-color="#5e5e5e"/><stop offset=".4167" stop-color="#5d5d5d"/><stop offset=".4286" stop-color="#5b5b5b"/><stop offset=".4405" stop-color="#595959"/><stop offset=".4524" stop-color="#575757"/><stop offset=".4643" stop-color="#555555"/><stop offset=".4762" stop-color="#535353"/><stop offset=".4881" stop-color="#515151"/><stop offset=".5" stop-color="#4f4f4f"/><stop offset=".5119" stop-color="#4c4c4c"/><stop offset=".5238" stop-color="#4a4a4a"/><stop offset=".5357" stop-color="#484848"/><stop offset=".5476" stop-color="#464646"/><stop offset=".5595" stop-color="#444444"/><stop offset=".5714" stop-color="#424242"/><stop offset=".5833" stop-color="#404040"/><stop offset=".5952" stop-color="#3d3d3d"/><stop offset=".6071" stop-color="#3b3b3b"/><stop offset=".619" stop-color="#393939"/><stop offset=".631" stop-color="#373737"/><stop offset=".6429" stop-color="#343434"/><stop offset=".6548" stop-color="#323232"/><stop offset=".6667" stop-color="#303030"/><stop offset=".6786" stop-color="#2e2e2e"/><stop offset=".6905" stop-color="#2b2b2b"/><stop offset=".7024" stop-color="#292929"/><stop offset=".7143" stop-color="#262626"/><stop offset=".7262" stop-color="#242424"/><stop offset=".7381" stop-color="#212121"/><stop offset=".75" stop-color="#1d1d1d"/><stop offset=".7619" stop-color="#1a1a1a"/><stop offset=".7738" stop-color="#161616"/><stop offset=".7857" stop-color="#121212"/><stop offset=".7976" stop-color="#0e0e0e"/><stop offset=".8095" stop-color="#0a0a0a"/><stop offset=".8214" stop-color="#060606"/><stop offset=".8333" stop-color="#030303"/><stop offset=".8452" stop-color="#010101"/><stop offset=".8571" stop-color="#000000"/><stop offset="1" stop-color="#000000"/></linearGradient>
<linearGradient id="r26" x1="0" y1="97.5" x2="0" y2="517.5" gradientUnits="userSpaceOnUse"><stop offset="0" stop-color="#9a9a9a"/><stop offset=".0357" stop-color="#9a9a9a"/><stop offset=".0476" stop-color="#999999"/><stop offset=".0595" stop-color="#979797"/><stop offset=".0714" stop-color="#969696"/><stop offset=".0833" stop-color="#959595"/><stop offset=".0952" stop-color="#939393"/><stop offset=".1071" stop-color="#919191"/><stop offset=".119" stop-color="#909090"/><stop offset=".131" stop-color="#8e8e8e"/><stop offset=".1429" stop-color="#8d8d8d"/><stop offset=".1548" stop-color="#8b8b8b"/><stop offset=".1667" stop-color="#898989"/><stop offset=".1786" stop-color="#878787"/><stop offset=".1905" stop-color="#848484"/><stop offset=".2024" stop-color="#828282"/><stop offset=".2143" stop-color="#808080"/><stop offset=".2262" stop-color="#7e7e7e"/><stop offset=".2381" stop-color="#7b7b7b"/><stop offset=".25" stop-color="#797979"/><stop offset=".2619" stop-color="#777777"/><stop offset=".2738" stop-color="#747474"/><stop offset=".2857" stop-color="#727272"/><stop offset=".2976" stop-color="#6f6f6f"/><stop offset=".3095" stop-color="#6c6c6c"/><stop offset=".3214" stop-color="#6a6a6a"/><stop offset=".3333" stop-color="#686868"/><stop offset=".3452" stop-color="#676767"/><stop offset=".3571" stop-color="#656565"/><stop offset=".369" stop-color="#646464"/><stop offset=".381" stop-color="#626262"/><stop offset=".3929" stop-color="#606060"/><stop offset=".4048" stop-color="#5f5f5f"/><stop offset=".4167" stop-color="#5d5d5d"/><stop offset=".4286" stop-color="#5b5b5b"/><stop offset=".4405" stop-color="#595959"/><stop offset=".4524" stop-color="#575757"/><stop offset=".4643" stop-color="#555555"/><stop offset=".4762" stop-color="#535353"/><stop offset=".4881" stop-color="#515151"/><stop offset=".5" stop-color="#4f4f4f"/><stop offset=".5119" stop-color="#4d4d4d"/><stop offset=".5238" stop-color="#4a4a4a"/><stop offset=".5357" stop-color="#484848"/><stop offset=".5476" stop-color="#464646"/><stop offset=".5595" stop-color="#444444"/><stop offset=".5714" stop-color="#424242"/><stop offset=".5833" stop-color="#404040"/><stop offset=".5952" stop-color="#3e3e3e"/><stop offset=".6071" stop-color="#3b3b3b"/><stop offset=".619" stop-color="#393939"/><stop offset=".631" stop-color="#373737"/><stop offset=".6429" stop-color="#353535"/><stop offset=".6548" stop-color="#333333"/><stop offset=".6667" stop-color="#303030"/><stop offset=".6786" stop-color="#2e2e2e"/><stop offset=".6905" stop-color="#2c2c2c"/><stop offset=".7024" stop-color="#292929"/><stop offset=".7143" stop-color="#272727"/><stop offset=".7262" stop-color="#252525"/><stop offset=".7381" stop-color="#222222"/><stop offset=".75" stop-color="#1e1e1e"/><stop offset=".7619" stop-color="#1a1a1a"/><stop offset=".7738" stop-color="#161616"/><stop offset=".7857" stop-color="#121212"/><stop offset=".7976" stop-color="#0e0e0e"/><stop offset=".8095" stop-color="#0a0a0a"/><stop offset=".8214" stop-color="#070707"/><stop offset=".8333" stop-color="#030303"/><stop offset=".8452" stop-color="#010101"/><stop offset=".8571" stop-color="#000000"/><stop offset="1" stop-color="#000000"/></linearGradient>
<linearGradient id="r27" x1="0" y1="97.5" x2="0" y2="517.5" gradientUnits="userSpaceOnUse"><stop offset="0" stop-color="#9b9b9b"/><stop offset=".0357" stop-color="#9b9b9b"/><stop offset=".0476" stop-color="#9a9a9a"/><stop offset=".0595" stop-color="#999999"/><stop offset=".0714" stop-color="#979797"/><stop offset=".0833" stop-color="#969696"/><stop offset=".0952" stop-color="#949494"/><stop offset=".1071" stop-color="#929292"/><stop offset=".119" stop-color="#909090"/><stop offset=".131" stop-color="#8f8f8f"/><stop offset=".1429" stop-color="#8d8d8d"/><stop offset=".1548" stop-color="#8b8b8b"/><stop offset=".1667" stop-color="#898989"/><stop offset=".1786" stop-color="#878787"/><stop offset=".1905" stop-color="#858585"/><stop offset=".2024" stop-color="#828282"/><stop offset=".2143" stop-color="#808080"/><stop offset=".2262" stop-color="#7e7e7e"/><stop offset=".2381" stop-color="#7c7c7c"/><stop offset=".25" stop-color="#797979"/><stop offset=".2619" stop-color="#777777"/><stop offset=".2738" stop-color="#757575"/><stop offset=".2857" stop-color="#727272"/><stop offset=".2976" stop-color="#6f6f6f"/><stop offset=".3095" stop-color="#6d6d6d"/><stop offset=".3214" stop-color="#6a6a6a"/><stop offset=".3333" stop-color="#686868"/><stop offset=".3452" stop-color="#676767"/><stop offset=".3571" stop-color="#656565"/><stop offset=".369" stop-color="#646464"/><stop offset=".381" stop-color="#626262"/><stop offset=".3929" stop-color="#606060"/><stop offset=".4048" stop-color="#5f5f5f"/><stop offset=".4167" stop-color="#5d5d5d"/><stop offset=".4286" stop-color="#5b5b5b"/><stop offset=".4405" stop-color="#595959"/><stop offset=".4524" stop-color="#575757"/><stop offset=".4643" stop-color="#555555"/><stop offset=".4762" stop-color="#535353"/><stop offset=".4881" stop-color="#515151"/><stop offset=".5" stop-color="#4f4f4f"/><stop offset=".5119" stop-color="#4d4d4d"/><stop offset=".5238" stop-color="#4b4b4b"/><stop offset=".5357" stop-color="#484848"/><stop offset=".5476" stop-color="#464646"/><stop offset=".5595" stop-color="#444444"/><stop offset=".5714" stop-color="#424242"/><stop offset=".5833" stop-color="#404040"/><stop offset=".5952" stop-color="#3e3e3e"/><stop offset=".6071" stop-color="#3c3c3c"/><stop offset=".619" stop-color="#3a3a3a"/><stop offset=".631" stop-color="#373737"/><stop offset=".6429" stop-color="#353535"/><stop offset=".6548" stop-color="#333333"/><stop offset=".6667" stop-color="#313131"/><stop offset=".6786" stop-color="#2f2f2f"/><stop offset=".6905" stop-color="#2c2c2c"/><stop offset=".7024" stop-color="#2a2a2a"/><stop offset=".7143" stop-color="#282828"/><stop offset=".7262" stop-color="#262626"/><stop offset=".7381" stop-color="#232323"/><stop offset=".75" stop-color="#1f1f1f"/><stop offset=".7619" stop-color="#1b1b1b"/><stop offset=".7738" stop-color="#171717"/><stop offset=".7857" stop-color="#131313"/><stop offset=".7976" stop-color="#0f0f0f"/><stop offset=".8095" stop-color="#0b0b0b"/><stop offset=".8214" stop-color="#070707"/><stop offset=".8333" stop-color="#030303"/><stop offset=".8452" stop-color="#010101"/><stop offset=".8571" stop-color="#000000"/><stop offset="1" stop-color="#000000"/></linearGradient>
<linearGradient id="r28" x1="0" y1="97.5" x2="0" y2="517.5" gradientUnits="userSpaceOnUse"><stop offset="0" stop-color="#9d9d9d"/><stop offset=".0357" stop-color="#9d9d9d"/><stop offset=".0476" stop-color="#9c9c9c"/><stop offset=".0595" stop-color="#9b9b9b"/><stop offset=".0714" stop-color="#999999"/><stop offset=".0833" stop-color="#979797"/><stop offset=".0952" stop-color="#959595"/><stop offset=".1071" stop-color="#939393"/><stop offset=".119" stop-color="#919191"/><stop offset=".131" stop-color="#8f8f8f"/><stop offset=".1429" stop-color="#8e8e8e"/><stop offset=".1548" stop-color="#8c8c8c"/><stop offset=".1667" stop-color="#8a8a8a"/><stop offset=".1786" stop-color="#888888"/><stop offset=".1905" stop-color="#858585"/><stop offset=".2024" stop-color="#838383"/><stop offset=".2143" stop-color="#808080"/><stop offset=".2262" stop-color="#7e7e7e"/><stop offset=".2381" stop-color="#7c7c7c"/><stop offset=".25" stop-color="#7a7a7a"/><stop offset=".2619" stop-color="#777777"/><stop offset=".2738" stop-color="#757575"/><stop offset=".2857" stop-color="#727272"/><stop offset=".2976" stop-color="#6f6f6f"/><stop offset=".3095" stop-color="#6d6d6d"/><stop offset=".3214" stop-color="#6a6a6a"/><stop offset=".3333" stop-color="#686868"/><stop offset=".3452" stop-color="#676767"/><stop offset=".3571" stop-color="#656565"/><stop offset=".369" stop-color="#646464"/><stop offset=".381" stop-color="#626262"/><stop offset=".3929" stop-color="#616161"/><stop offset=".4048" stop-color="#5f5f5f"/><stop offset=".4167" stop-color="#5d5d5d"/><stop offset=".4286" stop-color="#5b5b5b"/><stop offset=".4405" stop-color="#595959"/><stop offset=".4524" stop-color="#575757"/><stop offset=".4643" stop-color="#555555"/><stop offset=".4762" stop-color="#535353"/><stop offset=".4881" stop-color="#515151"/><stop offset=".5" stop-color="#4f4f4f"/><stop offset=".5119" stop-color="#4d4d4d"/><stop offset=".5238" stop-color="#4b4b4b"/><stop offset=".5357" stop-color="#494949"/><stop offset=".5476" stop-color="#464646"/><stop offset=".5595" stop-color="#444444"/><stop offset=".5714" stop-color="#424242"/><stop offset=".5833" stop-color="#404040"/><stop offset=".5952" stop-color="#3e3e3e"/><stop offset=".6071" stop-color="#3c3c3c"/><stop offset=".619" stop-color="#3a3a3a"/><stop offset=".631" stop-color="#383838"/><stop offset=".6429" stop-color="#363636"/><stop offset=".6548" stop-color="#343434"/><stop offset=".6667" stop-color="#323232"/><stop offset=".6786" stop-color="#2f2f2f"/><stop offset=".6905" stop-color="#2d2d2d"/><stop offset=".7024" stop-color="#2b2b2b"/><stop offset=".7143" stop-color="#282828"/><stop offset=".7262" stop-color="#272727"/><stop offset=".7381" stop-color="#242424"/><stop offset=".75" stop-color="#202020"/><stop offset=".7619" stop-color="#1b1b1b"/><stop offset=".7738" stop-color="#171717"/><stop offset=".7857" stop-color="#131313"/><stop offset=".7976" stop-color="#0f0f0f"/><stop offset=".8095" stop-color="#0b0b0b"/><stop offset=".8214" stop-color="#070707"/><stop offset=".8333" stop-color="#030303"/><stop offset=".8452" stop-color="#010101"/><stop offset=".8571" stop-color="#000000"/><stop offset="1" stop-color="#000000"/></linearGradient>
<linearGradient id="r29" x1="0" y1="97.5" x2="0" y2="517.5" gradientUnits="userSpaceOnUse"><stop offset="0" stop-color="#9f9f9f"/><stop offset=".0357" stop-color="#9f9f9f"/><stop offset=".0476" stop-color="#9e9e9e"/><stop offset=".0595" stop-color="#9c9c9c"/><stop offset=".0714" stop-color="#9b9b9b"/><stop offset=".0833" stop-color="#999999"/><stop offset=".0952" stop-color="#979797"/><stop offset=".1071" stop-color="#959595"/><stop offset=".119" stop-color="#939393"/><stop offset=".131" stop-color="#909090"/><stop offset=".1429" stop-color="#8e8e8e"/><stop offset=".1548" stop-color="#8d8d8d"/><stop offset=".1667" stop-color="#8b8b8b"/><stop offset=".1786" stop-color="#888888"/><stop offset=".1905" stop-color="#868686"/><stop offset=".2024" stop-color="#838383"/><stop offset=".2143" stop-color="#818181"/><stop offset=".2262" stop-color="#7e7e7e"/><stop offset=".2381" stop-color="#7c7c7c"/><stop offset=".25" stop-color="#7a7a7a"/><stop offset=".2619" stop-color="#787878"/><stop offset=".2738" stop-color="#757575"/><stop offset=".2857" stop-color="#737373"/><stop offset=".2976" stop-color="#707070"/><stop offset=".3095" stop-color="#6d6d6d"/><stop offset=".3214" stop-color="#6b6b6b"/><stop offset=".3333" stop-color="#696969"/><stop offset=".3452" stop-color="#676767"/><stop offset=".3571" stop-color="#656565"/><stop offset=".369" stop-color="#646464"/><stop offset=".381" stop-color="#626262"/><stop offset=".3929" stop-color="#616161"/><stop offset=".4048" stop-color="#5f5f5f"/><stop offset=".4167" stop-color="#5d5d5d"/><stop offset=".4286" stop-color="#5b5b5b"/><stop offset=".4405" stop-color="#595959"/><stop offset=".4524" stop-color="#575757"/><stop offset=".4643" stop-color="#555555"/><stop offset=".4762" stop-color="#535353"/><stop offset=".4881" stop-color="#515151"/><stop offset=".5" stop-color="#4f4f4f"/><stop offset=".5119" stop-color="#4d4d4d"/><stop offset=".5238" stop-color="#4b4b4b"/><stop offset=".5357" stop-color="#494949"/><stop offset=".5476" stop-color="#474747"/><stop offset=".5595" stop-color="#454545"/><stop offset=".5714" stop-color="#424242"/><stop offset=".5833" stop-color="#404040"/><stop offset=".5952" stop-color="#3e3e3e"/><stop offset=".6071" stop-color="#3c3c3c"/><stop offset=".619" stop-color="#3a3a3a"/><stop offset=".631" stop-color="#383838"/><stop offset=".6429" stop-color="#363636"/><stop offset=".6548" stop-color="#343434"/><stop offset=".6667" stop-color="#323232"/><stop offset=".6786" stop-color="#303030"/><stop offset=".6905" stop-color="#2e2e2e"/><stop offset=".7024" stop-color="#2c2c2c"/><stop offset=".7143" stop-color="#292929"/><stop offset=".7262" stop-color="#282828"/><stop offset=".7381" stop-color="#252525"/><stop offset=".75" stop-color="#212121"/><stop offset=".7619" stop-color="#1c1c1c"/><stop offset=".7738" stop-color="#181818"/><stop offset=".7857" stop-color="#131313"/><stop offset=".7976" stop-color="#0f0f0f"/><stop offset=".8095" stop-color="#0b0b0b"/><stop offset=".8214" stop-color="#070707"/><stop offset=".8333" stop-color="#030303"/><stop offset=".8452" stop-color="#010101"/><stop offset=".8571" stop-color="#000000"/><stop offset="1" stop-color="#000000"/></linearGradient>
<linearGradient id="r30" x1="0" y1="97.5" x2="0" y2="517.5" gradientUnits="userSpaceOnUse"><stop offset="0" stop-color="#a0a0a0"/><stop offset=".0357" stop-color="#a0a0a0"/><stop offset=".0476" stop-color="#9f9f9f"/><stop offset=".0595" stop-color="#9e9e9e"/><stop offset=".0714" stop-color="#9c9c9c"/><stop offset=".0833" stop-color="#9a9a9a"/><stop offset=".0952" stop-color="#989898"/><stop offset=".1071" stop-color="#969696"/><stop offset=".119" stop-color="#949494"/><stop offset=".131" stop-color="#919191"/><stop offset=".1429" stop-color="#8f8f8f"/><stop offset=".1548" stop-color="#8d8d8d"/><stop offset=".1667" stop-color="#8b8b8b"/><stop offset=".1786" stop-color="#898989"/><stop offset=".1905" stop-color="#868686"/><stop offset=".2024" stop-color="#838383"/><stop offset=".2143" stop-color="#818181"/><stop offset=".2262" stop-color="#7f7f7f"/><stop offset=".2381" stop-color="#7c7c7c"/><stop offset=".25" stop-color="#7a7a7a"/><stop offset=".2619" stop-color="#787878"/><stop offset=".2738" stop-color="#757575"/><stop offset=".2857" stop-color="#737373"/><stop offset=".2976" stop-color="#707070"/><stop offset=".3095" stop-color="#6d6d6d"/><stop offset=".3214" stop-color="#6b6b6b"/><stop offset=".3333" stop-color="#696969"/><stop offset=".3452" stop-color="#676767"/><stop offset=".3571" stop-color="#666666"/><stop offset=".369" stop-color="#646464"/><stop offset=".381" stop-color="#626262"/><stop offset=".3929" stop-color="#616161"/><stop offset=".4048" stop-color="#5f5f5f"/><stop offset=".4167" stop-color="#5d5d5d"/><stop offset=".4286" stop-color="#5b5b5b"/><stop offset=".4405" stop-color="#595959"/><stop offset=".4524" stop-color="#575757"/><stop offset=".4643" stop-color="#555555"/><stop offset=".4762" stop-color="#535353"/><stop offset=".4881" stop-color="#515151"/><stop offset=".5" stop-color="#4f4f4f"/><stop offset=".5119" stop-color="#4d4d4d"/><stop offset=".5238" stop-color="#4b4b4b"/><stop offset=".5357" stop-color="#494949"/><stop offset=".5476" stop-color="#474747"/><stop offset=".5595" stop-color="#454545"/><stop offset=".5714" stop-color="#434343"/><stop offset=".5833" stop-color="#414141"/><stop offset=".5952" stop-color="#3f3f3f"/><stop offset=".6071" stop-color="#3d3d3d"/><stop offset=".619" stop-color="#3b3b3b"/><stop offset=".631" stop-color="#393939"/><stop offset=".6429" stop-color="#373737"/><stop offset=".6548" stop-color="#353535"/><stop offset=".6667" stop-color="#333333"/><stop offset=".6786" stop-color="#313131"/><stop offset=".6905" stop-color="#2f2f2f"/><stop offset=".7024" stop-color="#2d2d2d"/><stop offset=".7143" stop-color="#2a2a2a"/><stop offset=".7262" stop-color="#292929"/><stop offset=".7381" stop-color="#272727"/><stop offset=".75" stop-color="#222222"/><stop offset=".7619" stop-color="#1d1d1d"/><stop offset=".7738" stop-color="#181818"/><stop offset=".7857" stop-color="#141414"/><stop offset=".7976" stop-color="#0f0f0f"/><stop offset=".8095" stop-color="#0b0b0b"/><stop offset=".8214" stop-color="#070707"/><stop offset=".8333" stop-color="#040404"/><stop offset=".8452" stop-color="#010101"/><stop offset=".8571" stop-color="#000000"/><stop offset="1" stop-color="#000000"/></linearGradient>
<linearGradient id="r31" x1="0" y1="97.5" x2="0" y2="517.5" gradientUnits="userSpaceOnUse"><stop offset="0" stop-color="#a2a2a2"/><stop offset=".0357" stop-color="#a2a2a2"/><stop offset=".0476" stop-color="#a1a1a1"/><stop offset=".0595" stop-color="#a0a0a0"/><stop offset=".0714" stop-color="#9e9e9e"/><stop offset=".0833" stop-color="#9c9c9c"/><stop offset=".0952" stop-color="#9a9a9a"/><stop offset=".1071" stop-color="#979797"/><stop offset=".119" stop-color="#959595"/><stop offset=".131" stop-color="#939393"/><stop offset=".1429" stop-color="#909090"/><stop offset=".1548" stop-color="#8e8e8e"/><stop offset=".1667" stop-color="#8c8c8c"/><stop offset=".1786" stop-color="#898989"/><stop offset=".1905" stop-color="#878787"/><stop offset=".2024" stop-color="#848484"/><stop offset=".2143" stop-color="#818181"/><stop offset=".2262" stop-color="#7f7f7f"/><stop offset=".2381" stop-color="#7d7d7d"/><stop offset=".25" stop-color="#7a7a7a"/><stop offset=".2619" stop-color="#787878"/><stop offset=".2738" stop-color="#767676"/><stop offset=".2857" stop-color="#737373"/><stop offset=".2976" stop-color="#707070"/><stop offset=".3095" stop-color="#6d6d6d"/><stop offset=".3214" stop-color="#6b6b6b"/><stop offset=".3333" stop-color="#696969"/><stop offset=".3452" stop-color="#676767"/><stop offset=".3571" stop-color="#666666"/><stop offset=".369" stop-color="#646464"/><stop offset=".381" stop-color="#636363"/><stop offset=".3929" stop-color="#616161"/><stop offset=".4048" stop-color="#5f5f5f"/><stop offset=".4167" stop-color="#5d5d5d"/><stop offset=".4286" stop-color="#5b5b5b"/><stop offset=".4405" stop-color="#595959"/><stop offset=".4524" stop-color="#585858"/><stop offset=".4643" stop-color="#565656"/><stop offset=".4762" stop-color="#535353"/><stop offset=".4881" stop-color="#515151"/><stop offset=".5" stop-color="#4f4f4f"/><stop offset=".5119" stop-color="#4d4d4d"/><stop offset=".5238" stop-color="#4b4b4b"/><stop offset=".5357" stop-color="#494949"/><stop offset=".5476" stop-color="#474747"/><stop offset=".5595" stop-color="#454545"/><stop offset=".5714" stop-color="#434343"/><stop offset=".5833" stop-color="#414141"/><stop offset=".5952" stop-color="#3f3f3f"/><stop offset=".6071" stop-color="#3d3d3d"/><stop offset=".619" stop-color="#3b3b3b"/><stop offset=".631" stop-color="#393939"/><stop offset=".6429" stop-color="#373737"/><stop offset=".6548" stop-color="#363636"/><stop offset=".6667" stop-color="#343434"/><stop offset=".6786" stop-color="#323232"/><stop offset=".6905" stop-color="#303030"/><stop offset=".7024" stop-color="#2e2e2e"/><stop offset=".7143" stop-color="#2c2c2c"/><stop offset=".7262" stop-color="#2b2b2b"/><stop offset=".7381" stop-color="#292929"/><stop offset=".75" stop-color="#242424"/><stop offset=".7619" stop-color="#1e1e1e"/><stop offset=".7738" stop-color="#191919"/><stop offset=".7857" stop-color="#141414"/><stop offset=".7976" stop-color="#101010"/><stop offset=".8095" stop-color="#0c0c0c"/><stop offset=".8214" stop-color="#080808"/><stop offset=".8333" stop-color="#040404"/><stop offset=".8452" stop-color="#010101"/><stop offset=".8571" stop-color="#000000"/><stop offset="1" stop-color="#000000"/></linearGradient>
<linearGradient id="r32" x1="0" y1="97.5" x2="0" y2="517.5" gradientUnits="userSpaceOnUse"><stop offset="0" stop-color="#a4a4a4"/><stop offset=".0357" stop-color="#a4a4a4"/><stop offset=".0476" stop-color="#a3a3a3"/><stop offset=".0595" stop-color="#a1a1a1"/><stop offset=".0714" stop-color="#9f9f9f"/><stop offset=".0833" stop-color="#9d9d9d"/><stop offset=".0952" stop-color="#9b9b9b"/><stop offset=".1071" stop-color="#999999"/><stop offset=".119" stop-color="#969696"/><stop offset=".131" stop-color="#949494"/><stop offset=".1429" stop-color="#919191"/><stop offset=".1548" stop-color="#8f8f8f"/><stop offset=".1667" stop-color="#8c8c8c"/><stop offset=".1786" stop-color="#8a8a8a"/><stop offset=".1905" stop-color="#878787"/><stop offset=".2024" stop-color="#848484"/><stop offset=".2143" stop-color="#828282"/><stop offset=".2262" stop-color="#7f7f7f"/><stop offset=".2381" stop-color="#7d7d7d"/><stop offset=".25" stop-color="#7b7b7b"/><stop offset=".2619" stop-color="#787878"/><stop offset=".2738" stop-color="#767676"/><stop offset=".2857" stop-color="#737373"/><stop offset=".2976" stop-color="#707070"/><stop offset=".3095" stop-color="#6e6e6e"/><stop offset=".3214" stop-color="#6b6b6b"/><stop offset=".3333" stop-color="#696969"/><stop offset=".3452" stop-color="#676767"/><stop offset=".3571" stop-color="#666666"/><stop offset=".369" stop-color="#646464"/><stop offset=".381" stop-color="#636363"/><stop offset=".3929" stop-color="#616161"/><stop offset=".4048" stop-color="#5f5f5f"/><stop offset=".4167" stop-color="#5d5d5d"/><stop offset=".4286" stop-color="#5b5b5b"/><stop offset=".4405" stop-color="#5a5a5a"/><stop offset=".4524" stop-color="#585858"/><stop offset=".4643" stop-color="#565656"/><stop offset=".4762" stop-color="#545454"/><stop offset=".4881" stop-color="#515151"/><stop offset=".5" stop-color="#4f4f4f"/><stop offset=".5119" stop-color="#4d4d4d"/><stop offset=".5238" stop-color="#4b4b4b"/><stop offset=".5357" stop-color="#494949"/><stop offset=".5476" stop-color="#474747"/><stop offset=".5595" stop-color="#454545"/><stop offset=".5714" stop-color="#434343"/><stop offset=".5833" stop-color="#414141"/><stop offset=".5952" stop-color="#3f3f3f"/><stop offset=".6071" stop-color="#3d3d3d"/><stop offset=".619" stop-color="#3b3b3b"/><stop offset=".631" stop-color="#3a3a3a"/><stop offset=".6429" stop-color="#383838"/><stop offset=".6548" stop-color="#363636"/><stop offset=".6667" stop-color="#353535"/><stop offset=".6786" stop-color="#333333"/><stop offset=".6905" stop-color="#313131"/><stop offset=".7024" stop-color="#2f2f2f"/><stop offset=".7143" stop-color="#2d2d2d"/><stop offset=".7262" stop-color="#2d2d2d"/><stop offset=".7381" stop-color="#2b2b2b"/><stop offset=".75" stop-color="#252525"/><stop offset=".7619" stop-color="#1f1f1f"/><stop offset=".7738" stop-color="#1a1a1a"/><stop offset=".7857" stop-color="#151515"/><stop offset=".7976" stop-color="#101010"/><stop offset=".8095" stop-color="#0c0c0c"/><stop offset=".8214" stop-color="#080808"/><stop offset=".8333" stop-color="#040404"/><stop offset=".8452" stop-color="#010101"/><stop offset=".8571" stop-color="#000000"/><stop offset="1" stop-color="#000000"/></linearGradient>
<linearGradient id="r33" x1="0" y1="97.5" x2="0" y2="517.5" gradientUnits="userSpaceOnUse"><stop offset="0" stop-color="#a7a7a7"/><stop offset=".0357" stop-color="#a7a7a7"/><stop offset=".0476" stop-color="#a6a6a6"/><stop offset=".0595" stop-color="#a4a4a4"/><stop offset=".0714" stop-color="#a1a1a1"/><stop offset=".0833" stop-color="#9f9f9f"/><stop offset=".0952" stop-color="#9c9c9c"/><stop offset=".1071" stop-color="#9a9a9a"/><stop offset=".119" stop-color="#979797"/><stop offset=".131" stop-color="#959595"/><stop offset=".1429" stop-color="#929292"/><stop offset=".1548" stop-color="#8f8f8f"/><stop offset=".1667" stop-color="#8d8d8d"/><stop offset=".1786" stop-color="#8b8b8b"/><stop offset=".1905" stop-color="#888888"/><stop offset=".2024" stop-color="#858585"/><stop offset=".2143" stop-color="#828282"/><stop offset=".2262" stop-color="#7f7f7f"/><stop offset=".2381" stop-color="#7d7d7d"/><stop offset=".25" stop-color="#7b7b7b"/><stop offset=".2619" stop-color="#787878"/><stop offset=".2738" stop-color="#767676"/><stop offset=".2857" stop-color="#737373"/><stop offset=".2976" stop-color="#717171"/><stop offset=".3095" stop-color="#6e6e6e"/><stop offset=".3214" stop-color="#6b6b6b"/><stop offset=".3333" stop-color="#696969"/><stop offset=".3452" stop-color="#676767"/><stop offset=".3571" stop-color="#666666"/><stop offset=".369" stop-color="#646464"/><stop offset=".381" stop-color="#636363"/><stop offset=".3929" stop-color="#616161"/><stop offset=".4048" stop-color="#5f5f5f"/><stop offset=".4167" stop-color="#5d5d5d"/><stop offset=".4286" stop-color="#5c5c5c"/><stop offset=".4405" stop-color="#5a5a5a"/><stop offset=".4524" stop-color="#585858"/><stop offset=".4643" stop-color="#565656"/><stop offset=".4762" stop-color="#545454"/><stop offset=".4881" stop-color="#525252"/><stop offset=".5" stop-color="#505050"/><stop offset=".5119" stop-color="#4d4d4d"/><stop offset=".5238" stop-color="#4b4b4b"/><stop offset=".5357" stop-color="#494949"/><stop offset=".5476" stop-color="#474747"/><stop offset=".5595" stop-color="#454545"/><stop offset=".5714" stop-color="#434343"/><stop offset=".5833" stop-color="#414141"/><stop offset=".5952" stop-color="#3f3f3f"/><stop offset=".6071" stop-color="#3e3e3e"/><stop offset=".619" stop-color="#3c3c3c"/><stop offset=".631" stop-color="#3a3a3a"/><stop offset=".6429" stop-color="#393939"/><stop offset=".6548" stop-color="#373737"/><stop offset=".6667" stop-color="#363636"/><stop offset=".6786" stop-color="#343434"/><stop offset=".6905" stop-color="#323232"/><stop offset=".7024" stop-color="#303030"/><stop offset=".7143" stop-color="#2e2e2e"/><stop offset=".7262" stop-color="#2f2f2f"/><stop offset=".7381" stop-color="#2d2d2d"/><stop offset=".75" stop-color="#272727"/><stop offset=".7619" stop-color="#212121"/><stop offset=".7738" stop-color="#1b1b1b"/><stop offset=".7857" stop-color="#151515"/><stop offset=".7976" stop-color="#111111"/><stop offset=".8095" stop-color="#0c0c0c"/><stop offset=".8214" stop-color="#080808"/><stop offset=".8333" stop-color="#040404"/><stop offset=".8452" stop-color="#010101"/><stop offset=".8571" stop-color="#000000"/><stop offset="1" stop-color="#000000"/></linearGradient>
<linearGradient id="r34" x1="0" y1="97.5" x2="0" y2="517.5" gradientUnits="userSpaceOnUse"><stop offset="0" stop-color="#ababab"/><stop offset=".0357" stop-color="#ababab"/><stop offset=".0476" stop-color="#a9a9a9"/><stop offset=".0595" stop-color="#a6a6a6"/><stop offset=".0714" stop-color="#a3a3a3"/><stop offset=".0833" stop-color="#a0a0a0"/><stop offset=".0952" stop-color="#9e9e9e"/><stop offset=".1071" stop-color="#9b9b9b"/><stop offset=".119" stop-color="#999999"/><stop offset=".131" stop-color="#969696"/><stop offset=".1429" stop-color="#939393"/><stop offset=".1548" stop-color="#909090"/><stop offset=".1667" stop-color="#8e8e8e"/><stop offset=".1786" stop-color="#8b8b8b"/><stop offset=".1905" stop-color="#888888"/><stop offset=".2024" stop-color="#858585"/><stop offset=".2143" stop-color="#828282"/><stop offset=".2262" stop-color="#808080"/><stop offset=".2381" stop-color="#7d7d7d"/><stop offset=".25" stop-color="#7b7b7b"/><stop offset=".2619" stop-color="#797979"/><stop offset=".2738" stop-color="#767676"/><stop offset=".2857" stop-color="#747474"/><stop offset=".2976" stop-color="#717171"/><stop offset=".3095" stop-color="#6e6e6e"/><stop offset=".3214" stop-color="#6b6b6b"/><stop offset=".3333" stop-color="#696969"/><stop offset=".3452" stop-color="#686868"/><stop offset=".3571" stop-color="#666666"/><stop offset=".369" stop-color="#646464"/><stop offset=".381" stop-color="#636363"/><stop offset=".3929" stop-color="#616161"/><stop offset=".4048" stop-color="#5f5f5f"/><stop offset=".4167" stop-color="#5e5e5e"/><stop offset=".4286" stop-color="#5c5c5c"/><stop offset=".4405" stop-color="#5a5a5a"/><stop offset=".4524" stop-color="#585858"/><stop offset=".4643" stop-color="#565656"/><stop offset=".4762" stop-color="#545454"/><stop offset=".4881" stop-color="#525252"/><stop offset=".5" stop-color="#505050"/><stop offset=".5119" stop-color="#4e4e4e"/><stop offset=".5238" stop-color="#4b4b4b"/><stop offset=".5357" stop-color="#494949"/><stop offset=".5476" stop-color="#474747"/><stop offset=".5595" stop-color="#454545"/><stop offset=".5714" stop-color="#434343"/><stop offset=".5833" stop-color="#424242"/><stop offset=".5952" stop-color="#404040"/><stop offset=".6071" stop-color="#3e3e3e"/><stop offset=".619" stop-color="#3c3c3c"/><stop offset=".631" stop-color="#3b3b3b"/><stop offset=".6429" stop-color="#393939"/><stop offset=".6548" stop-color="#383838"/><stop offset=".6667" stop-color="#373737"/><stop offset=".6786" stop-color="#353535"/><stop offset=".6905" stop-color="#343434"/><stop offset=".7024" stop-color="#323232"/><stop offset=".7143" stop-color="#303030"/><stop offset=".7262" stop-color="#313131"/><stop offset=".7381" stop-color="#303030"/><stop offset=".75" stop-color="#2a2a2a"/><stop offset=".7619" stop-color="#222222"/><stop offset=".7738" stop-color="#1c1c1c"/><stop offset=".7857" stop-color="#161616"/><stop offset=".7976" stop-color="#111111"/><stop offset=".8095" stop-color="#0d0d0d"/><stop offset=".8214" stop-color="#080808"/><stop offset=".8333" stop-color="#040404"/><stop offset=".8452" stop-color="#010101"/><stop offset=".8571" stop-color="#000000"/><stop offset="1" stop-color="#000000"/></linearGradient>
<linearGradient id="r35" x1="0" y1="97.5" x2="0" y2="517.5" gradientUnits="userSpaceOnUse"><stop offset="0" stop-color="#b2b2b2"/><stop offset=".0357" stop-color="#b2b2b2"/><stop offset=".0476" stop-color="#afafaf"/><stop offset=".0595" stop-color="#aaaaaa"/><stop offset=".0714" stop-color="#a6a6a6"/><stop offset=".0833" stop-color="#a2a2a2"/><stop offset=".0952" stop-color="#9f9f9f"/><stop offset=".1071" stop-color="#9c9c9c"/><stop offset=".119" stop-color="#9a9a9a"/><stop offset=".131" stop-color="#979797"/><stop offset=".1429" stop-color="#949494"/><stop offset=".1548" stop-color="#919191"/><stop offset=".1667" stop-color="#8e8e8e"/><stop offset=".1786" stop-color="#8c8c8c"/><stop offset=".1905" stop-color="#898989"/><stop offset=".2024" stop-color="#868686"/><stop offset=".2143" stop-color="#838383"/><stop offset=".2262" stop-color="#808080"/><stop offset=".2381" stop-color="#7e7e7e"/><stop offset=".25" stop-color="#7b7b7b"/><stop offset=".2619" stop-color="#797979"/><stop offset=".2738" stop-color="#767676"/><stop offset=".2857" stop-color="#747474"/><stop offset=".2976" stop-color="#717171"/><stop offset=".3095" stop-color="#6e6e6e"/><stop offset=".3214" stop-color="#6c6c6c"/><stop offset=".3333" stop-color="#696969"/><stop offset=".3452" stop-color="#686868"/><stop offset=".3571" stop-color="#666666"/><stop offset=".369" stop-color="#656565"/><stop offset=".381" stop-color="#636363"/><stop offset=".3929" stop-color="#616161"/><stop offset=".4048" stop-color="#606060"/><stop offset=".4167" stop-color="#5e5e5e"/><stop offset=".4286" stop-color="#5c5c5c"/><stop offset=".4405" stop-color="#5a5a5a"/><stop offset=".4524" stop-color="#585858"/><stop offset=".4643" stop-color="#565656"/><stop offset=".4762" stop-color="#545454"/><stop offset=".4881" stop-color="#525252"/><stop offset=".5" stop-color="#505050"/><stop offset=".5119" stop-color="#4e4e4e"/><stop offset=".5238" stop-color="#4c4c4c"/><stop offset=".5357" stop-color="#4a4a4a"/><stop offset=".5476" stop-color="#484848"/><stop offset=".5595" stop-color="#464646"/><stop offset=".5714" stop-color="#444444"/><stop offset=".5833" stop-color="#424242"/><stop offset=".5952" stop-color="#404040"/><stop offset=".6071" stop-color="#3e3e3e"/><stop offset=".619" stop-color="#3d3d3d"/><stop offset=".631" stop-color="#3b3b3b"/><stop offset=".6429" stop-color="#3a3a3a"/><stop offset=".6548" stop-color="#393939"/><stop offset=".6667" stop-color="#383838"/><stop offset=".6786" stop-color="#373737"/><stop offset=".6905" stop-color="#363636"/><stop offset=".7024" stop-color="#343434"/><stop offset=".7143" stop-color="#323232"/><stop offset=".7262" stop-color="#343434"/><stop offset=".7381" stop-color="#333333"/><stop offset=".75" stop-color="#2c2c2c"/><stop offset=".7619" stop-color="#242424"/><stop offset=".7738" stop-color="#1d1d1d"/><stop offset=".7857" stop-color="#171717"/><stop offset=".7976" stop-color="#121212"/><stop offset=".8095" stop-color="#0d0d0d"/><stop offset=".8214" stop-color="#090909"/><stop offset=".8333" stop-color="#040404"/><stop offset=".8452" stop-color="#020202"/><stop offset=".8571" stop-color="#000000"/><stop offset="1" stop-color="#000000"/></linearGradient>
<linearGradient id="r36" x1="0" y1="97.5" x2="0" y2="517.5" gradientUnits="userSpaceOnUse"><stop offset="0" stop-color="#c0c0c0"/><stop offset=".0238" stop-color="#c0c0c0"/><stop offset=".0357" stop-color="#bfbfbf"/><stop offset=".0476" stop-color="#b8b8b8"/><stop offset=".0595" stop-color="#afafaf"/><stop offset=".0714" stop-color="#a8a8a8"/><stop offset=".0833" stop-color="#a4a4a4"/><stop offset=".0952" stop-color="#a1a1a1"/><stop offset=".1071" stop-color="#9d9d9d"/><stop offset=".119" stop-color="#9b9b9b"/><stop offset=".131" stop-color="#989898"/><stop offset=".1429" stop-color="#959595"/><stop offset=".1548" stop-color="#929292"/><stop offset=".1667" stop-color="#8f8f8f"/><stop offset=".1786" stop-color="#8c8c8c"/><stop offset=".1905" stop-color="#898989"/><stop offset=".2024" stop-color="#868686"/><stop offset=".2143" stop-color="#838383"/><stop offset=".2262" stop-color="#808080"/><stop offset=".2381" stop-color="#7e7e7e"/><stop offset=".25" stop-color="#7b7b7b"/><stop offset=".2619" stop-color="#797979"/><stop offset=".2738" stop-color="#777777"/><stop offset=".2857" stop-color="#747474"/><stop offset=".2976" stop-color="#717171"/><stop offset=".3095" stop-color="#6e6e6e"/><stop offset=".3214" stop-color="#6c6c6c"/><stop offset=".3333" stop-color="#6a6a6a"/><stop offset=".3452" stop-color="#686868"/><stop offset=".3571" stop-color="#666666"/><stop offset=".369" stop-color="#656565"/><stop offset=".381" stop-color="#636363"/><stop offset=".3929" stop-color="#616161"/><stop offset=".4048" stop-color="#606060"/><stop offset=".4167" stop-color="#5e5e5e"/><stop offset=".4286" stop-color="#5c5c5c"/><stop offset=".4405" stop-color="#5a5a5a"/><stop offset=".4524" stop-color="#585858"/><stop offset=".4643" stop-color="#565656"/><stop offset=".4762" stop-color="#545454"/><stop offset=".4881" stop-color="#525252"/><stop offset=".5" stop-color="#505050"/><stop offset=".5119" stop-color="#4e4e4e"/><stop offset=".5238" stop-color="#4c4c4c"/><stop offset=".5357" stop-color="#4a4a4a"/><stop offset=".5476" stop-color="#484848"/><stop offset=".5595" stop-color="#464646"/><stop offset=".5714" stop-color="#444444"/><stop offset=".5833" stop-color="#424242"/><stop offset=".5952" stop-color="#404040"/><stop offset=".6071" stop-color="#3f3f3f"/><stop offset=".619" stop-color="#3d3d3d"/><stop offset=".631" stop-color="#3c3c3c"/><stop offset=".6429" stop-color="#3b3b3b"/><stop offset=".6548" stop-color="#3a3a3a"/><stop offset=".6667" stop-color="#393939"/><stop offset=".6786" stop-color="#393939"/><stop offset=".6905" stop-color="#383838"/><stop offset=".7024" stop-color="#373737"/><stop offset=".7143" stop-color="#353535"/><stop offset=".7262" stop-color="#373737"/><stop offset=".7381" stop-color="#363636"/><stop offset=".75" stop-color="#2f2f2f"/><stop offset=".7619" stop-color="#262626"/><stop offset=".7738" stop-color="#1e1e1e"/><stop offset=".7857" stop-color="#171717"/><stop offset=".7976" stop-color="#121212"/><stop offset=".8095" stop-color="#0d0d0d"/><stop offset=".8214" stop-color="#090909"/><stop offset=".8333" stop-color="#050505"/><stop offset=".8452" stop-color="#020202"/><stop offset=".8571" stop-color="#000000"/><stop offset="1" stop-color="#000000"/></linearGradient>
<linearGradient id="r37" x1="0" y1="97.5" x2="0" y2="517.5" gradientUnits="userSpaceOnUse"><stop offset="0" stop-color="#d5d5d5"/><stop offset=".0238" stop-color="#d5d5d5"/><stop offset=".0357" stop-color="#d4d4d4"/><stop offset=".0476" stop-color="#c5c5c5"/><stop offset=".0595" stop-color="#b6b6b6"/><stop offset=".0714" stop-color="#acacac"/><stop offset=".0833" stop-color="#a6a6a6"/><stop offset=".0952" stop-color="#a2a2a2"/><stop offset=".1071" stop-color="#9f9f9f"/><stop offset=".119" stop-color="#9c9c9c"/><stop offset=".131" stop-color="#999999"/><stop offset=".1429" stop-color="#969696"/><stop offset=".1548" stop-color="#939393"/><stop offset=".1667" stop-color="#909090"/><stop offset=".1786" stop-color="#8d8d8d"/><stop offset=".1905" stop-color="#8a8a8a"/><stop offset=".2024" stop-color="#878787"/><stop offset=".2143" stop-color="#848484"/><stop offset=".2262" stop-color="#818181"/><stop offset=".2381" stop-color="#7e7e7e"/><stop offset=".25" stop-color="#7c7c7c"/><stop offset=".2619" stop-color="#797979"/><stop offset=".2738" stop-color="#777777"/><stop offset=".2857" stop-color="#747474"/><stop offset=".2976" stop-color="#727272"/><stop offset=".3095" stop-color="#6f6f6f"/><stop offset=".3214" stop-color="#6c6c6c"/><stop offset=".3333" stop-color="#6a6a6a"/><stop offset=".3452" stop-color="#686868"/><stop offset=".3571" stop-color="#666666"/><stop offset=".369" stop-color="#656565"/><stop offset=".381" stop-color="#636363"/><stop offset=".3929" stop-color="#616161"/><stop offset=".4048" stop-color="#606060"/><stop offset=".4167" stop-color="#5e5e5e"/><stop offset=".4286" stop-color="#5c5c5c"/><stop offset=".4405" stop-color="#5a5a5a"/><stop offset=".4524" stop-color="#585858"/><stop offset=".4643" stop-color="#565656"/><stop offset=".4762" stop-color="#545454"/><stop offset=".4881" stop-color="#525252"/><stop offset=".5" stop-color="#505050"/><stop offset=".5119" stop-color="#4e4e4e"/><stop offset=".5238" stop-color="#4c4c4c"/><stop offset=".5357" stop-color="#4a4a4a"/><stop offset=".5476" stop-color="#484848"/><stop offset=".5595" stop-color="#464646"/><stop offset=".5714" stop-color="#444444"/><stop offset=".5833" stop-color="#424242"/><stop offset=".5952" stop-color="#414141"/><stop offset=".6071" stop-color="#3f3f3f"/><stop offset=".619" stop-color="#3e3e3e"/><stop offset=".631" stop-color="#3d3d3d"/><stop offset=".6429" stop-color="#3c3c3c"/><stop offset=".6548" stop-color="#3b3b3b"/><stop offset=".7024" stop-color="#3b3b3b"/><stop offset=".7143" stop-color="#3a3a3a"/><stop offset=".7262" stop-color="#3c3c3c"/><stop offset=".7381" stop-color="#3a3a3a"/><stop offset=".75" stop-color="#313131"/><stop offset=".7619" stop-color="#272727"/><stop offset=".7738" stop-color="#1f1f1f"/><stop offset=".7857" stop-color="#181818"/><stop offset=".7976" stop-color="#121212"/><stop offset=".8095" stop-color="#0d0d0d"/><stop offset=".8214" stop-color="#090909"/><stop offset=".8333" stop-color="#050505"/><stop offset=".8452" stop-color="#020202"/><stop offset=".8571" stop-color="#000000"/><stop offset="1" stop-color="#000000"/></linearGradient>
<linearGradient id="r38" x1="0" y1="97.5" x2="0" y2="517.5" gradientUnits="userSpaceOnUse"><stop offset="0" stop-color="#f6f6f6"/><stop offset=".0238" stop-color="#f6f6f6"/><stop offset=".0357" stop-color="#f2f2f2"/><stop offset=".0476" stop-color="#d2d2d2"/><stop offset=".0595" stop-color="#bebebe"/><stop offset=".0714" stop-color="#b0b0b0"/><stop offset=".0833" stop-color="#a8a8a8"/><stop offset=".0952" stop-color="#a4a4a4"/><stop offset=".1071" stop-color="#a0a0a0"/><stop offset=".119" stop-color="#9c9c9c"/><stop offset=".131" stop-color="#9a9a9a"/><stop offset=".1429" stop-color="#979797"/><stop offset=".1548" stop-color="#949494"/><stop offset=".1667" stop-color="#919191"/><stop offset=".1786" stop-color="#8e8e8e"/><stop offset=".1905" stop-color="#8a8a8a"/><stop offset=".2024" stop-color="#878787"/><stop offset=".2143" stop-color="#848484"/><stop offset=".2262" stop-color="#818181"/><stop offset=".2381" stop-color="#7e7e7e"/><stop offset=".25" stop-color="#7c7c7c"/><stop offset=".2619" stop-color="#797979"/><stop offset=".2738" stop-color="#777777"/><stop offset=".2857" stop-color="#757575"/><stop offset=".2976" stop-color="#727272"/><stop offset=".3095" stop-color="#6f6f6f"/><stop offset=".3214" stop-color="#6c6c6c"/><stop offset=".3333" stop-color="#6a6a6a"/><stop offset=".3452" stop-color="#686868"/><stop offset=".3571" stop-color="#666666"/><stop offset=".369" stop-color="#656565"/><stop offset=".381" stop-color="#636363"/><stop offset=".3929" stop-color="#626262"/><stop offset=".4048" stop-color="#606060"/><stop offset=".4167" stop-color="#5e5e5e"/><stop offset=".4286" stop-color="#5c5c5c"/><stop offset=".4405" stop-color="#5a5a5a"/><stop offset=".4524" stop-color="#585858"/><stop offset=".4643" stop-color="#565656"/><stop offset=".4762" stop-color="#545454"/><stop offset=".4881" stop-color="#525252"/><stop offset=".5" stop-color="#505050"/><stop offset=".5119" stop-color="#4e4e4e"/><stop offset=".5238" stop-color="#4c4c4c"/><stop offset=".5357" stop-color="#4a4a4a"/><stop offset=".5476" stop-color="#484848"/><stop offset=".5595" stop-color="#464646"/><stop offset=".5714" stop-color="#444444"/><stop offset=".5833" stop-color="#434343"/><stop offset=".5952" stop-color="#414141"/><stop offset=".6071" stop-color="#404040"/><stop offset=".619" stop-color="#3f3f3f"/><stop offset=".631" stop-color="#3e3e3e"/><stop offset=".6429" stop-color="#3d3d3d"/><stop offset=".6548" stop-color="#3d3d3d"/><stop offset=".6667" stop-color="#3e3e3e"/><stop offset=".6786" stop-color="#3f3f3f"/><stop offset=".6905" stop-color="#404040"/><stop offset=".7024" stop-color="#414141"/><stop offset=".7143" stop-color="#424242"/><stop offset=".7262" stop-color="#434343"/><stop offset=".7381" stop-color="#3e3e3e"/><stop offset=".75" stop-color="#353535"/><stop offset=".7619" stop-color="#292929"/><stop offset=".7738" stop-color="#202020"/><stop offset=".7857" stop-color="#191919"/><stop offset=".7976" stop-color="#131313"/><stop offset=".8095" stop-color="#0e0e0e"/><stop offset=".8214" stop-color="#090909"/><stop offset=".8333" stop-color="#050505"/><stop offset=".8452" stop-color="#020202"/><stop offset=".8571" stop-color="#000000"/><stop offset="1" stop-color="#000000"/></linearGradient>
<linearGradient id="r39" x1="0" y1="97.5" x2="0" y2="517.5" gradientUnits="userSpaceOnUse"><stop offset="0" stop-color="#fefefe"/><stop offset=".0238" stop-color="#fefefe"/><stop offset=".0357" stop-color="#fcfcfc"/><stop offset=".0476" stop-color="#dcdcdc"/><stop offset=".0595" stop-color="#c6c6c6"/><stop offset=".0714" stop-color="#b5b5b5"/><stop offset=".0833" stop-color="#ababab"/><stop offset=".0952" stop-color="#a5a5a5"/><stop offset=".1071" stop-color="#a1a1a1"/><stop offset=".119" stop-color="#9d9d9d"/><stop offset=".131" stop-color="#9a9a9a"/><stop offset=".1429" stop-color="#979797"/><stop offset=".1548" stop-color="#949494"/><stop offset=".1667" stop-color="#919191"/><stop offset=".1786" stop-color="#8e8e8e"/><stop offset=".1905" stop-color="#8b8b8b"/><stop offset=".2024" stop-color="#888888"/><stop offset=".2143" stop-color="#858585"/><stop offset=".2262" stop-color="#828282"/><stop offset=".2381" stop-color="#7f7f7f"/><stop offset=".25" stop-color="#7c7c7c"/><stop offset=".2619" stop-color="#7a7a7a"/><stop offset=".2738" stop-color="#777777"/><stop offset=".2857" stop-color="#757575"/><stop offset=".2976" stop-color="#727272"/><stop offset=".3095" stop-color="#6f6f6f"/><stop offset=".3214" stop-color="#6c6c6c"/><stop offset=".3333" stop-color="#6a6a6a"/><stop offset=".3452" stop-color="#686868"/><stop offset=".3571" stop-color="#666666"/><stop offset=".369" stop-color="#656565"/><stop offset=".381" stop-color="#636363"/><stop offset=".3929" stop-color="#626262"/><stop offset=".4048" stop-color="#606060"/><stop offset=".4167" stop-color="#5e5e5e"/><stop offset=".4286" stop-color="#5c5c5c"/><stop offset=".4405" stop-color="#5a5a5a"/><stop offset=".4524" stop-color="#585858"/><stop offset=".4643" stop-color="#565656"/><stop offset=".4762" stop-color="#545454"/><stop offset=".4881" stop-color="#525252"/><stop offset=".5" stop-color="#505050"/><stop offset=".5119" stop-color="#4e4e4e"/><stop offset=".5238" stop-color="#4c4c4c"/><stop offset=".5357" stop-color="#4a4a4a"/><stop offset=".5476" stop-color="#484848"/><stop offset=".5595" stop-color="#464646"/><stop offset=".5714" stop-color="#454545"/><stop offset=".5833" stop-color="#434343"/><stop offset=".5952" stop-color="#414141"/><stop offset=".6071" stop-color="#404040"/><stop offset=".619" stop-color="#3f3f3f"/><stop offset=".6548" stop-color="#3f3f3f"/><stop offset=".6667" stop-color="#414141"/><stop offset=".6786" stop-color="#434343"/><stop offset=".6905" stop-color="#464646"/><stop offset=".7024" stop-color="#494949"/><stop offset=".7143" stop-color="#4c4c4c"/><stop offset=".7262" stop-color="#4d4d4d"/><stop offset=".7381" stop-color="#444444"/><stop offset=".75" stop-color="#383838"/><stop offset=".7619" stop-color="#2b2b2b"/><stop offset=".7738" stop-color="#212121"/><stop offset=".7857" stop-color="#1a1a1a"/><stop offset=".7976" stop-color="#131313"/><stop offset=".8095" stop-color="#0e0e0e"/><stop offset=".8214" stop-color="#0a0a0a"/><stop offset=".8333" stop-color="#050505"/><stop offset=".8452" stop-color="#020202"/><stop offset=".8571" stop-color="#000000"/><stop offset="1" stop-color="#000000"/></linearGradient>
<linearGradient id="r40" x1="0" y1="97.5" x2="0" y2="517.5" gradientUnits="userSpaceOnUse"><stop offset="0" stop-color="#ffffff"/><stop offset=".0238" stop-color="#ffffff"/><stop offset=".0357" stop-color="#fdfdfd"/><stop offset=".0476" stop-color="#e4e4e4"/><stop offset=".0595" stop-color="#cccccc"/><stop offset=".0714" stop-color="#bababa"/><stop offset=".0833" stop-color="#aeaeae"/><stop offset=".0952" stop-color="#a7a7a7"/><stop offset=".1071" stop-color="#a2a2a2"/><stop offset=".119" stop-color="#9e9e9e"/><stop offset=".131" stop-color="#9b9b9b"/><stop offset=".1429" stop-color="#989898"/><stop offset=".1548" stop-color="#959595"/><stop offset=".1667" stop-color="#929292"/><stop offset=".1786" stop-color="#8f8f8f"/><stop offset=".1905" stop-color="#8c8c8c"/><stop offset=".2024" stop-color="#888888"/><stop offset=".2143" stop-color="#858585"/><stop offset=".2262" stop-color="#828282"/><stop offset=".2381" stop-color="#7f7f7f"/><stop offset=".25" stop-color="#7c7c7c"/><stop offset=".2619" stop-color="#7a7a7a"/><stop offset=".2738" stop-color="#777777"/><stop offset=".2857" stop-color="#757575"/><stop offset=".2976" stop-color="#727272"/><stop offset=".3095" stop-color="#6f6f6f"/><stop offset=".3214" stop-color="#6c6c6c"/><stop offset=".3333" stop-color="#6a6a6a"/><stop offset=".3452" stop-color="#686868"/><stop offset=".3571" stop-color="#676767"/><stop offset=".369" stop-color="#656565"/><stop offset=".381" stop-color="#636363"/><stop offset=".3929" stop-color="#626262"/><stop offset=".4048" stop-color="#606060"/><stop offset=".4167" stop-color="#5e5e5e"/><stop offset=".4286" stop-color="#5c5c5c"/><stop offset=".4405" stop-color="#5a5a5a"/><stop offset=".4524" stop-color="#585858"/><stop offset=".4643" stop-color="#565656"/><stop offset=".4762" stop-color="#545454"/><stop offset=".4881" stop-color="#525252"/><stop offset=".5" stop-color="#505050"/><stop offset=".5119" stop-color="#4e4e4e"/><stop offset=".5238" stop-color="#4c4c4c"/><stop offset=".5357" stop-color="#4a4a4a"/><stop offset=".5476" stop-color="#484848"/><stop offset=".5595" stop-color="#464646"/><stop offset=".5714" stop-color="#454545"/><stop offset=".5833" stop-color="#434343"/><stop offset=".5952" stop-color="#424242"/><stop offset=".6071" stop-color="#414141"/><stop offset=".619" stop-color="#404040"/><stop offset=".6429" stop-color="#404040"/><stop offset=".6548" stop-color="#414141"/><stop offset=".6667" stop-color="#434343"/><stop offset=".6786" stop-color="#474747"/><stop offset=".6905" stop-color="#4b4b4b"/><stop offset=".7024" stop-color="#515151"/><stop offset=".7143" stop-color="#565656"/><stop offset=".7262" stop-color="#575757"/><stop offset=".7381" stop-color="#4b4b4b"/><stop offset=".75" stop-color="#3b3b3b"/><stop offset=".7619" stop-color="#2d2d2d"/><stop offset=".7738" stop-color="#222222"/><stop offset=".7857" stop-color="#1a1a1a"/><stop offset=".7976" stop-color="#141414"/><stop offset=".8095" stop-color="#0e0e0e"/><stop offset=".8214" stop-color="#0a0a0a"/><stop offset=".8333" stop-color="#050505"/><stop offset=".8452" stop-color="#020202"/><stop offset=".8571" stop-color="#000000"/><stop offset="1" stop-color="#000000"/></linearGradient>
<linearGradient id="r41" x1="0" y1="97.5" x2="0" y2="517.5" gradientUnits="userSpaceOnUse"><stop offset="0" stop-color="#ffffff"/><stop offset=".0238" stop-color="#ffffff"/><stop offset=".0357" stop-color="#fefefe"/><stop offset=".0476" stop-color="#e9e9e9"/><stop offset=".0595" stop-color="#d1d1d1"/><stop offset=".0714" stop-color="#bebebe"/><stop offset=".0833" stop-color="#b0b0b0"/><stop offset=".0952" stop-color="#a8a8a8"/><stop offset=".1071" stop-color="#a3a3a3"/><stop offset=".119" stop-color="#9f9f9f"/><stop offset=".131" stop-color="#9c9c9c"/><stop offset=".1429" stop-color="#999999"/><stop offset=".1548" stop-color="#969696"/><stop offset=".1667" stop-color="#939393"/><stop offset=".1786" stop-color="#8f8f8f"/><stop offset=".1905" stop-color="#8c8c8c"/><stop offset=".2024" stop-color="#898989"/><stop offset=".2143" stop-color="#868686"/><stop offset=".2262" stop-color="#828282"/><stop offset=".2381" stop-color="#7f7f7f"/><stop offset=".25" stop-color="#7d7d7d"/><stop offset=".2619" stop-color="#7a7a7a"/><stop offset=".2738" stop-color="#787878"/><stop offset=".2857" stop-color="#757575"/><stop offset=".2976" stop-color="#727272"/><stop offset=".3095" stop-color="#6f6f6f"/><stop offset=".3214" stop-color="#6d6d6d"/><stop offset=".3333" stop-color="#6a6a6a"/><stop offset=".3452" stop-color="#686868"/><stop offset=".3571" stop-color="#676767"/><stop offset=".369" stop-color="#656565"/><stop offset=".381" stop-color="#646464"/><stop offset=".3929" stop-color="#626262"/><stop offset=".4048" stop-color="#606060"/><stop offset=".4167" stop-color="#5e5e5e"/><stop offset=".4286" stop-color="#5c5c5c"/><stop offset=".4405" stop-color="#5a5a5a"/><stop offset=".4524" stop-color="#595959"/><stop offset=".4643" stop-color="#575757"/><stop offset=".4762" stop-color="#555555"/><stop offset=".4881" stop-color="#525252"/><stop offset=".5" stop-color="#505050"/><stop offset=".5119" stop-color="#4e4e4e"/><stop offset=".5238" stop-color="#4c4c4c"/><stop offset=".5357" stop-color="#4a4a4a"/><stop offset=".5476" stop-color="#484848"/><stop offset=".5595" stop-color="#474747"/><stop offset=".5714" stop-color="#454545"/><stop offset=".5833" stop-color="#434343"/><stop offset=".5952" stop-color="#424242"/><stop offset=".6071" stop-color="#414141"/><stop offset=".619" stop-color="#404040"/><stop offset=".631" stop-color="#404040"/><stop offset=".6429" stop-color="#414141"/><stop offset=".6548" stop-color="#424242"/><stop offset=".6667" stop-color="#454545"/><stop offset=".6786" stop-color="#494949"/><stop offset=".6905" stop-color="#4f4f4f"/><stop offset=".7024" stop-color="#565656"/><stop offset=".7143" stop-color="#5d5d5d"/><stop offset=".7262" stop-color="#5f5f5f"/><stop offset=".7381" stop-color="#535353"/><stop offset=".75" stop-color="#3f3f3f"/><stop offset=".7619" stop-color="#2f2f2f"/><stop offset=".7738" stop-color="#232323"/><stop offset=".7857" stop-color="#1b1b1b"/><stop offset=".7976" stop-color="#141414"/><stop offset=".8095" stop-color="#0f0f0f"/><stop offset=".8214" stop-color="#0a0a0a"/><stop offset=".8333" stop-color="#060606"/><stop offset=".8452" stop-color="#020202"/><stop offset=".8571" stop-color="#000000"/><stop offset="1" stop-color="#000000"/></linearGradient>
<linearGradient id="r42" x1="0" y1="97.5" x2="0" y2="517.5" gradientUnits="userSpaceOnUse"><stop offset="0" stop-color="#ffffff"/><stop offset=".0238" stop-color="#ffffff"/><stop offset=".0357" stop-color="#fefefe"/><stop offset=".0476" stop-color="#ededed"/><stop offset=".0595" stop-color="#d5d5d5"/><stop offset=".0714" stop-color="#c2c2c2"/><stop offset=".0833" stop-color="#b3b3b3"/><stop offset=".0952" stop-color="#aaaaaa"/><stop offset=".1071" stop-color="#a4a4a4"/><stop offset=".119" stop-color="#a0a0a0"/><stop offset=".131" stop-color="#9c9c9c"/><stop offset=".1429" stop-color="#999999"/><stop offset=".1548" stop-color="#969696"/><stop offset=".1667" stop-color="#939393"/><stop offset=".1786" stop-color="#909090"/><stop offset=".1905" stop-color="#8d8d8d"/><stop offset=".2024" stop-color="#898989"/><stop offset=".2143" stop-color="#868686"/><stop offset=".2262" stop-color="#838383"/><stop offset=".2381" stop-color="#808080"/><stop offset=".25" stop-color="#7d7d7d"/><stop offset=".2619" stop-color="#7a7a7a"/><stop offset=".2738" stop-color="#787878"/><stop offset=".2857" stop-color="#757575"/><stop offset=".2976" stop-color="#737373"/><stop offset=".3095" stop-color="#707070"/><stop offset=".3214" stop-color="#6d6d6d"/><stop offset=".3333" stop-color="#6a6a6a"/><stop offset=".3452" stop-color="#686868"/><stop offset=".3571" stop-color="#676767"/><stop offset=".369" stop-color="#656565"/><stop offset=".381" stop-color="#646464"/><stop offset=".3929" stop-color="#626262"/><stop offset=".4048" stop-color="#606060"/><stop offset=".4167" stop-color="#5e5e5e"/><stop offset=".4286" stop-color="#5c5c5c"/><stop offset=".4405" stop-color="#5b5b5b"/><stop offset=".4524" stop-color="#595959"/><stop offset=".4643" stop-color="#575757"/><stop offset=".4762" stop-color="#555555"/><stop offset=".4881" stop-color="#535353"/><stop offset=".5" stop-color="#505050"/><stop offset=".5119" stop-color="#4e4e4e"/><stop offset=".5238" stop-color="#4c4c4c"/><stop offset=".5357" stop-color="#4a4a4a"/><stop offset=".5476" stop-color="#494949"/><stop offset=".5595" stop-color="#474747"/><stop offset=".5714" stop-color="#454545"/><stop offset=".5833" stop-color="#444444"/><stop offset=".5952" stop-color="#424242"/><stop offset=".6071" stop-color="#414141"/><stop offset=".631" stop-color="#414141"/><stop offset=".6429" stop-color="#424242"/><stop offset=".6548" stop-color="#444444"/><stop offset=".6667" stop-color="#474747"/><stop offset=".6786" stop-color="#4c4c4c"/><stop offset=".6905" stop-color="#525252"/><stop offset=".7024" stop-color="#5a5a5a"/><stop offset=".7143" stop-color="#626262"/><stop offset=".7262" stop-color="#656565"/><stop offset=".7381" stop-color="#595959"/><stop offset=".75" stop-color="#424242"/><stop offset=".7619" stop-color="#303030"/><stop offset=".7738" stop-color="#242424"/><stop offset=".7857" stop-color="#1b1b1b"/><stop offset=".7976" stop-color="#141414"/><stop offset=".8095" stop-color="#0f0f0f"/><stop offset=".8214" stop-color="#0a0a0a"/><stop offset=".8333" stop-color="#060606"/><stop offset=".8452" stop-color="#020202"/><stop offset=".8571" stop-color="#000000"/><stop offset="1" stop-color="#000000"/></linearGradient>
<linearGradient id="r43" x1="0" y1="97.5" x2="0" y2="517.5" gradientUnits="userSpaceOnUse"><stop offset="0" stop-color="#ffffff"/><stop offset=".0357" stop-color="#ffffff"/><stop offset=".0476" stop-color="#efefef"/><stop offset=".0595" stop-color="#d8d8d8"/><stop offset=".0714" stop-color="#c5c5c5"/><stop offset=".0833" stop-color="#b5b5b5"/><stop offset=".0952" stop-color="#ababab"/><stop offset=".1071" stop-color="#a5a5a5"/><stop offset=".119" stop-color="#a0a0a0"/><stop offset=".131" stop-color="#9d9d9d"/><stop offset=".1429" stop-color="#9a9a9a"/><stop offset=".1548" stop-color="#979797"/><stop offset=".1667" stop-color="#949494"/><stop offset=".1786" stop-color="#909090"/><stop offset=".1905" stop-color="#8d8d8d"/><stop offset=".2024" stop-color="#8a8a8a"/><stop offset=".2143" stop-color="#868686"/><stop offset=".2262" stop-color="#838383"/><stop offset=".2381" stop-color="#808080"/><stop offset=".25" stop-color="#7d7d7d"/><stop offset=".2619" stop-color="#7a7a7a"/><stop offset=".2738" stop-color="#787878"/><stop offset=".2857" stop-color="#757575"/><stop offset=".2976" stop-color="#737373"/><stop offset=".3095" stop-color="#707070"/><stop offset=".3214" stop-color="#6d6d6d"/><stop offset=".3333" stop-color="#6a6a6a"/><stop offset=".3452" stop-color="#686868"/><stop offset=".3571" stop-color="#676767"/><stop offset=".369" stop-color="#656565"/><stop offset=".381" stop-color="#646464"/><stop offset=".3929" stop-color="#626262"/><stop offset=".4048" stop-color="#606060"/><stop offset=".4167" stop-color="#5e5e5e"/><stop offset=".4286" stop-color="#5d5d5d"/><stop offset=".4405" stop-color="#5b5b5b"/><stop offset=".4524" stop-color="#595959"/><stop offset=".4643" stop-color="#575757"/><stop offset=".4762" stop-color="#555555"/><stop offset=".4881" stop-color="#535353"/><stop offset=".5" stop-color="#515151"/><stop offset=".5119" stop-color="#4f4f4f"/><stop offset=".5238" stop-color="#4d4d4d"/><stop offset=".5357" stop-color="#4b4b4b"/><stop offset=".5476" stop-color="#494949"/><stop offset=".5595" stop-color="#474747"/><stop offset=".5714" stop-color="#454545"/><stop offset=".5833" stop-color="#444444"/><stop offset=".5952" stop-color="#434343"/><stop offset=".6071" stop-color="#424242"/><stop offset=".619" stop-color="#414141"/><stop offset=".631" stop-color="#424242"/><stop offset=".6429" stop-color="#424242"/><stop offset=".6548" stop-color="#454545"/><stop offset=".6667" stop-color="#484848"/><stop offset=".6786" stop-color="#4d4d4d"/><stop offset=".6905" stop-color="#545454"/><stop offset=".7024" stop-color="#5d5d5d"/><stop offset=".7143" stop-color="#656565"/><stop offset=".7262" stop-color="#696969"/><stop offset=".7381" stop-color="#5e5e5e"/><stop offset=".75" stop-color="#444444"/><stop offset=".7619" stop-color="#313131"/><stop offset=".7738" stop-color="#242424"/><stop offset=".7857" stop-color="#1b1b1b"/><stop offset=".7976" stop-color="#151515"/><stop offset=".8095" stop-color="#0f0f0f"/><stop offset=".8214" stop-color="#0a0a0a"/><stop offset=".8333" stop-color="#060606"/><stop offset=".8452" stop-color="#020202"/><stop offset=".8571" stop-color="#000000"/><stop offset="1" stop-color="#000000"/></linearGradient>
<linearGradient id="r44" x1="0" y1="97.5" x2="0" y2="517.5" gradientUnits="userSpaceOnUse"><stop offset="0" stop-color="#ffffff"/><stop offset=".0357" stop-color="#ffffff"/><stop offset=".0476" stop-color="#f1f1f1"/><stop offset=".0595" stop-color="#dadada"/><stop offset=".0714" stop-color="#c7c7c7"/><stop offset=".0833" stop-color="#b8b8b8"/><stop offset=".0952" stop-color="#adadad"/><stop offset=".1071" stop-color="#a6a6a6"/><stop offset=".119" stop-color="#a1a1a1"/><stop offset=".131" stop-color="#9d9d9d"/><stop offset=".1429" stop-color="#9a9a9a"/><stop offset=".1548" stop-color="#979797"/><stop offset=".1667" stop-color="#949494"/><stop offset=".1786" stop-color="#919191"/><stop offset=".1905" stop-color="#8d8d8d"/><stop offset=".2024" stop-color="#8a8a8a"/><stop offset=".2143" stop-color="#868686"/><stop offset=".2262" stop-color="#838383"/><stop offset=".2381" stop-color="#808080"/><stop offset=".25" stop-color="#7d7d7d"/><stop offset=".2619" stop-color="#7b7b7b"/><stop offset=".2738" stop-color="#787878"/><stop offset=".2857" stop-color="#767676"/><stop offset=".2976" stop-color="#737373"/><stop offset=".3095" stop-color="#707070"/><stop offset=".3214" stop-color="#6d6d6d"/><stop offset=".3333" stop-color="#6b6b6b"/><stop offset=".3452" stop-color="#696969"/><stop offset=".3571" stop-color="#676767"/><stop offset=".369" stop-color="#656565"/><stop offset=".381" stop-color="#646464"/><stop offset=".3929" stop-color="#626262"/><stop offset=".4048" stop-color="#606060"/><stop offset=".4167" stop-color="#5f5f5f"/><stop offset=".4286" stop-color="#5d5d5d"/><stop offset=".4405" stop-color="#5b5b5b"/><stop offset=".4524" stop-color="#595959"/><stop offset=".4643" stop-color="#575757"/><stop offset=".4762" stop-color="#555555"/><stop offset=".4881" stop-color="#535353"/><stop offset=".5" stop-color="#515151"/><stop offset=".5119" stop-color="#4f4f4f"/><stop offset=".5238" stop-color="#4d4d4d"/><stop offset=".5357" stop-color="#4b4b4b"/><stop offset=".5476" stop-color="#494949"/><stop offset=".5595" stop-color="#474747"/><stop offset=".5714" stop-color="#454545"/><stop offset=".5833" stop-color="#444444"/><stop offset=".5952" stop-color="#434343"/><stop offset=".6071" stop-color="#424242"/><stop offset=".631" stop-color="#424242"/><stop offset=".6429" stop-color="#434343"/><stop offset=".6548" stop-color="#454545"/><stop offset=".6667" stop-color="#494949"/><stop offset=".6786" stop-color="#4f4f4f"/><stop offset=".6905" stop-color="#565656"/><stop offset=".7024" stop-color="#5f5f5f"/><stop offset=".7143" stop-color="#686868"/><stop offset=".7262" stop-color="#6c6c6c"/><stop offset=".7381" stop-color="#606060"/><stop offset=".75" stop-color="#454545"/><stop offset=".7619" stop-color="#313131"/><stop offset=".7738" stop-color="#252525"/><stop offset=".7857" stop-color="#1c1c1c"/><stop offset=".7976" stop-color="#151515"/><stop offset=".8095" stop-color="#0f0f0f"/><stop offset=".8214" stop-color="#0a0a0a"/><stop offset=".8333" stop-color="#060606"/><stop offset=".8452" stop-color="#020202"/><stop offset=".8571" stop-color="#000000"/><stop offset="1" stop-color="#000000"/></linearGradient>
<linearGradient id="r45" x1="0" y1="97.5" x2="0" y2="517.5" gradientUnits="userSpaceOnUse"><stop offset="0" stop-color="#ffffff"/><stop offset=".0357" stop-color="#ffffff"/><stop offset=".0476" stop-color="#f2f2f2"/><stop offset=".0595" stop-color="#dcdcdc"/><stop offset=".0714" stop-color="#c9c9c9"/><stop offset=".0833" stop-color="#b9b9b9"/><stop offset=".0952" stop-color="#aeaeae"/><stop offset=".1071" stop-color="#a6a6a6"/><stop offset=".119" stop-color="#a2a2a2"/><stop offset=".131" stop-color="#9e9e9e"/><stop offset=".1429" stop-color="#9b9b9b"/><stop offset=".1548" stop-color="#979797"/><stop offset=".1667" stop-color="#949494"/><stop offset=".1786" stop-color="#919191"/><stop offset=".1905" stop-color="#8e8e8e"/><stop offset=".2024" stop-color="#8a8a8a"/><stop offset=".2143" stop-color="#878787"/><stop offset=".2262" stop-color="#838383"/><stop offset=".2381" stop-color="#808080"/><stop offset=".25" stop-color="#7d7d7d"/><stop offset=".2619" stop-color="#7b7b7b"/><stop offset=".2738" stop-color="#787878"/><stop offset=".2857" stop-color="#767676"/><stop offset=".2976" stop-color="#737373"/><stop offset=".3095" stop-color="#707070"/><stop offset=".3214" stop-color="#6d6d6d"/><stop offset=".3333" stop-color="#6b6b6b"/><stop offset=".3452" stop-color="#696969"/><stop offset=".3571" stop-color="#676767"/><stop offset=".369" stop-color="#656565"/><stop offset=".381" stop-color="#646464"/><stop offset=".3929" stop-color="#626262"/><stop offset=".4048" stop-color="#606060"/><stop offset=".4167" stop-color="#5f5f5f"/><stop offset=".4286" stop-color="#5d5d5d"/><stop offset=".4405" stop-color="#5b5b5b"/><stop offset=".4524" stop-color="#595959"/><stop offset=".4643" stop-color="#575757"/><stop offset=".4762" stop-color="#555555"/><stop offset=".4881" stop-color="#535353"/><stop offset=".5" stop-color="#515151"/><stop offset=".5119" stop-color="#4f4f4f"/><stop offset=".5238" stop-color="#4d4d4d"/><stop offset=".5357" stop-color="#4b4b4b"/><stop offset=".5476" stop-color="#494949"/><stop offset=".5595" stop-color="#474747"/><stop offset=".5714" stop-color="#464646"/><stop offset=".5833" stop-color="#444444"/><stop offset=".5952" stop-color="#434343"/><stop offset=".6071" stop-color="#424242"/><stop offset=".631" stop-color="#424242"/><stop offset=".6429" stop-color="#444444"/><stop offset=".6548" stop-color="#464646"/><stop offset=".6667" stop-color="#4a4a4a"/><stop offset=".6786" stop-color="#505050"/><stop offset=".6905" stop-color="#585858"/><stop offset=".7024" stop-color="#626262"/><stop offset=".7143" stop-color="#6b6b6b"/><stop offset=".7262" stop-color="#6f6f6f"/><stop offset=".7381" stop-color="#636363"/><stop offset=".75" stop-color="#464646"/><stop offset=".7619" stop-color="#313131"/><stop offset=".7738" stop-color="#252525"/><stop offset=".7857" stop-color="#1c1c1c"/><stop offset=".7976" stop-color="#151515"/><stop offset=".8095" stop-color="#0f0f0f"/><stop offset=".8214" stop-color="#0a0a0a"/><stop offset=".8333" stop-color="#060606"/><stop offset=".8452" stop-color="#030303"/><stop offset=".8571" stop-color="#000000"/><stop offset="1" stop-color="#000000"/></linearGradient>
<linearGradient id="r46" x1="0" y1="97.5" x2="0" y2="517.5" gradientUnits="userSpaceOnUse"><stop offset="0" stop-color="#ffffff"/><stop offset=".0357" stop-color="#ffffff"/><stop offset=".0476" stop-color="#f3f3f3"/><stop offset=".0595" stop-color="#dddddd"/><stop offset=".0714" stop-color="#cbcbcb"/><stop offset=".0833" stop-color="#bbbbbb"/><stop offset=".0952" stop-color="#afafaf"/><stop offset=".1071" stop-color="#a7a7a7"/><stop offset=".119" stop-color="#a2a2a2"/><stop offset=".131" stop-color="#9e9e9e"/><stop offset=".1429" stop-color="#9b9b9b"/><stop offset=".1548" stop-color="#989898"/><stop offset=".1667" stop-color="#959595"/><stop offset=".1786" stop-color="#919191"/><stop offset=".1905" stop-color="#8e8e8e"/><stop offset=".2024" stop-color="#8a8a8a"/><stop offset=".2143" stop-color="#878787"/><stop offset=".2262" stop-color="#848484"/><stop offset=".2381" stop-color="#808080"/><stop offset=".25" stop-color="#7d7d7d"/><stop offset=".2619" stop-color="#7b7b7b"/><stop offset=".2738" stop-color="#787878"/><stop offset=".2857" stop-color="#767676"/><stop offset=".2976" stop-color="#737373"/><stop offset=".3095" stop-color="#707070"/><stop offset=".3214" stop-color="#6d6d6d"/><stop offset=".3333" stop-color="#6b6b6b"/><stop offset=".3452" stop-color="#696969"/><stop offset=".3571" stop-color="#676767"/><stop offset=".369" stop-color="#656565"/><stop offset=".381" stop-color="#646464"/><stop offset=".3929" stop-color="#626262"/><stop offset=".4048" stop-color="#606060"/><stop offset=".4167" stop-color="#5f5f5f"/><stop offset=".4286" stop-color="#5d5d5d"/><stop offset=".4405" stop-color="#5b5b5b"/><stop offset=".4524" stop-color="#595959"/><stop offset=".4643" stop-color="#575757"/><stop offset=".4762" stop-color="#555555"/><stop offset=".4881" stop-color="#535353"/><stop offset=".5" stop-color="#515151"/><stop offset=".5119" stop-color="#4f4f4f"/><stop offset=".5238" stop-color="#4d4d4d"/><stop offset=".5357" stop-color="#4b4b4b"/><stop offset=".5476" stop-color="#494949"/><stop offset=".5595" stop-color="#474747"/><stop offset=".5714" stop-color="#464646"/><stop offset=".5833" stop-color="#444444"/><stop offset=".5952" stop-color="#434343"/><stop offset=".6071" stop-color="#434343"/><stop offset=".619" stop-color="#424242"/><stop offset=".631" stop-color="#434343"/><stop offset=".6429" stop-color="#444444"/><stop offset=".6548" stop-color="#474747"/><stop offset=".6667" stop-color="#4b4b4b"/><stop offset=".6786" stop-color="#515151"/><stop offset=".6905" stop-color="#595959"/><stop offset=".7024" stop-color="#636363"/><stop offset=".7143" stop-color="#6d6d6d"/><stop offset=".7262" stop-color="#717171"/><stop offset=".7381" stop-color="#646464"/><stop offset=".75" stop-color="#464646"/><stop offset=".7619" stop-color="#323232"/><stop offset=".7738" stop-color="#252525"/><stop offset=".7857" stop-color="#1c1c1c"/><stop offset=".7976" stop-color="#151515"/><stop offset=".8095" stop-color="#0f0f0f"/><stop offset=".8214" stop-color="#0a0a0a"/><stop offset=".8333" stop-color="#060606"/><stop offset=".8452" stop-color="#030303"/><stop offset=".8571" stop-color="#000000"/><stop offset="1" stop-color="#000000"/></linearGradient>
<linearGradient id="r47" x1="0" y1="97.5" x2="0" y2="517.5" gradientUnits="userSpaceOnUse"><stop offset="0" stop-color="#ffffff"/><stop offset=".0357" stop-color="#ffffff"/><stop offset=".0476" stop-color="#f3f3f3"/><stop offset=".0595" stop-color="#dedede"/><stop offset=".0714" stop-color="#cccccc"/><stop offset=".0833" stop-color="#bcbcbc"/><stop offset=".0952" stop-color="#afafaf"/><stop offset=".1071" stop-color="#a7a7a7"/><stop offset=".119" stop-color="#a2a2a2"/><stop offset=".131" stop-color="#9e9e9e"/><stop offset=".1429" stop-color="#9b9b9b"/><stop offset=".1548" stop-color="#989898"/><stop offset=".1667" stop-color="#959595"/><stop offset=".1786" stop-color="#929292"/><stop offset=".1905" stop-color="#8e8e8e"/><stop offset=".2024" stop-color="#8b8b8b"/><stop offset=".2143" stop-color="#878787"/><stop offset=".2262" stop-color="#848484"/><stop offset=".2381" stop-color="#818181"/><stop offset=".25" stop-color="#7e7e7e"/><stop offset=".2619" stop-color="#7b7b7b"/><stop offset=".2738" stop-color="#787878"/><stop offset=".2857" stop-color="#767676"/><stop offset=".2976" stop-color="#737373"/><stop offset=".3095" stop-color="#707070"/><stop offset=".3214" stop-color="#6d6d6d"/><stop offset=".3333" stop-color="#6b6b6b"/><stop offset=".3452" stop-color="#696969"/><stop offset=".3571" stop-color="#676767"/><stop offset=".369" stop-color="#656565"/><stop offset=".381" stop-color="#646464"/><stop offset=".3929" stop-color="#626262"/><stop offset=".4048" stop-color="#616161"/><stop offset=".4167" stop-color="#5f5f5f"/><stop offset=".4286" stop-color="#5d5d5d"/><stop offset=".4405" stop-color="#5b5b5b"/><stop offset=".4524" stop-color="#595959"/><stop offset=".4643" stop-color="#575757"/><stop offset=".4762" stop-color="#555555"/><stop offset=".4881" stop-color="#535353"/><stop offset=".5" stop-color="#515151"/><stop offset=".5119" stop-color="#4f4f4f"/><stop offset=".5238" stop-color="#4d4d4d"/><stop offset=".5357" stop-color="#4b4b4b"/><stop offset=".5476" stop-color="#494949"/><stop offset=".5595" stop-color="#474747"/><stop offset=".5714" stop-color="#464646"/><stop offset=".5833" stop-color="#444444"/><stop offset=".5952" stop-color="#434343"/><stop offset=".631" stop-color="#434343"/><stop offset=".6429" stop-color="#444444"/><stop offset=".6548" stop-color="#474747"/><stop offset=".6667" stop-color="#4b4b4b"/><stop offset=".6786" stop-color="#525252"/><stop offset=".6905" stop-color="#5a5a5a"/><stop offset=".7024" stop-color="#646464"/><stop offset=".7143" stop-color="#6e6e6e"/><stop offset=".7262" stop-color="#737373"/><stop offset=".7381" stop-color="#666666"/><stop offset=".75" stop-color="#474747"/><stop offset=".7619" stop-color="#323232"/><stop offset=".7738" stop-color="#252525"/><stop offset=".7857" stop-color="#1c1c1c"/><stop offset=".7976" stop-color="#151515"/><stop offset=".8095" stop-color="#0f0f0f"/><stop offset=".8214" stop-color="#0b0b0b"/><stop offset=".8333" stop-color="#060606"/><stop offset=".8452" stop-color="#030303"/><stop offset=".8571" stop-color="#000000"/><stop offset="1" stop-color="#000000"/></linearGradient>
<linearGradient id="r48" x1="0" y1="97.5" x2="0" y2="517.5" gradientUnits="userSpaceOnUse"><stop offset="0" stop-color="#ffffff"/><stop offset=".0357" stop-color="#ffffff"/><stop offset=".0476" stop-color="#f4f4f4"/><stop offset=".0595" stop-color="#dedede"/><stop offset=".0714" stop-color="#cccccc"/><stop offset=".0833" stop-color="#bdbdbd"/><stop offset=".0952" stop-color="#b0b0b0"/><stop offset=".1071" stop-color="#a8a8a8"/><stop offset=".119" stop-color="#a3a3a3"/><stop offset=".131" stop-color="#9f9f9f"/><stop offset=".1429" stop-color="#9b9b9b"/><stop offset=".1548" stop-color="#989898"/><stop offset=".1667" stop-color="#959595"/><stop offset=".1786" stop-color="#929292"/><stop offset=".1905" stop-color="#8e8e8e"/><stop offset=".2024" stop-color="#8b8b8b"/><stop offset=".2143" stop-color="#878787"/><stop offset=".2262" stop-color="#848484"/><stop offset=".2381" stop-color="#818181"/><stop offset=".25" stop-color="#7e7e7e"/><stop offset=".2619" stop-color="#7b7b7b"/><stop offset=".2738" stop-color="#797979"/><stop offset=".2857" stop-color="#767676"/><stop offset=".2976" stop-color="#737373"/><stop offset=".3095" stop-color="#707070"/><stop offset=".3214" stop-color="#6e6e6e"/><stop offset=".3333" stop-color="#6b6b6b"/><stop offset=".3452" stop-color="#696969"/><stop offset=".3571" stop-color="#676767"/><stop offset=".369" stop-color="#656565"/><stop offset=".381" stop-color="#646464"/><stop offset=".3929" stop-color="#626262"/><stop offset=".4048" stop-color="#616161"/><stop offset=".4167" stop-color="#5f5f5f"/><stop offset=".4286" stop-color="#5d5d5d"/><stop offset=".4405" stop-color="#5b5b5b"/><stop offset=".4524" stop-color="#595959"/><stop offset=".4643" stop-color="#575757"/><stop offset=".4762" stop-color="#555555"/><stop offset=".4881" stop-color="#535353"/><stop offset=".5" stop-color="#515151"/><stop offset=".5119" stop-color="#4f4f4f"/><stop offset=".5238" stop-color="#4d4d4d"/><stop offset=".5357" stop-color="#4b4b4b"/><stop offset=".5476" stop-color="#494949"/><stop offset=".5595" stop-color="#474747"/><stop offset=".5714" stop-color="#464646"/><stop offset=".5833" stop-color="#454545"/><stop offset=".5952" stop-color="#444444"/><stop offset=".6071" stop-color="#434343"/><stop offset=".631" stop-color="#434343"/><stop offset=".6429" stop-color="#454545"/><stop offset=".6548" stop-color="#474747"/><stop offset=".6667" stop-color="#4c4c4c"/><stop offset=".6786" stop-color="#525252"/><stop offset=".6905" stop-color="#5b5b5b"/><stop offset=".7024" stop-color="#656565"/><stop offset=".7143" stop-color="#6f6f6f"/><stop offset=".7262" stop-color="#747474"/><stop offset=".7381" stop-color="#666666"/><stop offset=".75" stop-color="#474747"/><stop offset=".7619" stop-color="#323232"/><stop offset=".7738" stop-color="#252525"/><stop offset=".7857" stop-color="#1c1c1c"/><stop offset=".7976" stop-color="#151515"/><stop offset=".8095" stop-color="#0f0f0f"/><stop offset=".8214" stop-color="#0b0b0b"/><stop offset=".8333" stop-color="#060606"/><stop offset=".8452" stop-color="#030303"/><stop offset=".8571" stop-color="#000000"/><stop offset="1" stop-color="#000000"/></linearGradient>
<linearGradient id="r49" x1="0" y1="97.5" x2="0" y2="517.5" gradientUnits="userSpaceOnUse"><stop offset="0" stop-color="#ffffff"/><stop offset=".0357" stop-color="#ffffff"/><stop offset=".0476" stop-color="#f4f4f4"/><stop offset=".0595" stop-color="#dfdfdf"/><stop offset=".0714" stop-color="#cdcdcd"/><stop offset=".0833" stop-color="#bdbdbd"/><stop offset=".0952" stop-color="#b0b0b0"/><stop offset=".1071" stop-color="#a8a8a8"/><stop offset=".119" stop-color="#a3a3a3"/><stop offset=".131" stop-color="#9f9f9f"/><stop offset=".1429" stop-color="#9b9b9b"/><stop offset=".1548" stop-color="#989898"/><stop offset=".1667" stop-color="#959595"/><stop offset=".1786" stop-color="#929292"/><stop offset=".1905" stop-color="#8e8e8e"/><stop offset=".2024" stop-color="#8b8b8b"/><stop offset=".2143" stop-color="#878787"/><stop offset=".2262" stop-color="#848484"/><stop offset=".2381" stop-color="#818181"/><stop offset=".25" stop-color="#7e7e7e"/><stop offset=".2619" stop-color="#7b7b7b"/><stop offset=".2738" stop-color="#797979"/><stop offset=".2857" stop-color="#767676"/><stop offset=".2976" stop-color="#737373"/><stop offset=".3095" stop-color="#707070"/><stop offset=".3214" stop-color="#6e6e6e"/><stop offset=".3333" stop-color="#6b6b6b"/><stop offset=".3452" stop-color="#696969"/><stop offset=".3571" stop-color="#676767"/><stop offset=".369" stop-color="#666666"/><stop offset=".381" stop-color="#646464"/><stop offset=".3929" stop-color="#626262"/><stop offset=".4048" stop-color="#616161"/><stop offset=".4167" stop-color="#5f5f5f"/><stop offset=".4286" stop-color="#5d5d5d"/><stop offset=".4405" stop-color="#5b5b5b"/><stop offset=".4524" stop-color="#595959"/><stop offset=".4643" stop-color="#575757"/><stop offset=".4762" stop-color="#555555"/><stop offset=".4881" stop-color="#535353"/><stop offset=".5" stop-color="#515151"/><stop offset=".5119" stop-color="#4f4f4f"/><stop offset=".5238" stop-color="#4d4d4d"/><stop offset=".5357" stop-color="#4b4b4b"/><stop offset=".5476" stop-color="#494949"/><stop offset=".5595" stop-color="#474747"/><stop offset=".5714" stop-color="#464646"/><stop offset=".5833" stop-color="#454545"/><stop offset=".5952" stop-color="#444444"/><stop offset=".6071" stop-color="#434343"/><stop offset=".631" stop-color="#434343"/><stop offset=".6429" stop-color="#454545"/><stop offset=".6548" stop-color="#484848"/><stop offset=".6667" stop-color="#4c4c4c"/><stop offset=".6786" stop-color="#535353"/><stop offset=".6905" stop-color="#5b5b5b"/><stop offset=".7024" stop-color="#666666"/><stop offset=".7143" stop-color="#707070"/><stop offset=".7262" stop-color="#747474"/><stop offset=".7381" stop-color="#676767"/><stop offset=".75" stop-color="#474747"/><stop offset=".7619" stop-color="#323232"/><stop offset=".7738" stop-color="#252525"/><stop offset=".7857" stop-color="#1c1c1c"/><stop offset=".7976" stop-color="#151515"/><stop offset=".8095" stop-color="#0f0f0f"/><stop offset=".8214" stop-color="#0b0b0b"/><stop offset=".8333" stop-color="#060606"/><stop offset=".8452" stop-color="#030303"/><stop offset=".8571" stop-color="#000000"/><stop offset="1" stop-color="#000000"/></linearGradient>
</defs>
<rect width="800" height="526" fill="#ffffff"/>

<!-- Induction Hot Pressing : die temperature field -->
<g clip-path="url(#cl)"><g filter="url(#rbl)">
<rect x="48.00" y="103.4" width="3.61" height="414" fill="url(#l0)"/>
<rect x="51.01" y="103.4" width="3.61" height="414" fill="url(#l1)"/>
<rect x="54.02" y="103.4" width="3.61" height="414" fill="url(#l2)"/>
<rect x="57.03" y="103.4" width="3.61" height="414" fill="url(#l3)"/>
<rect x="60.04" y="103.4" width="3.61" height="414" fill="url(#l4)"/>
<rect x="63.05" y="103.4" width="3.61" height="414" fill="url(#l5)"/>
<rect x="66.07" y="103.4" width="3.61" height="414" fill="url(#l6)"/>
<rect x="69.08" y="103.4" width="3.61" height="414" fill="url(#l7)"/>
<rect x="72.09" y="103.4" width="3.61" height="414" fill="url(#l8)"/>
<rect x="75.10" y="103.4" width="3.61" height="414" fill="url(#l9)"/>
<rect x="78.11" y="103.4" width="3.61" height="414" fill="url(#l10)"/>
<rect x="81.12" y="103.4" width="3.61" height="414" fill="url(#l11)"/>
<rect x="84.13" y="103.4" width="3.61" height="414" fill="url(#l12)"/>
<rect x="87.14" y="103.4" width="3.61" height="414" fill="url(#l13)"/>
<rect x="90.15" y="103.4" width="3.61" height="414" fill="url(#l14)"/>
<rect x="93.16" y="103.4" width="3.61" height="414" fill="url(#l15)"/>
<rect x="96.18" y="103.4" width="3.61" height="414" fill="url(#l16)"/>
<rect x="99.19" y="103.4" width="3.61" height="414" fill="url(#l17)"/>
<rect x="102.20" y="103.4" width="3.61" height="414" fill="url(#l18)"/>
<rect x="105.21" y="103.4" width="3.61" height="414" fill="url(#l19)"/>
<rect x="108.22" y="103.4" width="3.61" height="414" fill="url(#l20)"/>
<rect x="111.23" y="103.4" width="3.61" height="414" fill="url(#l21)"/>
<rect x="114.24" y="103.4" width="3.61" height="414" fill="url(#l22)"/>
<rect x="117.25" y="103.4" width="3.61" height="414" fill="url(#l23)"/>
<rect x="120.26" y="103.4" width="3.61" height="414" fill="url(#l24)"/>
<rect x="123.27" y="103.4" width="3.61" height="414" fill="url(#l25)"/>
<rect x="126.29" y="103.4" width="3.61" height="414" fill="url(#l26)"/>
<rect x="129.30" y="103.4" width="3.61" height="414" fill="url(#l27)"/>
<rect x="132.31" y="103.4" width="3.61" height="414" fill="url(#l28)"/>
<rect x="135.32" y="103.4" width="3.61" height="414" fill="url(#l29)"/>
<rect x="138.33" y="103.4" width="3.61" height="414" fill="url(#l30)"/>
<rect x="141.34" y="103.4" width="3.61" height="414" fill="url(#l31)"/>
<rect x="144.35" y="103.4" width="3.61" height="414" fill="url(#l32)"/>
<rect x="147.36" y="103.4" width="3.61" height="414" fill="url(#l33)"/>
<rect x="150.37" y="103.4" width="3.61" height="414" fill="url(#l34)"/>
<rect x="153.38" y="103.4" width="3.61" height="414" fill="url(#l35)"/>
<rect x="156.40" y="103.4" width="3.61" height="414" fill="url(#l36)"/>
<rect x="159.41" y="103.4" width="3.61" height="414" fill="url(#l37)"/>
<rect x="162.42" y="103.4" width="3.61" height="414" fill="url(#l38)"/>
<rect x="165.43" y="103.4" width="3.61" height="414" fill="url(#l39)"/>
<rect x="168.44" y="103.4" width="3.61" height="414" fill="url(#l40)"/>
<rect x="171.45" y="103.4" width="3.61" height="414" fill="url(#l40)"/>
<rect x="174.46" y="103.4" width="3.61" height="414" fill="url(#l39)"/>
<rect x="177.47" y="103.4" width="3.61" height="414" fill="url(#l38)"/>
<rect x="180.48" y="103.4" width="3.61" height="414" fill="url(#l37)"/>
<rect x="183.49" y="103.4" width="3.61" height="414" fill="url(#l36)"/>
<rect x="186.50" y="103.4" width="3.61" height="414" fill="url(#l35)"/>
<rect x="189.52" y="103.4" width="3.61" height="414" fill="url(#l34)"/>
<rect x="192.53" y="103.4" width="3.61" height="414" fill="url(#l33)"/>
<rect x="195.54" y="103.4" width="3.61" height="414" fill="url(#l32)"/>
<rect x="198.55" y="103.4" width="3.61" height="414" fill="url(#l31)"/>
<rect x="201.56" y="103.4" width="3.61" height="414" fill="url(#l30)"/>
<rect x="204.57" y="103.4" width="3.61" height="414" fill="url(#l29)"/>
<rect x="207.58" y="103.4" width="3.61" height="414" fill="url(#l28)"/>
<rect x="210.59" y="103.4" width="3.61" height="414" fill="url(#l27)"/>
<rect x="213.60" y="103.4" width="3.61" height="414" fill="url(#l26)"/>
<rect x="216.61" y="103.4" width="3.61" height="414" fill="url(#l25)"/>
<rect x="219.63" y="103.4" width="3.61" height="414" fill="url(#l24)"/>
<rect x="222.64" y="103.4" width="3.61" height="414" fill="url(#l23)"/>
<rect x="225.65" y="103.4" width="3.61" height="414" fill="url(#l22)"/>
<rect x="228.66" y="103.4" width="3.61" height="414" fill="url(#l21)"/>
<rect x="231.67" y="103.4" width="3.61" height="414" fill="url(#l20)"/>
<rect x="234.68" y="103.4" width="3.61" height="414" fill="url(#l19)"/>
<rect x="237.69" y="103.4" width="3.61" height="414" fill="url(#l18)"/>
<rect x="240.70" y="103.4" width="3.61" height="414" fill="url(#l17)"/>
<rect x="243.71" y="103.4" width="3.61" height="414" fill="url(#l16)"/>
<rect x="246.72" y="103.4" width="3.61" height="414" fill="url(#l15)"/>
<rect x="249.74" y="103.4" width="3.61" height="414" fill="url(#l14)"/>
<rect x="252.75" y="103.4" width="3.61" height="414" fill="url(#l13)"/>
<rect x="255.76" y="103.4" width="3.61" height="414" fill="url(#l12)"/>
<rect x="258.77" y="103.4" width="3.61" height="414" fill="url(#l11)"/>
<rect x="261.78" y="103.4" width="3.61" height="414" fill="url(#l10)"/>
<rect x="264.79" y="103.4" width="3.61" height="414" fill="url(#l9)"/>
<rect x="267.80" y="103.4" width="3.61" height="414" fill="url(#l8)"/>
<rect x="270.81" y="103.4" width="3.61" height="414" fill="url(#l7)"/>
<rect x="273.82" y="103.4" width="3.61" height="414" fill="url(#l6)"/>
<rect x="276.83" y="103.4" width="3.61" height="414" fill="url(#l5)"/>
<rect x="279.85" y="103.4" width="3.61" height="414" fill="url(#l4)"/>
<rect x="282.86" y="103.4" width="3.61" height="414" fill="url(#l3)"/>
<rect x="285.87" y="103.4" width="3.61" height="414" fill="url(#l2)"/>
<rect x="288.88" y="103.4" width="3.61" height="414" fill="url(#l1)"/>
<rect x="291.89" y="103.4" width="3.61" height="414" fill="url(#l0)"/>
</g></g>
<rect x="144.2" y="60" width="55.4" height="164.5" fill="url(#plg)"/>

<!-- Spark Plasma Sintering : die temperature field -->
<g clip-path="url(#cr)"><g filter="url(#rbr)">
<rect x="415.00" y="97.5" width="3.13" height="420" fill="url(#r0)"/>
<rect x="417.53" y="97.5" width="3.13" height="420" fill="url(#r1)"/>
<rect x="420.06" y="97.5" width="3.13" height="420" fill="url(#r2)"/>
<rect x="422.59" y="97.5" width="3.13" height="420" fill="url(#r3)"/>
<rect x="425.12" y="97.5" width="3.13" height="420" fill="url(#r4)"/>
<rect x="427.64" y="97.5" width="3.13" height="420" fill="url(#r5)"/>
<rect x="430.17" y="97.5" width="3.13" height="420" fill="url(#r6)"/>
<rect x="432.70" y="97.5" width="3.13" height="420" fill="url(#r7)"/>
<rect x="435.23" y="97.5" width="3.13" height="420" fill="url(#r8)"/>
<rect x="437.76" y="97.5" width="3.13" height="420" fill="url(#r9)"/>
<rect x="440.29" y="97.5" width="3.13" height="420" fill="url(#r10)"/>
<rect x="442.82" y="97.5" width="3.13" height="420" fill="url(#r11)"/>
<rect x="445.35" y="97.5" width="3.13" height="420" fill="url(#r12)"/>
<rect x="447.88" y="97.5" width="3.13" height="420" fill="url(#r13)"/>
<rect x="450.41" y="97.5" width="3.13" height="420" fill="url(#r14)"/>
<rect x="452.94" y="97.5" width="3.13" height="420" fill="url(#r15)"/>
<rect x="455.46" y="97.5" width="3.13" height="420" fill="url(#r16)"/>
<rect x="457.99" y="97.5" width="3.13" height="420" fill="url(#r17)"/>
<rect x="460.52" y="97.5" width="3.13" height="420" fill="url(#r18)"/>
<rect x="463.05" y="97.5" width="3.13" height="420" fill="url(#r19)"/>
<rect x="465.58" y="97.5" width="3.13" height="420" fill="url(#r20)"/>
<rect x="468.11" y="97.5" width="3.13" height="420" fill="url(#r21)"/>
<rect x="470.64" y="97.5" width="3.13" height="420" fill="url(#r22)"/>
<rect x="473.17" y="97.5" width="3.13" height="420" fill="url(#r23)"/>
<rect x="475.70" y="97.5" width="3.13" height="420" fill="url(#r24)"/>
<rect x="478.23" y="97.5" width="3.13" height="420" fill="url(#r25)"/>
<rect x="480.75" y="97.5" width="3.13" height="420" fill="url(#r26)"/>
<rect x="483.28" y="97.5" width="3.13" height="420" fill="url(#r27)"/>
<rect x="485.81" y="97.5" width="3.13" height="420" fill="url(#r28)"/>
<rect x="488.34" y="97.5" width="3.13" height="420" fill="url(#r29)"/>
<rect x="490.87" y="97.5" width="3.13" height="420" fill="url(#r30)"/>
<rect x="493.40" y="97.5" width="3.13" height="420" fill="url(#r31)"/>
<rect x="495.93" y="97.5" width="3.13" height="420" fill="url(#r32)"/>
<rect x="498.46" y="97.5" width="3.13" height="420" fill="url(#r33)"/>
<rect x="500.99" y="97.5" width="3.13" height="420" fill="url(#r34)"/>
<rect x="503.51" y="97.5" width="3.13" height="420" fill="url(#r35)"/>
<rect x="506.04" y="97.5" width="3.13" height="420" fill="url(#r36)"/>
<rect x="508.57" y="97.5" width="3.13" height="420" fill="url(#r37)"/>
<rect x="511.10" y="97.5" width="3.13" height="420" fill="url(#r38)"/>
<rect x="513.63" y="97.5" width="3.13" height="420" fill="url(#r39)"/>
<rect x="516.16" y="97.5" width="3.13" height="420" fill="url(#r40)"/>
<rect x="518.69" y="97.5" width="3.13" height="420" fill="url(#r41)"/>
<rect x="521.22" y="97.5" width="3.13" height="420" fill="url(#r42)"/>
<rect x="523.75" y="97.5" width="3.13" height="420" fill="url(#r43)"/>
<rect x="526.28" y="97.5" width="3.13" height="420" fill="url(#r44)"/>
<rect x="528.80" y="97.5" width="3.13" height="420" fill="url(#r45)"/>
<rect x="531.33" y="97.5" width="3.13" height="420" fill="url(#r46)"/>
<rect x="533.86" y="97.5" width="3.13" height="420" fill="url(#r47)"/>
<rect x="536.39" y="97.5" width="3.13" height="420" fill="url(#r48)"/>
<rect x="538.92" y="97.5" width="3.13" height="420" fill="url(#r49)"/>
<rect x="541.45" y="97.5" width="3.13" height="420" fill="url(#r49)"/>
<rect x="543.98" y="97.5" width="3.13" height="420" fill="url(#r48)"/>
<rect x="546.51" y="97.5" width="3.13" height="420" fill="url(#r47)"/>
<rect x="549.04" y="97.5" width="3.13" height="420" fill="url(#r46)"/>
<rect x="551.57" y="97.5" width="3.13" height="420" fill="url(#r45)"/>
<rect x="554.10" y="97.5" width="3.13" height="420" fill="url(#r44)"/>
<rect x="556.62" y="97.5" width="3.13" height="420" fill="url(#r43)"/>
<rect x="559.15" y="97.5" width="3.13" height="420" fill="url(#r42)"/>
<rect x="561.68" y="97.5" width="3.13" height="420" fill="url(#r41)"/>
<rect x="564.21" y="97.5" width="3.13" height="420" fill="url(#r40)"/>
<rect x="566.74" y="97.5" width="3.13" height="420" fill="url(#r39)"/>
<rect x="569.27" y="97.5" width="3.13" height="420" fill="url(#r38)"/>
<rect x="571.80" y="97.5" width="3.13" height="420" fill="url(#r37)"/>
<rect x="574.33" y="97.5" width="3.13" height="420" fill="url(#r36)"/>
<rect x="576.86" y="97.5" width="3.13" height="420" fill="url(#r35)"/>
<rect x="579.38" y="97.5" width="3.13" height="420" fill="url(#r34)"/>
<rect x="581.91" y="97.5" width="3.13" height="420" fill="url(#r33)"/>
<rect x="584.44" y="97.5" width="3.13" height="420" fill="url(#r32)"/>
<rect x="586.97" y="97.5" width="3.13" height="420" fill="url(#r31)"/>
<rect x="589.50" y="97.5" width="3.13" height="420" fill="url(#r30)"/>
<rect x="592.03" y="97.5" width="3.13" height="420" fill="url(#r29)"/>
<rect x="594.56" y="97.5" width="3.13" height="420" fill="url(#r28)"/>
<rect x="597.09" y="97.5" width="3.13" height="420" fill="url(#r27)"/>
<rect x="599.62" y="97.5" width="3.13" height="420" fill="url(#r26)"/>
<rect x="602.15" y="97.5" width="3.13" height="420" fill="url(#r25)"/>
<rect x="604.67" y="97.5" width="3.13" height="420" fill="url(#r24)"/>
<rect x="607.20" y="97.5" width="3.13" height="420" fill="url(#r23)"/>
<rect x="609.73" y="97.5" width="3.13" height="420" fill="url(#r22)"/>
<rect x="612.26" y="97.5" width="3.13" height="420" fill="url(#r21)"/>
<rect x="614.79" y="97.5" width="3.13" height="420" fill="url(#r20)"/>
<rect x="617.32" y="97.5" width="3.13" height="420" fill="url(#r19)"/>
<rect x="619.85" y="97.5" width="3.13" height="420" fill="url(#r18)"/>
<rect x="622.38" y="97.5" width="3.13" height="420" fill="url(#r17)"/>
<rect x="624.91" y="97.5" width="3.13" height="420" fill="url(#r16)"/>
<rect x="627.44" y="97.5" width="3.13" height="420" fill="url(#r15)"/>
<rect x="629.97" y="97.5" width="3.13" height="420" fill="url(#r14)"/>
<rect x="632.49" y="97.5" width="3.13" height="420" fill="url(#r13)"/>
<rect x="635.02" y="97.5" width="3.13" height="420" fill="url(#r12)"/>
<rect x="637.55" y="97.5" width="3.13" height="420" fill="url(#r11)"/>
<rect x="640.08" y="97.5" width="3.13" height="420" fill="url(#r10)"/>
<rect x="642.61" y="97.5" width="3.13" height="420" fill="url(#r9)"/>
<rect x="645.14" y="97.5" width="3.13" height="420" fill="url(#r8)"/>
<rect x="647.67" y="97.5" width="3.13" height="420" fill="url(#r7)"/>
<rect x="650.20" y="97.5" width="3.13" height="420" fill="url(#r6)"/>
<rect x="652.73" y="97.5" width="3.13" height="420" fill="url(#r5)"/>
<rect x="655.25" y="97.5" width="3.13" height="420" fill="url(#r4)"/>
<rect x="657.78" y="97.5" width="3.13" height="420" fill="url(#r3)"/>
<rect x="660.31" y="97.5" width="3.13" height="420" fill="url(#r2)"/>
<rect x="662.84" y="97.5" width="3.13" height="420" fill="url(#r1)"/>
<rect x="665.37" y="97.5" width="3.13" height="420" fill="url(#r0)"/>
</g></g>
<rect x="513.2" y="53.7" width="56.6" height="58.5" fill="#ff0000"/>

<!-- colour bars -->
<rect x="334.3" y="298.9" width="13.5" height="201.8" fill="url(#bar)"/>
<rect x="704.7" y="298.9" width="13.3" height="201.8" fill="url(#bar)"/>

<!-- arrows -->
<path class="al" d="M-2 290.5H42.2"/><path class="ah" d="M49.5 290.5L41.2 286.3L41.2 294.7Z"/><path class="al" d="M-2 315.4H42.2"/><path class="ah" d="M49.5 315.4L41.2 311.2L41.2 319.6Z"/><path class="al" d="M-2 340.2H42.2"/><path class="ah" d="M49.5 340.2L41.2 336L41.2 344.4Z"/><path class="al" d="M337.5 232.6H295.6"/><path class="ah" d="M288.3 232.6L296.6 228.4L296.6 236.8Z"/><path class="al" d="M337.5 257.4H295.6"/><path class="ah" d="M288.3 257.4L296.6 253.2L296.6 261.6Z"/><path class="al" d="M337.5 282.4H295.6"/><path class="ah" d="M288.3 282.4L296.6 278.2L296.6 286.6Z"/><path class="al" d="M506.5 142V175.3"/><path class="ah" d="M506.5 182.5L502.6 174.3L510.4 174.3Z"/><path class="al ab" d="M506.5 455.5V421.7"/><path class="ah" d="M506.5 414.5L502.6 422.7L510.4 422.7Z"/><path class="al" d="M531.4 142V175.3"/><path class="ah" d="M531.4 182.5L527.5 174.3L535.3 174.3Z"/><path class="al ab" d="M531.4 455.5V421.7"/><path class="ah" d="M531.4 414.5L527.5 422.7L535.3 422.7Z"/><path class="al" d="M556.1 142V175.3"/><path class="ah" d="M556.1 182.5L552.2 174.3L560 174.3Z"/><path class="al ab" d="M556.1 455.5V421.7"/><path class="ah" d="M556.1 414.5L552.2 422.7L560 422.7Z"/><path class="al" d="M580.7 142V175.3"/><path class="ah" d="M580.7 182.5L576.8 174.3L584.6 174.3Z"/><path class="al ab" d="M580.7 455.5V421.7"/><path class="ah" d="M580.7 414.5L576.8 422.7L584.6 422.7Z"/>

<!-- labels -->
<text class="ttl" transform="translate(35.5 33.8) scale(1 1.04)">Induction Hot Pressing</text>
<text class="ttl" transform="translate(398.6 32.8) scale(1 1.04)">Spark Plasma Sintering</text>
<text class="lab" transform="translate(353.2 320.6) scale(1 1.04)">1050</text>
<text class="lab" transform="translate(352.4 410.2) scale(1 1.04)">500</text>
<text class="lab" transform="translate(352.4 502.6) scale(1 1.04)">300</text>
<text class="lab" transform="translate(723.9 320.8) scale(1 1.04)">1400</text>
<text class="lab" transform="translate(723.2 410.4) scale(1 1.04)">1050</text>
<text class="lab" transform="translate(723.4 502.6) scale(1 1.04)">300</text>
<text class="rot" transform="translate(320.2 506.3) rotate(-90) scale(1 1.06)">T<tspan dx="-1.2">emperature</tspan> <tspan dx="-1.3">(°C)</tspan></text>
<text class="rot" transform="translate(691.2 506.3) rotate(-90) scale(1 1.06)">T<tspan dx="-1.2">emperature</tspan> <tspan dx="-1.3">(°C)</tspan></text>
</svg>
</body>
</html>
